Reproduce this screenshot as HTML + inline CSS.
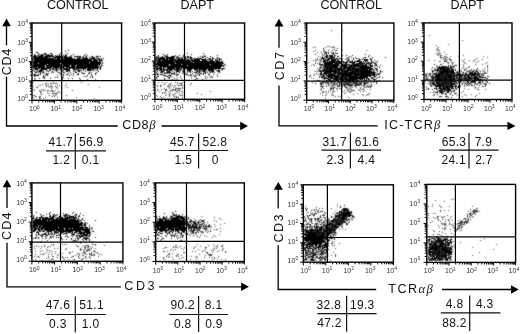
<!DOCTYPE html>
<html><head><meta charset="utf-8"><style>
html,body{margin:0;padding:0;background:#fff;width:520px;height:334px;overflow:hidden}
svg{display:block;will-change:transform}
</style></head><body>
<svg width="520" height="334" viewBox="0 0 520 334">
<defs><filter id="bl" x="0" y="0" width="520" height="334" filterUnits="userSpaceOnUse"><feConvolveMatrix order="3" kernelMatrix="0.04 0.1 0.04 0.1 0.44 0.1 0.04 0.1 0.04" divisor="1" edgeMode="none"/></filter></defs>
<rect width="520" height="334" fill="#fff"/>
<g filter="url(#bl)" stroke-width="1" fill="none">
<path stroke="#000" d="M56 64.5h1M35 60.5h1M36 60.5h1M62 62.5h1M61 60.5h1M44 56.5h1M67 67.5h1M37 58.5h1M43 62.5h1M88 66.5h1M74 65.5h1M38 61.5h1M77 63.5h1M70 63.5h1M85 60.5h1M67 61.5h1M80 70.5h1M37 63.5h1M42 61.5h1M78 58.5h1M90 67.5h1M70 60.5h1M91 62.5h1M80 64.5h1M80 62.5h1M49 64.5h1M33 61.5h1M44 62.5h1M41 63.5h1M93 64.5h1M72 58.5h1M90 66.5h1M60 56.5h1M45 61.5h1M52 61.5h1M53 58.5h1M76 62.5h1M82 64.5h1M87 59.5h1M58 62.5h1M47 63.5h1M37 60.5h1M39 61.5h1M90 62.5h1M48 63.5h1M44 53.5h1M63 62.5h1M38 62.5h1M88 63.5h1M95 63.5h1M71 62.5h1M100 60.5h1M49 62.5h1M81 61.5h1M55 66.5h1M101 59.5h1M87 60.5h1M67 62.5h1M34 62.5h1M100 62.5h1M57 63.5h1M46 65.5h1M94 60.5h1M77 61.5h1M80 59.5h1M82 63.5h1M84 67.5h1M96 65.5h1M96 61.5h1M44 66.5h1M89 67.5h1M97 61.5h1M69 62.5h1M96 60.5h1M91 65.5h1M88 65.5h1M52 65.5h1M92 65.5h1M73 60.5h1M92 63.5h1M70 62.5h1M48 61.5h1M41 61.5h1M69 65.5h1M70 64.5h1M82 62.5h1M85 61.5h1M67 60.5h1M93 62.5h1M74 60.5h1M43 63.5h1M37 61.5h1M78 56.5h1M42 56.5h1M46 55.5h1M49 60.5h1M69 61.5h1M41 62.5h1M83 63.5h1M64 62.5h1M74 62.5h1M100 56.5h1M85 64.5h1M64 59.5h1M52 66.5h1M70 61.5h1M36 57.5h1M40 59.5h1M90 65.5h1M38 58.5h1M51 59.5h1M52 63.5h1M36 63.5h1M53 59.5h1M67 64.5h1M34 61.5h1M65 61.5h1M87 65.5h1M59 62.5h1M44 63.5h1M50 62.5h1M91 59.5h1M51 63.5h1M64 64.5h1M55 59.5h1M69 69.5h1M53 61.5h1M56 62.5h1M46 61.5h1M52 62.5h1M46 59.5h1M81 59.5h1M90 64.5h1M100 67.5h1M79 64.5h1M90 59.5h1M68 57.5h1M84 59.5h1M78 60.5h1M36 62.5h1M41 57.5h1M72 59.5h1M51 62.5h1M82 67.5h1M96 63.5h1M63 57.5h1M73 61.5h1M42 65.5h1M36 65.5h1M65 62.5h1M41 59.5h1M98 63.5h1M65 55.5h1M62 63.5h1M96 67.5h1M37 59.5h1M42 57.5h1M92 61.5h1M54 63.5h1M54 61.5h1M83 61.5h1M94 57.5h1M98 62.5h1M61 62.5h1M40 58.5h1M95 65.5h1M99 59.5h1M79 58.5h1M78 64.5h1M76 63.5h1M98 67.5h1M51 60.5h1M42 62.5h1M57 62.5h1M46 58.5h1M81 64.5h1M66 64.5h1M36 68.5h1M38 60.5h1M99 58.5h1M90 63.5h1M91 56.5h1M66 55.5h1M63 61.5h1M85 69.5h1M75 63.5h1M47 57.5h1M66 60.5h1M52 60.5h1M55 61.5h1M78 61.5h1M34 63.5h1M79 67.5h1M81 62.5h1M96 68.5h1M49 66.5h1M54 60.5h1M45 64.5h1M78 62.5h1M60 69.5h1M43 61.5h1M62 58.5h1M86 62.5h1M56 67.5h1M85 63.5h1M57 61.5h1M98 66.5h1M88 60.5h1M87 62.5h1M39 63.5h1M50 55.5h1M55 68.5h1M74 67.5h1M86 60.5h1M97 63.5h1M69 60.5h1M58 64.5h1M86 57.5h1M39 65.5h1M50 61.5h1M67 69.5h1M93 63.5h1M40 62.5h1M79 63.5h1M58 58.5h1M42 58.5h1M68 65.5h1M46 63.5h1M45 58.5h1M49 67.5h1M77 62.5h1M66 56.5h1M42 68.5h1M89 63.5h1M71 60.5h1M58 63.5h1M47 58.5h1M43 58.5h1M50 68.5h1M65 54.5h1M58 66.5h1M62 59.5h1M56 61.5h1M47 60.5h1M36 61.5h1M98 64.5h1M38 59.5h1M44 59.5h1M62 57.5h1M66 63.5h1M48 55.5h1M32 58.5h1M36 59.5h1M60 59.5h1M66 66.5h1M84 63.5h1M63 63.5h1M69 63.5h1M38 55.5h1M59 61.5h1M89 70.5h1M45 54.5h1M35 64.5h1M89 65.5h1M66 62.5h1M47 66.5h1M79 61.5h1M73 67.5h1M66 59.5h1M42 60.5h1M59 59.5h1M97 62.5h1M86 64.5h1M46 54.5h1M34 60.5h1M72 63.5h1M45 59.5h1M43 60.5h1M45 63.5h1M91 60.5h1M65 60.5h1M50 60.5h1M67 63.5h1M76 60.5h1M53 62.5h1M93 58.5h1M35 56.5h1M64 58.5h1M33 64.5h1M81 58.5h1M48 60.5h1M84 62.5h1M48 54.5h1M81 68.5h1M55 67.5h1M74 58.5h1M94 64.5h1M81 60.5h1M46 60.5h1M94 63.5h1M77 59.5h1M84 64.5h1M58 56.5h1M95 62.5h1M47 61.5h1M87 61.5h1M42 63.5h1M93 66.5h1M88 70.5h1M68 64.5h1M39 56.5h1M84 61.5h1M56 65.5h1M39 60.5h1M46 67.5h1M63 66.5h1M46 62.5h1M83 58.5h1M55 63.5h1M73 64.5h1M52 56.5h1M57 68.5h1M85 67.5h1M35 66.5h1M86 59.5h1M45 60.5h1M60 57.5h1M65 59.5h1M71 59.5h1M47 55.5h1M83 57.5h1M77 60.5h1M53 60.5h1M61 57.5h1M75 65.5h1M66 61.5h1M71 66.5h1M68 61.5h1M64 57.5h1M63 65.5h1M88 68.5h1M51 66.5h1M42 55.5h1M77 57.5h1M48 62.5h1M48 64.5h1M59 58.5h1M87 67.5h1M75 62.5h1M95 61.5h1M93 61.5h1M89 60.5h1M68 59.5h1M50 63.5h1M35 61.5h1M99 65.5h1M78 63.5h1M80 61.5h1M96 64.5h1M72 67.5h1M55 62.5h1M85 65.5h1M57 60.5h1M66 65.5h1M96 59.5h1M69 58.5h1M34 54.5h1M71 58.5h1M79 66.5h1M63 60.5h1M88 59.5h1M38 64.5h1M62 64.5h1M32 59.5h1M101 66.5h1M44 61.5h1M49 59.5h1M36 56.5h1M90 61.5h1M74 59.5h1M95 70.5h1M76 61.5h1M55 60.5h1M80 66.5h1M55 58.5h1M58 65.5h1M57 64.5h1M80 60.5h1M72 65.5h1M76 59.5h1M58 59.5h1M53 57.5h1M35 59.5h1M83 59.5h1M40 56.5h1M44 58.5h1M72 64.5h1M49 63.5h1M60 64.5h1M87 66.5h1M64 61.5h1M86 56.5h1M51 61.5h1M97 67.5h1M99 63.5h1M35 63.5h1M42 54.5h1M77 66.5h1M51 58.5h1M93 65.5h1M73 63.5h1M79 62.5h1M91 66.5h1M42 66.5h1M102 65.5h1M78 65.5h1M34 57.5h1M45 56.5h1M72 62.5h1M37 57.5h1M57 56.5h1M88 61.5h1M78 66.5h1M40 55.5h1M74 63.5h1M39 59.5h1M53 63.5h1M38 57.5h1M39 58.5h1M55 64.5h1M64 66.5h1M50 64.5h1M90 60.5h1M92 64.5h1M98 56.5h1M76 56.5h1M95 64.5h1M50 59.5h1M59 63.5h1M68 60.5h1M65 64.5h1M41 68.5h1M83 64.5h1M82 57.5h1M65 57.5h1M33 56.5h1M61 56.5h1M63 59.5h1M55 56.5h1M54 64.5h1M56 56.5h1M97 66.5h1M59 60.5h1M94 62.5h1M57 55.5h1M91 58.5h1M100 61.5h1M42 64.5h1M99 62.5h1M49 58.5h1M43 65.5h1M87 63.5h1M83 67.5h1M41 58.5h1M54 62.5h1M86 66.5h1M46 64.5h1M46 66.5h1M60 62.5h1M87 64.5h1M34 58.5h1M43 59.5h1M41 64.5h1M65 65.5h1M52 59.5h1M57 65.5h1M82 65.5h1M40 65.5h1M69 64.5h1M48 65.5h1M34 64.5h1M46 57.5h1M80 65.5h1M87 69.5h1M59 56.5h1M55 65.5h1M41 60.5h1M72 61.5h1M63 64.5h1M40 60.5h1M64 56.5h1M40 63.5h1M37 52.5h1M36 58.5h1M35 55.5h1M53 65.5h1M87 58.5h1M56 66.5h1M52 64.5h1M33 59.5h1M85 62.5h1M50 58.5h1M79 57.5h1M43 64.5h1M101 60.5h1M73 66.5h1M50 66.5h1M56 60.5h1M84 66.5h1M61 68.5h1M86 63.5h1M92 67.5h1M56 57.5h1M94 61.5h1M69 66.5h1M61 66.5h1M67 57.5h1M61 58.5h1M37 62.5h1M92 62.5h1M37 64.5h1M48 59.5h1M71 56.5h1M82 59.5h1M53 56.5h1M52 69.5h1M64 63.5h1M45 62.5h1M93 68.5h1M73 62.5h1M81 65.5h1M75 59.5h1M45 53.5h1M76 64.5h1M91 64.5h1M54 57.5h1M73 65.5h1M101 64.5h1M81 63.5h1M75 61.5h1M84 60.5h1M99 68.5h1M40 61.5h1M44 65.5h1M85 71.5h1M96 66.5h1M75 64.5h1M90 68.5h1M92 68.5h1M99 64.5h1M95 67.5h1M36 66.5h1M85 57.5h1M35 65.5h1M60 61.5h1M74 61.5h1M83 62.5h1M102 63.5h1M94 67.5h1M73 68.5h1M65 63.5h1M89 61.5h1M57 58.5h1M99 60.5h1M66 57.5h1M54 67.5h1M60 65.5h1M86 65.5h1M97 60.5h1M69 59.5h1M62 61.5h1M101 58.5h1M92 57.5h1M64 60.5h1M88 69.5h1M71 63.5h1M54 66.5h1M51 56.5h1M61 61.5h1M47 59.5h1M77 64.5h1M91 68.5h1M76 68.5h1M76 66.5h1M91 67.5h1M102 62.5h1M50 65.5h1M67 59.5h1M41 66.5h1M33 62.5h1M72 66.5h1M33 57.5h1M44 54.5h1M93 57.5h1M89 57.5h1M100 68.5h1M85 68.5h1M78 59.5h1M86 58.5h1M52 58.5h1M36 64.5h1M38 65.5h1M89 59.5h1M89 66.5h1M88 62.5h1M95 66.5h1M58 61.5h1M63 55.5h1M58 67.5h1M94 66.5h1M82 61.5h1M83 66.5h1M43 67.5h1M83 65.5h1M75 67.5h1M58 60.5h1M82 60.5h1M88 64.5h1M79 59.5h1M95 60.5h1M65 56.5h1M70 67.5h1M86 61.5h1M85 58.5h1M47 62.5h1M40 64.5h1M52 54.5h1M39 62.5h1M45 57.5h1M99 61.5h1M35 57.5h1M39 54.5h1M43 57.5h1M102 60.5h1M92 56.5h1M70 58.5h1M37 69.5h1M94 65.5h1M34 59.5h1M41 54.5h1M77 65.5h1M59 64.5h1M38 56.5h1M39 57.5h1M71 57.5h1M83 56.5h1M79 60.5h1M93 69.5h1M51 64.5h1M34 66.5h1M93 67.5h1M71 65.5h1M92 66.5h1M33 65.5h1M100 66.5h1M77 58.5h1M62 60.5h1M35 58.5h1M47 65.5h1M34 56.5h1M44 64.5h1M74 56.5h1M68 63.5h1M61 67.5h1M96 57.5h1M44 57.5h1M91 74.5h1M64 69.5h1M59 65.5h1M80 56.5h1M70 57.5h1M90 58.5h1M78 69.5h1M85 66.5h1M44 60.5h1M100 63.5h1M81 67.5h1M87 55.5h1M65 66.5h1M67 58.5h1M37 55.5h1M56 63.5h1M89 64.5h1M62 56.5h1M57 57.5h1M98 58.5h1M67 66.5h1M94 68.5h1M61 54.5h1M50 56.5h1M91 61.5h1M53 67.5h1M80 63.5h1M69 57.5h1M57 66.5h1M87 68.5h1M97 64.5h1M51 65.5h1M80 68.5h1M59 54.5h1M74 64.5h1M59 57.5h1M93 60.5h1M53 64.5h1M85 59.5h1M50 69.5h1M34 55.5h1M94 58.5h1M54 59.5h1M76 67.5h1M65 68.5h1M49 57.5h1M97 65.5h1M86 67.5h1M67 65.5h1M96 62.5h1M42 59.5h1M98 59.5h1M70 59.5h1M98 71.5h1M72 60.5h1M83 68.5h1M46 56.5h1M36 52.5h1M97 69.5h1M49 61.5h1M60 60.5h1M68 67.5h1M83 60.5h1M42 67.5h1M53 66.5h1M97 68.5h1M35 62.5h1M75 56.5h1M60 66.5h1M40 57.5h1M92 69.5h1M51 55.5h1M48 58.5h1M49 68.5h1M55 57.5h1M84 68.5h1M84 58.5h1M59 55.5h1M82 66.5h1M41 55.5h1M58 57.5h1M61 59.5h1M32 61.5h1M77 67.5h1M66 69.5h1M39 64.5h1M91 63.5h1M61 65.5h1M103 58.5h1M75 72.5h1M48 56.5h1M97 58.5h1M48 68.5h1M95 59.5h1M77 56.5h1M76 69.5h1M97 56.5h1M56 59.5h1M71 55.5h1M49 56.5h1M68 58.5h1M47 56.5h1M63 67.5h1M68 62.5h1M73 54.5h1M32 66.5h1M65 58.5h1M37 66.5h1M55 55.5h1M70 72.5h1M78 70.5h1M78 67.5h1M100 69.5h1M50 67.5h1M43 55.5h1M79 68.5h1M73 59.5h1M33 63.5h1M79 56.5h1M66 58.5h1M41 67.5h1M80 57.5h1M79 65.5h1M71 64.5h1M38 53.5h1M50 53.5h1M69 56.5h1M61 71.5h1M78 71.5h1M95 68.5h1M49 55.5h1M60 53.5h1M89 68.5h1M84 55.5h1M73 69.5h1M41 56.5h1M36 69.5h1M94 59.5h1M67 53.5h1M56 69.5h1M85 54.5h1M93 59.5h1M63 72.5h1M92 58.5h1M54 65.5h1M69 71.5h1M96 56.5h1M75 60.5h1M52 55.5h1M57 59.5h1M56 70.5h1M68 50.5h1M91 70.5h1M65 51.5h1M71 61.5h1M74 69.5h1M51 53.5h1M41 65.5h1M35 69.5h1M55 77.5h1M36 71.5h1M77 68.5h1M66 67.5h1M39 68.5h1M61 76.5h1M67 71.5h1M42 70.5h1M69 75.5h1M40 67.5h1M46 68.5h1M33 67.5h1M33 68.5h1M68 66.5h1M67 68.5h1M43 72.5h1M33 66.5h1M47 75.5h1M45 69.5h1M60 67.5h1M90 77.5h1M75 71.5h1M37 65.5h1M83 70.5h1M43 77.5h1M48 67.5h1M89 73.5h1M81 72.5h1M84 73.5h1M59 66.5h1M78 73.5h1M79 78.5h1M47 67.5h1M52 71.5h1M73 75.5h1M46 74.5h1M34 71.5h1M75 69.5h1M40 71.5h1M83 69.5h1M41 69.5h1M37 75.5h1M68 78.5h1M39 66.5h1M45 68.5h1M57 77.5h1M63 70.5h1M64 72.5h1M49 65.5h1M96 72.5h1M41 70.5h1M43 66.5h1M33 74.5h1M40 73.5h1M58 69.5h1M66 70.5h1M86 76.5h1M35 72.5h1M39 67.5h1M40 74.5h1M82 73.5h1M50 78.5h1M43 69.5h1M68 70.5h1M60 74.5h1M35 67.5h1M64 68.5h1M63 69.5h1M42 69.5h1M53 68.5h1M78 68.5h1M74 70.5h1M42 72.5h1M41 71.5h1M57 67.5h1M73 71.5h1M81 66.5h1M70 68.5h1M56 68.5h1M44 67.5h1M46 71.5h1M58 72.5h1M51 67.5h1M68 69.5h1M50 70.5h1M44 77.5h1M44 68.5h1M40 72.5h1M34 67.5h1M79 71.5h1M88 67.5h1M82 68.5h1M38 75.5h1M63 74.5h1M38 68.5h1M74 68.5h1M66 74.5h1M34 75.5h1M38 66.5h1M37 68.5h1M46 73.5h1M92 77.5h1M43 71.5h1M59 72.5h1M34 65.5h1M59 68.5h1M95 74.5h1M36 72.5h1M67 74.5h1M43 75.5h1M89 69.5h1M56 71.5h1M46 69.5h1M43 68.5h1M84 76.5h1M34 69.5h1M71 67.5h1M54 70.5h1M38 67.5h1M64 65.5h1M33 70.5h1M63 77.5h1M62 77.5h1M40 69.5h1M91 72.5h1M69 68.5h1M38 71.5h1M91 75.5h1M68 73.5h1M35 68.5h1M69 70.5h1M89 72.5h1M61 78.5h1M47 70.5h1M74 66.5h1M57 75.5h1M57 70.5h1M63 68.5h1M90 70.5h1M38 74.5h1M44 73.5h1M77 74.5h1M87 70.5h1M49 70.5h1M60 68.5h1M92 76.5h1M44 78.5h1M34 74.5h1M93 70.5h1M66 68.5h1M79 70.5h1M34 76.5h1M62 71.5h1M38 72.5h1M95 73.5h1M80 79.5h1M83 73.5h1M67 70.5h1M47 74.5h1M35 79.5h1M80 67.5h1M34 78.5h1M53 72.5h1M52 68.5h1M55 69.5h1M37 70.5h1M81 70.5h1M53 69.5h1M69 67.5h1M78 74.5h1M72 68.5h1M87 79.5h1M84 65.5h1M36 75.5h1M63 75.5h1M40 70.5h1M62 66.5h1M60 73.5h1M40 66.5h1M62 67.5h1M48 66.5h1M39 78.5h1M65 69.5h1M97 70.5h1M39 70.5h1M66 71.5h1M88 73.5h1M43 76.5h1M95 79.5h1M48 73.5h1M71 74.5h1M51 72.5h1M35 74.5h1M35 75.5h1M77 70.5h1M62 79.5h1M72 78.5h1M87 75.5h1M39 71.5h1M47 68.5h1M45 75.5h1M90 69.5h1M73 73.5h1M76 72.5h1M44 69.5h1M60 70.5h1M36 67.5h1M48 71.5h1"/>
<path stroke="#404040" d="M57 97.5h1M48 90.5h1M37 87.5h1M38 85.5h1M49 87.5h1M53 91.5h1M55 83.5h1M55 90.5h1M50 86.5h1M51 88.5h1M52 91.5h1M36 87.5h1M53 82.5h1M50 91.5h1M52 87.5h1M45 90.5h1M53 83.5h1M46 86.5h1M48 86.5h1M57 88.5h1M56 94.5h1M40 91.5h1M33 97.5h1M50 83.5h1M47 90.5h1M51 86.5h1M57 92.5h1M34 95.5h1M56 87.5h1M52 96.5h1M56 83.5h1M55 86.5h1M54 93.5h1M45 97.5h1M58 91.5h1M52 93.5h1M43 90.5h1M46 85.5h1M40 96.5h1M55 93.5h1M51 90.5h1M48 93.5h1M33 89.5h1M59 85.5h1M45 83.5h1M39 96.5h1M33 95.5h1M54 96.5h1M39 97.5h1M43 89.5h1M51 83.5h1M33 86.5h1M35 96.5h1M39 98.5h1M51 85.5h1M47 83.5h1M55 95.5h1M42 84.5h1M41 94.5h1M48 84.5h1M39 90.5h1M33 82.5h1M45 84.5h1M57 84.5h1M53 95.5h1M41 91.5h1M59 92.5h1M43 98.5h1M40 98.5h1M41 89.5h1M41 93.5h1M56 93.5h1M52 90.5h1M49 95.5h1M53 93.5h1M34 90.5h1M40 92.5h1M47 92.5h1M57 86.5h1M40 85.5h1M36 96.5h1M76 97.5h1M94 98.5h1M99 87.5h1M65 86.5h1M81 82.5h1M72 90.5h1M88 84.5h1M67 87.5h1M66 84.5h1M66 95.5h1"/>
<path stroke="#000" d="M216 66.5h1M209 62.5h1M209 65.5h1M218 71.5h1M205 64.5h1M199 67.5h1M171 59.5h1M200 63.5h1M214 61.5h1M191 64.5h1M190 67.5h1M172 62.5h1M212 62.5h1M186 61.5h1M182 63.5h1M209 64.5h1M201 65.5h1M174 65.5h1M178 63.5h1M178 57.5h1M162 57.5h1M182 59.5h1M179 67.5h1M181 66.5h1M206 60.5h1M206 67.5h1M157 64.5h1M166 62.5h1M197 65.5h1M200 64.5h1M210 58.5h1M174 67.5h1M168 61.5h1M193 64.5h1M184 63.5h1M205 60.5h1M167 63.5h1M192 64.5h1M170 60.5h1M175 62.5h1M162 66.5h1M163 58.5h1M207 65.5h1M162 59.5h1M206 66.5h1M165 61.5h1M186 68.5h1M202 62.5h1M156 58.5h1M158 56.5h1M176 62.5h1M214 62.5h1M190 65.5h1M181 65.5h1M206 62.5h1M212 67.5h1M204 61.5h1M169 61.5h1M189 67.5h1M199 60.5h1M209 71.5h1M192 62.5h1M161 57.5h1M203 59.5h1M161 62.5h1M195 63.5h1M181 58.5h1M157 62.5h1M167 58.5h1M178 64.5h1M167 65.5h1M183 63.5h1M209 66.5h1M189 63.5h1M160 62.5h1M222 65.5h1M156 60.5h1M208 66.5h1M182 62.5h1M195 67.5h1M188 66.5h1M156 66.5h1M208 61.5h1M203 68.5h1M157 63.5h1M178 62.5h1M217 68.5h1M213 66.5h1M158 58.5h1M206 65.5h1M187 61.5h1M174 56.5h1M186 64.5h1M176 68.5h1M181 60.5h1M216 62.5h1M185 67.5h1M196 66.5h1M197 62.5h1M184 61.5h1M188 63.5h1M203 65.5h1M213 61.5h1M193 66.5h1M162 69.5h1M182 65.5h1M158 61.5h1M167 57.5h1M187 63.5h1M177 62.5h1M218 70.5h1M209 61.5h1M189 62.5h1M172 63.5h1M189 61.5h1M181 63.5h1M203 64.5h1M214 65.5h1M173 60.5h1M217 65.5h1M210 65.5h1M171 64.5h1M202 63.5h1M178 65.5h1M199 65.5h1M219 67.5h1M166 59.5h1M190 60.5h1M174 57.5h1M158 62.5h1M201 66.5h1M198 63.5h1M181 67.5h1M164 59.5h1M201 62.5h1M203 63.5h1M161 59.5h1M162 61.5h1M175 60.5h1M205 61.5h1M183 64.5h1M207 62.5h1M202 64.5h1M200 61.5h1M220 62.5h1M206 63.5h1M213 65.5h1M177 64.5h1M201 61.5h1M212 65.5h1M170 62.5h1M162 60.5h1M159 59.5h1M192 60.5h1M215 59.5h1M164 60.5h1M217 57.5h1M203 66.5h1M192 61.5h1M195 61.5h1M173 65.5h1M201 70.5h1M188 60.5h1M155 64.5h1M164 61.5h1M187 64.5h1M177 61.5h1M187 67.5h1M197 63.5h1M199 66.5h1M187 56.5h1M179 61.5h1M201 64.5h1M182 64.5h1M180 67.5h1M198 64.5h1M216 67.5h1M190 69.5h1M220 66.5h1M165 63.5h1M159 63.5h1M162 63.5h1M208 62.5h1M198 60.5h1M167 68.5h1M201 63.5h1M199 64.5h1M207 64.5h1M206 64.5h1M178 67.5h1M218 66.5h1M175 55.5h1M185 56.5h1M204 59.5h1M218 64.5h1M185 63.5h1M180 59.5h1M210 61.5h1M193 60.5h1M202 68.5h1M179 60.5h1M217 63.5h1M179 65.5h1M197 64.5h1M220 67.5h1M196 63.5h1M202 61.5h1M166 57.5h1M203 67.5h1M187 66.5h1M220 64.5h1M204 67.5h1M197 68.5h1M183 56.5h1M187 59.5h1M209 70.5h1M180 57.5h1M174 66.5h1M163 62.5h1M191 62.5h1M188 65.5h1M210 62.5h1M201 68.5h1M204 65.5h1M208 63.5h1M196 62.5h1M159 61.5h1M186 60.5h1M165 60.5h1M173 63.5h1M166 65.5h1M168 63.5h1M161 63.5h1M215 62.5h1M195 62.5h1M196 64.5h1M209 67.5h1M186 67.5h1M207 66.5h1M170 65.5h1M205 66.5h1M164 64.5h1M160 63.5h1M210 67.5h1M158 59.5h1M207 59.5h1M173 66.5h1M202 69.5h1M211 68.5h1M186 62.5h1M157 59.5h1M167 59.5h1M203 60.5h1M158 63.5h1M188 64.5h1M163 63.5h1M183 66.5h1M166 56.5h1M159 58.5h1M188 62.5h1M206 61.5h1M210 66.5h1M215 67.5h1M218 62.5h1M161 64.5h1M212 68.5h1M161 58.5h1M214 68.5h1M200 62.5h1M164 63.5h1M165 64.5h1M213 63.5h1M155 58.5h1M199 59.5h1M217 64.5h1M216 68.5h1M190 62.5h1M219 61.5h1M200 67.5h1M175 66.5h1M161 65.5h1M168 58.5h1M172 57.5h1M188 57.5h1M202 65.5h1M200 65.5h1M198 68.5h1M169 68.5h1M186 63.5h1M189 60.5h1M213 64.5h1M160 65.5h1M165 62.5h1M191 63.5h1M187 62.5h1M173 56.5h1M156 59.5h1M193 68.5h1M205 63.5h1M212 71.5h1M194 61.5h1M166 64.5h1M159 67.5h1M163 61.5h1M202 60.5h1M173 62.5h1M192 65.5h1M213 62.5h1M168 65.5h1M190 64.5h1M191 65.5h1M179 59.5h1M177 63.5h1M193 63.5h1M176 57.5h1M196 68.5h1M175 65.5h1M201 58.5h1M186 65.5h1M172 59.5h1M200 66.5h1M160 61.5h1M185 65.5h1M172 65.5h1M187 60.5h1M202 66.5h1M181 61.5h1M219 68.5h1M201 67.5h1M175 61.5h1M216 64.5h1M194 62.5h1M207 63.5h1M187 71.5h1M197 69.5h1M170 61.5h1M158 65.5h1M176 64.5h1M173 57.5h1M184 60.5h1M176 63.5h1M207 67.5h1M166 61.5h1M213 69.5h1M184 62.5h1M212 70.5h1M170 63.5h1M160 58.5h1M217 61.5h1M208 64.5h1M194 63.5h1M214 66.5h1M218 58.5h1M218 65.5h1M207 72.5h1M168 68.5h1M199 62.5h1M219 63.5h1M204 66.5h1M193 61.5h1M218 68.5h1M196 67.5h1M180 63.5h1M162 65.5h1M160 59.5h1M184 54.5h1M219 64.5h1M194 66.5h1M216 70.5h1M172 60.5h1M172 61.5h1M163 59.5h1M214 63.5h1M200 68.5h1M193 67.5h1M204 62.5h1M220 63.5h1M168 66.5h1M165 67.5h1M155 60.5h1M202 67.5h1M178 69.5h1M185 59.5h1M210 63.5h1M168 60.5h1M160 60.5h1M161 68.5h1M177 59.5h1M217 67.5h1M169 66.5h1M168 57.5h1M185 66.5h1M177 65.5h1M192 66.5h1M204 63.5h1M194 67.5h1M192 67.5h1M184 66.5h1M191 59.5h1M215 63.5h1M180 62.5h1M174 63.5h1M169 59.5h1M161 61.5h1M171 62.5h1M163 60.5h1M157 61.5h1M173 59.5h1M176 67.5h1M209 63.5h1M217 66.5h1M182 61.5h1M215 66.5h1M216 61.5h1M175 64.5h1M177 68.5h1M194 64.5h1M191 69.5h1M221 59.5h1M183 61.5h1M168 64.5h1M220 65.5h1M181 62.5h1M173 58.5h1M197 59.5h1M197 67.5h1M178 61.5h1M191 68.5h1M180 64.5h1M221 66.5h1M182 58.5h1M169 62.5h1M176 60.5h1M193 58.5h1M195 66.5h1M155 63.5h1M180 61.5h1M205 65.5h1M158 68.5h1M214 64.5h1M205 59.5h1M216 58.5h1M179 63.5h1M222 63.5h1M172 64.5h1M188 59.5h1M198 66.5h1M213 58.5h1M171 58.5h1M208 59.5h1M223 66.5h1M185 58.5h1M174 59.5h1M199 63.5h1M173 67.5h1M212 63.5h1M186 66.5h1M195 60.5h1M193 65.5h1M170 67.5h1M185 62.5h1M184 64.5h1M161 66.5h1M211 70.5h1M213 67.5h1M176 66.5h1M194 68.5h1M178 68.5h1M188 67.5h1M211 67.5h1M167 61.5h1M221 62.5h1M178 59.5h1M155 65.5h1M212 64.5h1M159 62.5h1M160 66.5h1M198 67.5h1M168 62.5h1M184 67.5h1M209 58.5h1M183 62.5h1M159 65.5h1M203 69.5h1M208 69.5h1M166 63.5h1M223 65.5h1M182 60.5h1M222 69.5h1M164 58.5h1M208 67.5h1M212 57.5h1M192 68.5h1M179 64.5h1M202 59.5h1M217 59.5h1M164 67.5h1M178 66.5h1M180 60.5h1M203 62.5h1M169 60.5h1M185 68.5h1M159 70.5h1M212 59.5h1M158 64.5h1M212 69.5h1M165 69.5h1M174 62.5h1M171 60.5h1M167 60.5h1M219 70.5h1M167 56.5h1M206 71.5h1M170 64.5h1M165 59.5h1M211 60.5h1M166 66.5h1M179 62.5h1M171 65.5h1M170 58.5h1M190 63.5h1M194 69.5h1M199 58.5h1M189 65.5h1M162 56.5h1M217 55.5h1M182 57.5h1M208 65.5h1M157 65.5h1M200 58.5h1M216 63.5h1M162 62.5h1M199 61.5h1M212 61.5h1M188 56.5h1M211 66.5h1M163 57.5h1M183 67.5h1M156 61.5h1M174 64.5h1M165 65.5h1M211 63.5h1M171 61.5h1M195 59.5h1M166 72.5h1M179 66.5h1M164 62.5h1M194 58.5h1M183 59.5h1M215 64.5h1M164 65.5h1M191 66.5h1M192 63.5h1M158 60.5h1M181 59.5h1M190 61.5h1M167 62.5h1M184 65.5h1M191 58.5h1M198 65.5h1M168 72.5h1M204 64.5h1M187 68.5h1M164 55.5h1M211 71.5h1M192 71.5h1M196 65.5h1M165 66.5h1M162 64.5h1M184 57.5h1M185 61.5h1M156 56.5h1M223 63.5h1M194 59.5h1M204 68.5h1M197 61.5h1M219 71.5h1M199 69.5h1M223 68.5h1M156 57.5h1M183 60.5h1M218 69.5h1M188 61.5h1M195 64.5h1M219 60.5h1M190 66.5h1M204 56.5h1M197 66.5h1M163 68.5h1M189 64.5h1M177 60.5h1M183 65.5h1M211 65.5h1M171 73.5h1M189 66.5h1M219 62.5h1M213 70.5h1M178 58.5h1M173 64.5h1M173 68.5h1M206 69.5h1M167 54.5h1M164 57.5h1M176 65.5h1M217 62.5h1M205 58.5h1M218 61.5h1M163 69.5h1M182 66.5h1M217 74.5h1M222 62.5h1M204 69.5h1M163 67.5h1M184 68.5h1M171 57.5h1M198 62.5h1M169 63.5h1M191 60.5h1M207 57.5h1M177 67.5h1M222 61.5h1M185 57.5h1M180 65.5h1M197 60.5h1M176 61.5h1M221 69.5h1M196 60.5h1M218 63.5h1M195 65.5h1M216 65.5h1M166 70.5h1M219 65.5h1M159 64.5h1M183 69.5h1M211 62.5h1M211 69.5h1M160 57.5h1M204 60.5h1M168 67.5h1M222 68.5h1M221 63.5h1M194 60.5h1M157 67.5h1M219 66.5h1M173 61.5h1M199 70.5h1M172 58.5h1M156 64.5h1M212 66.5h1M177 56.5h1M217 60.5h1M157 57.5h1M198 61.5h1M159 66.5h1M155 66.5h1M170 59.5h1M169 67.5h1M171 56.5h1M195 69.5h1M219 58.5h1M178 60.5h1M212 60.5h1M190 57.5h1M163 64.5h1M184 69.5h1M217 76.5h1M215 69.5h1M206 68.5h1M196 71.5h1M209 59.5h1M174 60.5h1M157 66.5h1M175 59.5h1M190 72.5h1M158 55.5h1M179 55.5h1M188 68.5h1M160 67.5h1M220 68.5h1M205 56.5h1M201 59.5h1M172 56.5h1M180 66.5h1M171 63.5h1M210 69.5h1M176 71.5h1M195 68.5h1M215 65.5h1M219 59.5h1M189 70.5h1M163 65.5h1M166 60.5h1M155 62.5h1M179 58.5h1M165 56.5h1M167 64.5h1M203 61.5h1M219 72.5h1M171 68.5h1M224 68.5h1M194 65.5h1M158 57.5h1M161 67.5h1M208 68.5h1M176 58.5h1M177 66.5h1M185 64.5h1M189 58.5h1M163 54.5h1M221 64.5h1M166 58.5h1M218 67.5h1M162 58.5h1M160 64.5h1M196 61.5h1M171 66.5h1M200 56.5h1M175 67.5h1M205 62.5h1M170 66.5h1M210 68.5h1M211 64.5h1M188 69.5h1M202 56.5h1M171 67.5h1M210 70.5h1M185 60.5h1M190 58.5h1M210 72.5h1M215 60.5h1M209 68.5h1M166 69.5h1M196 58.5h1M156 63.5h1M159 60.5h1M177 71.5h1M196 59.5h1M202 71.5h1M221 65.5h1M197 58.5h1M207 61.5h1M170 57.5h1M198 59.5h1M217 71.5h1M212 58.5h1M202 57.5h1M221 61.5h1M169 57.5h1M204 70.5h1M172 68.5h1M203 57.5h1M172 66.5h1M203 53.5h1M187 53.5h1M186 74.5h1M176 72.5h1M204 55.5h1M181 69.5h1M215 68.5h1M186 58.5h1M210 59.5h1M177 57.5h1M192 59.5h1M225 65.5h1M191 57.5h1M205 69.5h1M197 71.5h1M205 73.5h1M216 60.5h1M180 70.5h1M169 58.5h1M163 71.5h1M213 68.5h1M191 54.5h1M210 60.5h1M196 69.5h1M205 67.5h1M198 57.5h1M177 70.5h1M187 57.5h1M191 67.5h1M190 68.5h1M187 69.5h1M184 73.5h1M166 55.5h1M183 55.5h1M210 56.5h1M224 64.5h1M190 56.5h1M198 74.5h1M211 61.5h1M164 66.5h1M220 59.5h1M199 68.5h1M160 69.5h1M176 79.5h1M160 70.5h1M162 74.5h1M181 78.5h1M178 70.5h1M196 75.5h1M214 67.5h1M164 69.5h1M209 69.5h1M163 70.5h1M200 69.5h1M180 69.5h1M156 78.5h1M213 71.5h1M170 68.5h1M169 75.5h1M197 73.5h1M194 72.5h1M184 71.5h1M177 69.5h1M178 71.5h1M183 68.5h1M161 72.5h1M156 77.5h1M168 69.5h1M195 74.5h1M183 72.5h1M171 69.5h1M209 73.5h1M174 78.5h1M209 75.5h1M174 72.5h1M191 77.5h1M170 69.5h1M165 75.5h1M199 71.5h1M189 68.5h1M167 73.5h1M197 78.5h1M182 67.5h1M189 71.5h1M202 79.5h1M204 72.5h1M195 76.5h1M187 70.5h1M175 69.5h1M185 73.5h1M168 75.5h1M163 75.5h1M159 68.5h1M179 69.5h1M207 68.5h1M164 78.5h1M199 72.5h1M188 75.5h1M195 72.5h1M157 69.5h1M167 70.5h1M190 71.5h1M156 68.5h1M167 69.5h1M167 67.5h1M207 77.5h1M196 78.5h1M162 71.5h1M167 71.5h1M203 74.5h1M156 67.5h1M156 70.5h1M195 70.5h1M213 74.5h1M201 73.5h1M172 79.5h1M188 70.5h1M156 69.5h1M172 69.5h1M170 75.5h1M172 67.5h1M181 68.5h1M205 72.5h1M169 71.5h1M189 69.5h1M174 70.5h1M174 74.5h1M161 69.5h1M164 79.5h1M212 72.5h1M165 73.5h1M212 77.5h1M183 71.5h1M187 74.5h1M172 71.5h1M168 71.5h1M174 68.5h1M203 73.5h1M167 66.5h1M203 70.5h1M199 75.5h1M176 75.5h1M157 71.5h1M179 71.5h1M169 78.5h1M198 70.5h1M172 76.5h1M176 69.5h1M208 74.5h1M190 70.5h1M174 69.5h1M171 70.5h1M214 72.5h1M160 72.5h1M162 72.5h1M182 73.5h1M158 74.5h1M156 72.5h1M176 70.5h1M192 73.5h1M169 73.5h1M171 74.5h1M179 68.5h1M157 74.5h1M160 74.5h1M169 72.5h1M187 72.5h1M184 74.5h1M177 74.5h1M177 77.5h1M161 70.5h1M178 74.5h1M183 70.5h1M164 70.5h1M197 70.5h1M211 76.5h1M158 76.5h1M196 72.5h1M158 69.5h1M160 68.5h1M169 77.5h1M167 72.5h1M195 79.5h1M163 66.5h1M210 77.5h1M204 71.5h1M205 78.5h1M164 72.5h1M193 75.5h1M180 76.5h1M168 77.5h1M190 74.5h1M173 73.5h1M199 74.5h1M166 76.5h1M170 72.5h1M157 73.5h1M174 73.5h1M169 69.5h1M208 70.5h1M161 71.5h1M194 76.5h1M205 70.5h1M205 68.5h1M201 69.5h1M164 75.5h1M203 71.5h1M191 75.5h1M156 74.5h1M157 76.5h1M205 76.5h1M176 74.5h1M161 74.5h1M200 73.5h1M190 75.5h1M179 72.5h1M170 70.5h1M182 71.5h1M172 73.5h1M169 70.5h1M200 71.5h1M198 72.5h1M164 73.5h1M170 76.5h1M167 76.5h1M157 68.5h1"/>
<path stroke="#404040" d="M166 89.5h1M169 94.5h1M177 88.5h1M176 91.5h1M156 95.5h1M179 92.5h1M169 96.5h1M182 91.5h1M157 90.5h1M161 89.5h1M172 85.5h1M157 89.5h1M174 90.5h1M182 87.5h1M168 91.5h1M161 97.5h1M176 97.5h1M166 90.5h1M170 83.5h1M162 92.5h1M181 83.5h1M165 90.5h1M167 86.5h1M160 86.5h1M157 86.5h1M157 96.5h1M173 89.5h1M164 92.5h1M165 95.5h1M178 85.5h1M169 87.5h1M182 85.5h1M157 85.5h1M181 91.5h1M175 89.5h1M175 88.5h1M170 92.5h1M177 97.5h1M173 95.5h1M160 85.5h1M180 83.5h1M168 85.5h1M170 86.5h1M178 97.5h1M166 94.5h1M170 84.5h1M164 83.5h1M160 96.5h1M169 95.5h1M168 86.5h1M182 82.5h1M161 85.5h1M169 88.5h1M159 91.5h1M179 90.5h1M165 89.5h1M162 82.5h1M164 88.5h1M176 88.5h1M179 83.5h1M164 84.5h1M177 84.5h1M171 90.5h1M175 90.5h1M163 97.5h1M169 84.5h1M170 90.5h1M158 82.5h1M169 93.5h1M165 92.5h1M162 93.5h1M177 90.5h1M180 88.5h1M166 82.5h1M172 90.5h1M181 84.5h1M172 89.5h1M178 88.5h1M176 96.5h1M182 97.5h1M173 87.5h1M174 96.5h1M178 90.5h1M172 94.5h1M175 82.5h1M181 85.5h1M179 89.5h1M174 97.5h1M175 93.5h1M179 88.5h1M182 88.5h1M174 85.5h1M182 93.5h1M175 86.5h1M180 95.5h1M174 94.5h1M177 92.5h1M179 94.5h1M177 82.5h1M179 85.5h1M181 95.5h1M182 95.5h1M197 93.5h1M201 94.5h1M210 91.5h1M190 84.5h1M191 83.5h1"/>
<path stroke="#000" d="M338 56.5h1M327 72.5h1M324 62.5h1M342 75.5h1M333 67.5h1M330 61.5h1M326 60.5h1M325 67.5h1M333 60.5h1M331 58.5h1M332 64.5h1M330 68.5h1M337 68.5h1M327 68.5h1M332 70.5h1M335 61.5h1M325 71.5h1M325 70.5h1M343 75.5h1M324 61.5h1M332 65.5h1M334 68.5h1M323 74.5h1M319 67.5h1M325 52.5h1M333 59.5h1M329 68.5h1M330 69.5h1M338 71.5h1M326 66.5h1M329 61.5h1M334 64.5h1M332 71.5h1M340 63.5h1M334 81.5h1M338 69.5h1M328 64.5h1M322 65.5h1M321 73.5h1M333 64.5h1M331 67.5h1M329 69.5h1M330 70.5h1M327 67.5h1M338 61.5h1M327 73.5h1M332 68.5h1M331 64.5h1M328 70.5h1M331 71.5h1M333 81.5h1M331 76.5h1M331 81.5h1M335 62.5h1M338 63.5h1M337 53.5h1M334 63.5h1M331 55.5h1M329 62.5h1M335 68.5h1M330 74.5h1M329 70.5h1M329 76.5h1M328 80.5h1M334 61.5h1M328 76.5h1M338 59.5h1M342 71.5h1M330 73.5h1M331 61.5h1M330 65.5h1M330 67.5h1M332 62.5h1M334 56.5h1M334 70.5h1M333 57.5h1M328 68.5h1M333 72.5h1M323 67.5h1M336 59.5h1M325 64.5h1M329 65.5h1M337 69.5h1M321 72.5h1M331 72.5h1M330 76.5h1M325 73.5h1M330 55.5h1M335 75.5h1M321 71.5h1M334 78.5h1M336 62.5h1M324 76.5h1M326 72.5h1M331 69.5h1M332 56.5h1M339 84.5h1M334 67.5h1M326 68.5h1M328 73.5h1M337 73.5h1M334 74.5h1M339 61.5h1M332 63.5h1M331 66.5h1M324 50.5h1M332 74.5h1M329 77.5h1M341 67.5h1M334 57.5h1M333 54.5h1M325 68.5h1M332 59.5h1M331 75.5h1M323 71.5h1M337 58.5h1M336 70.5h1M329 67.5h1M330 62.5h1M335 78.5h1M327 59.5h1M334 69.5h1M333 61.5h1M329 74.5h1M332 50.5h1M327 76.5h1M340 62.5h1M318 70.5h1M324 64.5h1M328 65.5h1M326 71.5h1M332 58.5h1M323 81.5h1M333 68.5h1M322 81.5h1M321 58.5h1M333 78.5h1M329 81.5h1M329 56.5h1M330 66.5h1M326 69.5h1M327 61.5h1M329 66.5h1M329 71.5h1M332 66.5h1M328 77.5h1M328 62.5h1M324 75.5h1M321 61.5h1M324 57.5h1M328 71.5h1M326 65.5h1M327 66.5h1M332 75.5h1M333 70.5h1M337 72.5h1M333 71.5h1M334 60.5h1M334 76.5h1M319 69.5h1M332 77.5h1M327 70.5h1M331 73.5h1M336 66.5h1M325 56.5h1M330 78.5h1M330 64.5h1M320 73.5h1M333 62.5h1M323 73.5h1M334 79.5h1M326 63.5h1M335 65.5h1M342 55.5h1M322 70.5h1M320 71.5h1M331 63.5h1M325 72.5h1M329 63.5h1M332 67.5h1M335 72.5h1M328 69.5h1M340 58.5h1M334 65.5h1M338 68.5h1M328 78.5h1M329 59.5h1M320 68.5h1M319 64.5h1M336 78.5h1M334 66.5h1M330 71.5h1M324 60.5h1M330 79.5h1M325 69.5h1M334 62.5h1M326 58.5h1M322 71.5h1M332 78.5h1M333 69.5h1M327 55.5h1M329 58.5h1M323 78.5h1M336 72.5h1M328 59.5h1M331 57.5h1M335 59.5h1M337 63.5h1M334 59.5h1M334 47.5h1M335 82.5h1M329 73.5h1M325 65.5h1M342 68.5h1M324 78.5h1M329 64.5h1M331 59.5h1M334 73.5h1M326 55.5h1M315 63.5h1M323 65.5h1M327 64.5h1M340 68.5h1M324 79.5h1M330 77.5h1M333 66.5h1M334 75.5h1M331 74.5h1M332 76.5h1M333 52.5h1M327 80.5h1M338 64.5h1M335 79.5h1M338 62.5h1M335 70.5h1M337 66.5h1M334 58.5h1M326 70.5h1M341 63.5h1M325 60.5h1M327 75.5h1M324 73.5h1M331 82.5h1M331 62.5h1M332 61.5h1M326 67.5h1M334 72.5h1M334 55.5h1M336 65.5h1M323 86.5h1M338 79.5h1M328 50.5h1M331 52.5h1M328 57.5h1M335 63.5h1M324 69.5h1M325 74.5h1M326 77.5h1M321 67.5h1M322 56.5h1M328 66.5h1M344 67.5h1M345 63.5h1M324 54.5h1M326 64.5h1M325 62.5h1M341 69.5h1M336 58.5h1M330 75.5h1M339 77.5h1M315 54.5h1M337 48.5h1M337 60.5h1M343 61.5h1M341 70.5h1M327 62.5h1M327 65.5h1M329 46.5h1M333 73.5h1M324 67.5h1M331 83.5h1M324 63.5h1M339 68.5h1M319 63.5h1M324 72.5h1M331 60.5h1M336 73.5h1M342 69.5h1M324 70.5h1M322 64.5h1M335 64.5h1M321 52.5h1M323 59.5h1M327 57.5h1M338 70.5h1M337 67.5h1M336 67.5h1M323 75.5h1M336 76.5h1M326 73.5h1M339 65.5h1M330 57.5h1M335 66.5h1M330 63.5h1M343 73.5h1M339 67.5h1M337 61.5h1M321 64.5h1M333 53.5h1M323 60.5h1M326 75.5h1M322 58.5h1M334 77.5h1M327 69.5h1M320 64.5h1M335 60.5h1M328 52.5h1M328 67.5h1M336 50.5h1M337 65.5h1M332 60.5h1M326 52.5h1M339 70.5h1M336 64.5h1M334 49.5h1M332 57.5h1M328 60.5h1M327 63.5h1M331 77.5h1M323 58.5h1M331 68.5h1M341 62.5h1M328 63.5h1M327 60.5h1M325 59.5h1M326 74.5h1M328 53.5h1M330 58.5h1M343 62.5h1M328 74.5h1M339 72.5h1M329 79.5h1M328 58.5h1M331 65.5h1M337 74.5h1M324 77.5h1M331 78.5h1M323 62.5h1M339 58.5h1M320 60.5h1M329 75.5h1M332 69.5h1M342 74.5h1M335 77.5h1M337 71.5h1M326 82.5h1M329 55.5h1M339 83.5h1M337 64.5h1M338 78.5h1M331 56.5h1M326 62.5h1M330 72.5h1M333 74.5h1M331 70.5h1M322 57.5h1M321 74.5h1M323 61.5h1M333 87.5h1M340 67.5h1M320 65.5h1M336 69.5h1M318 74.5h1M328 83.5h1M333 65.5h1M332 53.5h1M325 53.5h1M323 69.5h1M340 72.5h1M341 49.5h1M322 74.5h1M330 56.5h1M328 75.5h1M321 66.5h1M322 54.5h1M336 63.5h1M332 55.5h1M321 77.5h1M325 63.5h1M316 60.5h1M339 69.5h1M319 80.5h1M327 56.5h1M326 56.5h1M321 59.5h1M320 67.5h1M327 71.5h1M324 68.5h1M320 84.5h1M320 70.5h1M325 66.5h1M324 66.5h1M321 70.5h1M322 68.5h1M335 53.5h1M335 74.5h1M331 88.5h1M326 57.5h1M338 65.5h1M332 81.5h1M332 73.5h1M326 54.5h1M342 61.5h1M324 58.5h1M324 65.5h1M341 72.5h1M371 72.5h1M367 74.5h1M360 72.5h1M366 73.5h1M363 70.5h1M352 72.5h1M355 73.5h1M341 80.5h1M368 78.5h1M361 65.5h1M355 64.5h1M361 70.5h1M359 60.5h1M346 58.5h1M369 73.5h1M358 68.5h1M344 68.5h1M355 66.5h1M366 59.5h1M359 75.5h1M364 62.5h1M369 69.5h1M356 72.5h1M366 71.5h1M355 71.5h1M361 81.5h1M358 65.5h1M373 78.5h1M370 65.5h1M354 63.5h1M357 77.5h1M360 73.5h1M357 65.5h1M353 79.5h1M351 64.5h1M363 68.5h1M356 71.5h1M357 61.5h1M372 75.5h1M354 68.5h1M353 58.5h1M364 67.5h1M357 79.5h1M351 80.5h1M355 82.5h1M368 68.5h1M372 73.5h1M361 68.5h1M356 75.5h1M365 77.5h1M368 70.5h1M364 69.5h1M363 74.5h1M361 66.5h1M349 80.5h1M352 67.5h1M362 68.5h1M362 78.5h1M346 71.5h1M363 63.5h1M364 78.5h1M359 73.5h1M356 76.5h1M355 70.5h1M353 66.5h1M366 62.5h1M349 66.5h1M374 77.5h1M376 68.5h1M363 72.5h1M357 74.5h1M358 73.5h1M345 65.5h1M351 79.5h1M366 65.5h1M363 67.5h1M350 65.5h1M382 71.5h1M358 77.5h1M361 64.5h1M376 82.5h1M365 66.5h1M358 71.5h1M350 85.5h1M359 67.5h1M356 69.5h1M339 71.5h1M368 72.5h1M362 70.5h1M345 74.5h1M364 65.5h1M350 67.5h1M348 57.5h1M355 67.5h1M360 77.5h1M351 62.5h1M358 74.5h1M370 75.5h1M360 71.5h1M365 70.5h1M356 73.5h1M362 73.5h1M362 62.5h1M354 61.5h1M365 84.5h1M352 70.5h1M361 67.5h1M372 72.5h1M376 83.5h1M362 66.5h1M352 69.5h1M367 66.5h1M357 75.5h1M349 64.5h1M359 68.5h1M367 68.5h1M380 72.5h1M346 76.5h1M355 79.5h1M353 75.5h1M347 76.5h1M351 69.5h1M364 66.5h1M369 75.5h1M360 69.5h1M351 78.5h1M357 64.5h1M352 60.5h1M352 68.5h1M360 75.5h1M365 61.5h1M355 74.5h1M352 74.5h1M358 69.5h1M361 76.5h1M358 70.5h1M362 74.5h1M371 75.5h1M345 66.5h1M349 72.5h1M377 73.5h1M354 78.5h1M363 66.5h1M364 59.5h1M353 73.5h1M348 70.5h1M351 61.5h1M354 67.5h1M361 61.5h1M360 68.5h1M346 77.5h1M371 73.5h1M354 71.5h1M346 73.5h1M365 73.5h1M353 64.5h1M347 81.5h1M352 71.5h1M341 65.5h1M365 71.5h1M367 70.5h1M371 71.5h1M360 70.5h1M361 73.5h1M379 73.5h1M359 66.5h1M352 66.5h1M360 67.5h1M371 68.5h1M351 65.5h1M366 66.5h1M361 75.5h1M356 61.5h1M360 76.5h1M343 79.5h1M359 65.5h1M377 77.5h1M366 74.5h1M348 76.5h1M359 79.5h1M340 77.5h1M362 67.5h1M365 67.5h1M359 72.5h1M351 57.5h1M374 67.5h1M358 72.5h1M365 69.5h1M353 62.5h1M345 72.5h1M368 56.5h1M363 64.5h1M360 83.5h1M365 65.5h1M354 75.5h1M366 75.5h1M374 76.5h1M358 75.5h1M352 75.5h1M361 69.5h1M352 76.5h1M347 68.5h1M353 72.5h1M374 80.5h1M357 68.5h1M355 78.5h1M361 62.5h1M359 63.5h1M346 80.5h1M365 80.5h1M354 77.5h1M362 72.5h1M354 69.5h1M340 61.5h1M346 62.5h1M370 73.5h1M353 63.5h1M363 73.5h1M369 62.5h1M353 67.5h1M350 81.5h1M364 73.5h1M351 66.5h1M366 68.5h1M367 75.5h1M354 74.5h1M370 68.5h1M341 73.5h1M361 74.5h1M358 66.5h1M374 79.5h1M357 66.5h1M362 79.5h1M366 72.5h1M360 64.5h1M361 77.5h1M367 77.5h1M364 70.5h1M363 77.5h1M353 70.5h1M354 65.5h1M361 82.5h1M345 68.5h1M360 66.5h1M345 70.5h1M373 72.5h1M368 67.5h1M351 68.5h1M355 75.5h1M364 71.5h1M351 71.5h1M355 68.5h1M345 79.5h1M363 86.5h1M380 71.5h1M380 70.5h1M344 70.5h1M366 80.5h1M360 62.5h1M365 59.5h1M359 76.5h1M356 63.5h1M354 70.5h1M368 71.5h1M369 55.5h1M373 82.5h1M354 85.5h1M348 67.5h1M344 62.5h1M352 65.5h1M355 61.5h1M357 73.5h1M351 72.5h1M347 60.5h1M360 82.5h1M367 71.5h1M359 71.5h1M366 79.5h1M347 71.5h1M377 69.5h1M339 75.5h1M355 65.5h1M376 81.5h1M367 72.5h1M353 78.5h1M357 71.5h1M343 64.5h1M348 59.5h1M349 68.5h1M357 70.5h1M355 76.5h1M369 70.5h1M367 73.5h1M347 64.5h1M355 57.5h1M355 69.5h1M344 65.5h1M348 83.5h1M368 74.5h1M360 78.5h1M359 77.5h1M365 82.5h1M367 67.5h1M364 82.5h1M366 77.5h1M364 72.5h1M359 64.5h1M372 68.5h1M363 61.5h1M347 79.5h1M348 74.5h1M345 67.5h1M354 76.5h1M352 63.5h1M355 72.5h1M362 71.5h1M357 72.5h1M353 74.5h1M349 69.5h1M354 73.5h1M353 71.5h1M367 61.5h1M360 74.5h1M356 70.5h1M349 70.5h1M350 70.5h1M352 78.5h1M352 73.5h1M350 62.5h1M362 59.5h1M372 62.5h1M370 59.5h1M371 62.5h1M345 76.5h1M360 63.5h1M354 66.5h1M360 59.5h1M369 72.5h1M348 75.5h1M347 61.5h1M345 73.5h1M360 65.5h1M368 75.5h1M366 70.5h1M365 75.5h1M379 76.5h1M363 71.5h1M347 72.5h1M377 74.5h1M378 74.5h1M356 65.5h1M369 63.5h1M370 69.5h1M342 76.5h1M353 84.5h1M343 66.5h1M377 61.5h1M376 64.5h1M350 79.5h1M354 72.5h1M351 67.5h1M385 57.5h1M344 76.5h1M352 81.5h1M371 61.5h1M370 72.5h1M356 80.5h1M371 69.5h1M361 63.5h1M357 63.5h1M348 71.5h1M348 68.5h1M352 62.5h1M357 78.5h1M359 70.5h1M369 65.5h1M375 62.5h1M356 83.5h1M364 77.5h1M357 67.5h1M346 82.5h1M346 65.5h1M373 74.5h1M361 71.5h1M365 54.5h1M364 60.5h1M348 66.5h1M361 83.5h1M353 76.5h1M363 69.5h1M361 79.5h1M356 64.5h1M368 80.5h1M356 74.5h1M364 75.5h1M355 77.5h1M356 58.5h1M354 62.5h1M371 65.5h1M350 71.5h1M362 77.5h1M348 82.5h1M356 68.5h1M365 57.5h1M360 79.5h1M375 68.5h1M373 62.5h1M346 55.5h1M356 77.5h1M371 66.5h1M351 70.5h1M372 69.5h1M350 72.5h1M345 71.5h1M374 70.5h1M362 63.5h1M365 74.5h1M347 62.5h1M349 76.5h1M344 64.5h1M357 69.5h1M370 63.5h1M343 71.5h1M356 66.5h1M347 67.5h1M366 69.5h1M349 73.5h1M355 84.5h1M356 78.5h1M342 72.5h1M364 87.5h1M371 59.5h1M374 73.5h1M368 63.5h1M365 64.5h1M374 72.5h1M353 77.5h1M344 66.5h1M374 60.5h1M358 89.5h1M337 80.5h1M358 80.5h1M358 76.5h1M369 67.5h1M374 63.5h1M362 64.5h1M367 78.5h1M364 63.5h1M353 69.5h1M342 81.5h1M347 70.5h1M376 69.5h1M372 74.5h1M357 60.5h1M346 74.5h1M367 63.5h1M360 61.5h1M359 62.5h1M351 74.5h1M350 66.5h1M375 74.5h1M352 64.5h1M372 78.5h1M366 67.5h1M365 68.5h1M374 81.5h1M355 81.5h1M370 66.5h1M349 67.5h1M348 72.5h1M369 68.5h1M365 72.5h1M369 79.5h1M349 61.5h1M374 74.5h1M358 64.5h1M374 75.5h1M362 69.5h1M365 76.5h1M351 75.5h1M359 74.5h1M344 69.5h1M351 77.5h1M377 66.5h1M348 64.5h1M367 76.5h1M341 81.5h1M353 65.5h1M363 75.5h1M359 78.5h1M376 70.5h1M350 78.5h1M349 74.5h1M366 63.5h1M357 80.5h1M375 65.5h1M346 69.5h1M371 60.5h1M368 64.5h1M366 76.5h1M370 76.5h1M379 67.5h1M362 65.5h1M351 73.5h1M350 82.5h1M371 63.5h1M358 63.5h1M369 74.5h1M345 64.5h1M353 68.5h1M372 65.5h1M364 68.5h1M354 64.5h1M375 79.5h1M363 78.5h1M370 71.5h1M349 75.5h1M348 60.5h1M364 57.5h1M340 70.5h1M352 77.5h1M348 69.5h1M339 62.5h1M358 61.5h1M362 75.5h1M373 73.5h1M363 58.5h1M366 60.5h1M364 76.5h1M357 81.5h1M367 69.5h1M349 59.5h1M352 79.5h1M358 60.5h1M369 71.5h1M368 66.5h1M370 67.5h1M359 81.5h1M343 76.5h1M343 67.5h1M355 85.5h1M346 67.5h1M364 80.5h1M375 76.5h1M373 75.5h1M372 66.5h1M348 80.5h1M349 65.5h1M372 70.5h1M350 74.5h1M372 57.5h1M365 60.5h1M352 61.5h1M373 69.5h1M343 72.5h1M342 73.5h1M350 73.5h1M370 70.5h1M347 65.5h1M354 82.5h1M375 72.5h1M358 58.5h1M364 74.5h1M370 64.5h1M366 78.5h1M367 60.5h1M353 81.5h1M362 76.5h1M339 63.5h1M376 65.5h1M377 71.5h1M364 84.5h1M343 77.5h1M359 59.5h1M343 70.5h1M364 83.5h1M352 55.5h1M359 69.5h1M364 79.5h1M373 71.5h1M352 84.5h1M382 77.5h1M363 65.5h1M346 72.5h1M370 74.5h1M349 78.5h1M361 78.5h1M350 69.5h1M380 65.5h1M367 59.5h1M343 68.5h1M366 64.5h1M346 64.5h1M336 80.5h1M339 73.5h1M336 77.5h1M337 78.5h1M340 79.5h1M338 72.5h1M342 78.5h1M344 71.5h1M345 62.5h1M344 75.5h1M344 80.5h1M340 69.5h1M338 75.5h1M342 80.5h1M353 83.5h1M333 75.5h1M358 78.5h1M353 80.5h1M343 69.5h1M347 75.5h1M335 73.5h1M342 70.5h1M337 79.5h1M347 69.5h1M335 67.5h1M350 76.5h1M343 65.5h1M339 78.5h1M347 83.5h1M348 78.5h1M335 76.5h1M343 80.5h1M347 74.5h1M343 78.5h1M344 79.5h1M354 83.5h1M346 70.5h1M344 83.5h1M337 76.5h1M339 74.5h1M338 74.5h1M344 74.5h1M338 73.5h1M338 76.5h1M344 72.5h1M350 87.5h1M346 61.5h1M344 73.5h1M345 81.5h1M333 80.5h1M325 61.5h1M341 77.5h1M342 64.5h1M334 83.5h1M347 80.5h1M351 85.5h1M337 62.5h1M349 77.5h1M340 78.5h1M340 76.5h1M346 79.5h1M346 83.5h1M328 72.5h1M338 77.5h1M337 70.5h1M345 78.5h1M342 66.5h1M350 68.5h1M348 81.5h1M346 78.5h1M341 71.5h1M344 77.5h1M323 70.5h1M346 66.5h1M340 73.5h1M339 79.5h1M351 76.5h1M351 82.5h1M324 82.5h1M345 75.5h1M336 71.5h1M344 84.5h1M337 77.5h1M343 74.5h1M349 62.5h1M341 64.5h1M335 69.5h1M345 84.5h1M347 78.5h1M330 80.5h1M356 79.5h1M340 74.5h1M354 79.5h1M350 88.5h1M338 80.5h1M353 59.5h1M359 61.5h1M341 78.5h1M334 71.5h1M336 75.5h1M337 75.5h1M341 84.5h1M348 77.5h1M341 75.5h1M339 76.5h1M342 65.5h1M334 82.5h1M346 63.5h1M338 81.5h1M342 77.5h1M340 82.5h1M347 73.5h1M341 76.5h1M352 80.5h1M350 75.5h1M340 81.5h1M361 89.5h1M336 68.5h1M345 77.5h1M346 68.5h1M352 82.5h1M349 79.5h1M348 79.5h1M357 83.5h1M338 82.5h1M346 75.5h1M349 56.5h1M338 60.5h1M370 86.5h1M356 81.5h1M361 72.5h1M349 81.5h1M357 76.5h1M379 77.5h1M326 81.5h1M326 78.5h1M322 77.5h1M329 80.5h1M368 79.5h1M325 78.5h1M321 84.5h1M366 82.5h1M354 80.5h1M368 73.5h1M355 83.5h1M341 74.5h1M315 71.5h1M351 84.5h1M316 73.5h1M373 79.5h1M320 75.5h1M335 71.5h1M344 81.5h1M362 81.5h1M322 76.5h1M363 76.5h1M348 73.5h1M343 84.5h1M312 82.5h1M369 76.5h1M323 76.5h1M379 80.5h1M342 79.5h1M327 78.5h1M371 78.5h1M370 80.5h1M349 85.5h1M329 83.5h1M344 82.5h1M331 80.5h1M322 78.5h1M319 77.5h1M320 74.5h1M310 75.5h1M349 83.5h1M344 78.5h1M355 86.5h1M376 75.5h1M345 86.5h1M372 77.5h1M348 85.5h1M343 83.5h1M333 76.5h1M350 77.5h1M360 84.5h1M315 83.5h1M327 82.5h1M359 82.5h1M350 80.5h1M376 73.5h1M379 74.5h1M328 79.5h1M333 79.5h1M309 76.5h1M363 85.5h1M326 80.5h1M329 72.5h1M325 82.5h1M341 79.5h1M353 82.5h1M335 80.5h1M368 87.5h1M347 84.5h1M343 82.5h1M342 59.5h1M324 71.5h1M342 86.5h1M340 66.5h1M336 79.5h1M347 58.5h1M337 56.5h1M375 63.5h1M341 58.5h1M341 66.5h1M368 62.5h1M348 84.5h1M356 84.5h1M364 81.5h1M336 61.5h1M321 76.5h1M370 58.5h1"/>
<path stroke="#404040" d="M314 74.5h1M322 78.5h1M320 62.5h1M317 71.5h1M319 71.5h1M319 61.5h1M317 68.5h1M313 60.5h1M319 67.5h1M317 80.5h1M321 70.5h1M319 76.5h1M322 71.5h1M317 58.5h1M320 57.5h1M315 61.5h1M321 72.5h1M318 56.5h1M315 80.5h1M314 65.5h1M315 59.5h1M314 75.5h1M317 63.5h1M321 67.5h1M319 59.5h1M313 64.5h1M313 78.5h1M317 59.5h1M320 72.5h1M333 46.5h1M332 47.5h1M336 53.5h1M313 47.5h1M335 51.5h1M323 51.5h1M315 50.5h1M323 55.5h1M313 51.5h1M323 49.5h1M326 53.5h1M317 52.5h1M327 46.5h1M325 51.5h1M325 47.5h1M323 48.5h1M331 47.5h1M315 47.5h1M375 62.5h1M372 69.5h1M373 78.5h1M376 73.5h1M374 65.5h1M374 81.5h1M377 73.5h1M376 62.5h1M377 80.5h1M376 78.5h1M375 64.5h1M333 84.5h1M350 84.5h1M320 86.5h1M345 84.5h1M351 86.5h1M356 87.5h1M370 89.5h1M365 82.5h1M357 83.5h1M339 85.5h1M322 87.5h1M367 82.5h1M331 83.5h1M332 86.5h1M321 86.5h1M361 83.5h1M354 83.5h1M355 84.5h1M325 82.5h1M333 88.5h1M370 82.5h1M361 82.5h1M364 85.5h1M333 91.5h1M361 84.5h1M339 88.5h1M340 96.5h1M369 86.5h1M363 82.5h1M342 84.5h1M340 83.5h1M363 83.5h1M324 82.5h1M353 82.5h1M367 86.5h1M331 84.5h1M347 85.5h1M347 91.5h1M333 85.5h1M328 85.5h1M348 88.5h1M348 82.5h1M353 90.5h1M359 82.5h1M357 85.5h1M323 84.5h1M339 84.5h1M342 82.5h1M320 83.5h1M358 85.5h1M327 82.5h1M356 85.5h1M321 84.5h1M371 85.5h1M321 83.5h1M366 82.5h1M328 84.5h1M359 84.5h1M326 86.5h1M344 85.5h1M323 88.5h1M341 82.5h1M352 82.5h1M335 86.5h1M350 91.5h1M337 86.5h1M356 82.5h1M334 87.5h1M321 90.5h1M348 84.5h1M342 91.5h1M334 84.5h1M353 84.5h1M345 92.5h1M362 94.5h1M346 84.5h1M328 92.5h1M321 88.5h1M350 88.5h1M320 82.5h1M346 83.5h1M332 93.5h1M337 82.5h1M329 83.5h1M336 88.5h1M322 86.5h1M352 87.5h1M350 82.5h1M347 83.5h1M346 87.5h1M344 86.5h1M348 97.5h1M349 82.5h1M323 86.5h1M337 83.5h1M333 83.5h1M335 84.5h1M326 94.5h1M371 86.5h1M370 87.5h1M358 83.5h1M363 89.5h1M334 83.5h1M342 85.5h1M331 86.5h1M368 94.5h1M349 89.5h1M368 82.5h1M350 87.5h1M321 82.5h1M367 94.5h1M340 88.5h1M344 82.5h1M368 86.5h1M345 82.5h1M332 88.5h1M368 87.5h1M364 90.5h1M352 84.5h1M344 83.5h1M371 84.5h1M364 82.5h1M343 83.5h1M348 85.5h1M356 84.5h1M338 86.5h1M340 85.5h1M325 83.5h1M357 93.5h1M351 89.5h1M371 82.5h1M321 85.5h1M339 82.5h1M326 85.5h1M366 83.5h1M339 86.5h1M365 86.5h1M332 91.5h1M357 82.5h1M360 87.5h1M365 84.5h1M332 95.5h1M335 82.5h1M325 95.5h1M337 88.5h1M322 82.5h1M367 83.5h1M349 84.5h1M338 82.5h1M320 89.5h1M333 95.5h1M323 91.5h1M363 91.5h1M346 82.5h1M359 90.5h1M331 89.5h1M344 93.5h1M363 88.5h1M322 95.5h1M330 87.5h1M341 89.5h1M331 94.5h1M347 82.5h1M360 82.5h1M348 83.5h1M358 84.5h1M332 85.5h1M353 94.5h1M350 92.5h1M344 90.5h1M361 85.5h1M350 83.5h1M329 85.5h1M327 83.5h1M330 82.5h1M367 85.5h1M330 91.5h1M357 84.5h1M349 91.5h1M335 96.5h1M349 86.5h1M360 88.5h1M355 83.5h1M332 82.5h1M354 90.5h1M330 89.5h1M328 83.5h1M337 90.5h1M323 92.5h1M369 93.5h1M347 89.5h1M345 83.5h1M364 87.5h1M336 83.5h1M337 85.5h1M363 86.5h1M328 90.5h1M320 93.5h1M358 89.5h1M322 83.5h1M352 85.5h1M345 87.5h1M323 82.5h1M369 84.5h1M345 85.5h1M325 91.5h1M333 89.5h1M334 91.5h1M359 83.5h1M360 91.5h1M360 84.5h1M366 95.5h1M359 85.5h1M365 83.5h1M349 83.5h1M366 87.5h1M343 82.5h1M328 82.5h1M347 87.5h1M338 85.5h1M330 88.5h1M346 88.5h1M351 90.5h1M322 92.5h1M363 95.5h1M325 98.5h1M326 92.5h1M336 84.5h1M338 96.5h1M343 63.5h1M348 79.5h1M346 61.5h1M342 65.5h1M331 73.5h1M335 74.5h1M346 68.5h1M333 69.5h1M358 80.5h1M360 65.5h1M333 73.5h1M344 76.5h1M350 61.5h1M343 71.5h1M345 59.5h1M353 75.5h1M355 67.5h1M335 63.5h1M352 64.5h1M338 78.5h1M356 72.5h1M358 75.5h1M339 76.5h1M328 66.5h1M347 72.5h1M336 69.5h1M331 65.5h1M379 76.5h1M356 81.5h1M325 77.5h1M335 61.5h1M337 72.5h1M346 81.5h1M319 70.5h1M352 90.5h1M324 52.5h1M342 69.5h1M351 70.5h1M333 68.5h1M348 90.5h1M308 62.5h1M342 68.5h1M325 68.5h1M351 68.5h1M352 66.5h1M337 74.5h1M339 77.5h1M371 77.5h1M337 62.5h1M342 72.5h1M352 74.5h1M352 60.5h1M337 71.5h1M354 70.5h1M347 64.5h1M359 72.5h1M328 69.5h1M341 72.5h1M369 62.5h1M361 62.5h1M344 80.5h1M366 78.5h1M343 78.5h1M325 70.5h1M335 55.5h1M341 61.5h1M359 64.5h1M359 69.5h1M358 76.5h1M362 64.5h1M328 73.5h1M328 57.5h1M331 30.5h1M311 65.5h1M342 30.5h1M318 80.5h1M311 77.5h1M340 67.5h1M366 50.5h1"/>
<path stroke="#000" d="M443 75.5h1M438 79.5h1M439 83.5h1M446 73.5h1M446 81.5h1M438 83.5h1M442 77.5h1M447 68.5h1M441 82.5h1M446 86.5h1M447 79.5h1M450 78.5h1M448 66.5h1M437 84.5h1M449 81.5h1M449 70.5h1M446 72.5h1M441 75.5h1M449 75.5h1M449 83.5h1M450 80.5h1M448 81.5h1M436 88.5h1M447 74.5h1M443 73.5h1M443 84.5h1M438 74.5h1M447 76.5h1M457 74.5h1M450 79.5h1M446 84.5h1M454 86.5h1M447 78.5h1M448 83.5h1M444 75.5h1M440 72.5h1M439 81.5h1M458 87.5h1M444 86.5h1M444 79.5h1M445 72.5h1M452 77.5h1M445 80.5h1M447 75.5h1M441 78.5h1M439 75.5h1M448 77.5h1M446 76.5h1M452 76.5h1M446 88.5h1M441 80.5h1M445 85.5h1M442 82.5h1M443 76.5h1M451 86.5h1M447 81.5h1M442 88.5h1M440 85.5h1M445 77.5h1M443 80.5h1M442 75.5h1M451 75.5h1M445 73.5h1M438 76.5h1M455 80.5h1M439 74.5h1M444 84.5h1M444 71.5h1M440 70.5h1M440 76.5h1M444 77.5h1M438 78.5h1M447 71.5h1M435 83.5h1M437 77.5h1M449 76.5h1M445 90.5h1M438 85.5h1M449 77.5h1M448 82.5h1M452 84.5h1M445 83.5h1M443 74.5h1M448 76.5h1M437 82.5h1M445 86.5h1M452 79.5h1M438 68.5h1M444 72.5h1M451 81.5h1M438 69.5h1M451 84.5h1M449 87.5h1M445 79.5h1M430 73.5h1M443 67.5h1M445 76.5h1M456 86.5h1M449 78.5h1M434 73.5h1M442 84.5h1M434 78.5h1M450 82.5h1M439 78.5h1M442 78.5h1M441 83.5h1M442 76.5h1M440 75.5h1M448 80.5h1M446 80.5h1M444 82.5h1M441 77.5h1M448 79.5h1M446 82.5h1M444 78.5h1M446 85.5h1M440 79.5h1M439 85.5h1M431 83.5h1M447 82.5h1M440 77.5h1M442 79.5h1M441 74.5h1M453 76.5h1M445 81.5h1M450 85.5h1M434 70.5h1M440 88.5h1M444 83.5h1M443 72.5h1M438 75.5h1M450 81.5h1M439 90.5h1M439 87.5h1M440 74.5h1M442 67.5h1M451 92.5h1M441 85.5h1M440 78.5h1M441 70.5h1M453 75.5h1M438 84.5h1M442 80.5h1M440 83.5h1M454 75.5h1M451 76.5h1M448 78.5h1M448 87.5h1M436 73.5h1M447 73.5h1M441 81.5h1M435 77.5h1M439 82.5h1M442 85.5h1M454 80.5h1M441 66.5h1M441 91.5h1M447 85.5h1M443 77.5h1M437 68.5h1M443 78.5h1M451 82.5h1M437 80.5h1M439 84.5h1M457 72.5h1M448 65.5h1M439 88.5h1M443 83.5h1M439 86.5h1M437 66.5h1M451 72.5h1M440 80.5h1M446 83.5h1M455 86.5h1M443 71.5h1M439 79.5h1M449 82.5h1M451 80.5h1M440 87.5h1M454 79.5h1M442 72.5h1M443 93.5h1M436 74.5h1M440 91.5h1M433 78.5h1M434 77.5h1M442 73.5h1M448 73.5h1M437 79.5h1M444 76.5h1M436 79.5h1M449 74.5h1M447 72.5h1M437 74.5h1M439 80.5h1M441 79.5h1M449 86.5h1M439 73.5h1M443 82.5h1M446 78.5h1M456 74.5h1M437 78.5h1M448 72.5h1M437 85.5h1M448 69.5h1M444 89.5h1M453 83.5h1M449 80.5h1M432 83.5h1M453 77.5h1M445 69.5h1M451 91.5h1M451 74.5h1M452 80.5h1M446 90.5h1M450 75.5h1M443 81.5h1M436 70.5h1M441 86.5h1M443 87.5h1M448 85.5h1M447 80.5h1M452 83.5h1M441 84.5h1M442 71.5h1M442 86.5h1M431 77.5h1M447 77.5h1M444 90.5h1M456 81.5h1M443 79.5h1M444 85.5h1M436 81.5h1M449 71.5h1M448 84.5h1M438 88.5h1M453 69.5h1M445 78.5h1M443 86.5h1M438 72.5h1M450 76.5h1M437 81.5h1M444 80.5h1M450 77.5h1M448 71.5h1M449 88.5h1M444 81.5h1M444 70.5h1M436 78.5h1M449 90.5h1M453 81.5h1M438 73.5h1M448 88.5h1M436 77.5h1M445 82.5h1M442 91.5h1M456 83.5h1M433 83.5h1M440 73.5h1M432 71.5h1M452 78.5h1M435 70.5h1M449 79.5h1M436 89.5h1M441 76.5h1M439 77.5h1M442 81.5h1M452 70.5h1M450 86.5h1M439 70.5h1M439 66.5h1M444 73.5h1M456 72.5h1M445 71.5h1M450 74.5h1M446 79.5h1M452 81.5h1M458 81.5h1M443 85.5h1M448 86.5h1M442 74.5h1M446 66.5h1M447 84.5h1M460 77.5h1M446 77.5h1M445 75.5h1M448 75.5h1M438 77.5h1M445 68.5h1M445 74.5h1M439 67.5h1M446 75.5h1M449 72.5h1M437 71.5h1M444 87.5h1M444 67.5h1M446 74.5h1M448 89.5h1M453 78.5h1M434 76.5h1M443 88.5h1M450 73.5h1M448 74.5h1M452 73.5h1M456 88.5h1M447 90.5h1M449 89.5h1M431 86.5h1M452 75.5h1M453 91.5h1M439 72.5h1M435 86.5h1M441 88.5h1M436 75.5h1M451 77.5h1M432 70.5h1M452 86.5h1M440 82.5h1M451 73.5h1M438 80.5h1M437 83.5h1M433 82.5h1M447 87.5h1M441 71.5h1M440 81.5h1M456 78.5h1M445 88.5h1M435 88.5h1M455 73.5h1M450 71.5h1M441 73.5h1M450 84.5h1M442 90.5h1M451 87.5h1M433 79.5h1M436 80.5h1M442 83.5h1M443 89.5h1M443 70.5h1M437 86.5h1M445 89.5h1M451 79.5h1M443 91.5h1M451 85.5h1M437 92.5h1M436 76.5h1M445 84.5h1M435 75.5h1M437 75.5h1M440 84.5h1M440 89.5h1M453 86.5h1M440 86.5h1M438 81.5h1M452 85.5h1M442 87.5h1M444 91.5h1M434 74.5h1M444 74.5h1M435 78.5h1M441 68.5h1M435 84.5h1M451 78.5h1M457 78.5h1M447 88.5h1M442 68.5h1M447 91.5h1M450 87.5h1M451 83.5h1M453 71.5h1M432 77.5h1M450 83.5h1M450 89.5h1M448 68.5h1M452 66.5h1M435 85.5h1M449 73.5h1M444 66.5h1M454 84.5h1M439 91.5h1M446 89.5h1M457 87.5h1M441 89.5h1M456 75.5h1M441 72.5h1M454 78.5h1M449 84.5h1M446 69.5h1M447 83.5h1M447 86.5h1M439 76.5h1M445 67.5h1M438 82.5h1M434 84.5h1M454 82.5h1M437 89.5h1M451 70.5h1M458 86.5h1M450 65.5h1M446 67.5h1M455 84.5h1M439 68.5h1M452 82.5h1M442 69.5h1M436 87.5h1M436 86.5h1M436 72.5h1M457 77.5h1M448 67.5h1M448 91.5h1M441 69.5h1M436 82.5h1M435 73.5h1M455 87.5h1M438 86.5h1M434 88.5h1M456 82.5h1M434 83.5h1M453 70.5h1M448 70.5h1M451 88.5h1M456 85.5h1M450 66.5h1M442 70.5h1M444 68.5h1M445 87.5h1M435 79.5h1M453 84.5h1M454 83.5h1M444 88.5h1M432 80.5h1M445 94.5h1M452 90.5h1M458 79.5h1M439 92.5h1M447 92.5h1M453 88.5h1M453 80.5h1M440 69.5h1M439 71.5h1M456 80.5h1M435 80.5h1M443 69.5h1M450 90.5h1M444 69.5h1M455 88.5h1M447 89.5h1M450 67.5h1M449 69.5h1M451 69.5h1M437 91.5h1M437 76.5h1M435 81.5h1M437 70.5h1M445 70.5h1M447 70.5h1M439 96.5h1M438 67.5h1M450 72.5h1M455 93.5h1M432 76.5h1M443 68.5h1M433 81.5h1M446 70.5h1M430 76.5h1M446 71.5h1M452 71.5h1M455 82.5h1M446 68.5h1M454 72.5h1M438 90.5h1M440 90.5h1M448 90.5h1M459 78.5h1M453 73.5h1M440 71.5h1M443 66.5h1M432 72.5h1M457 80.5h1M432 84.5h1M459 81.5h1M454 90.5h1M441 92.5h1M440 68.5h1M449 85.5h1M430 84.5h1M454 76.5h1M453 66.5h1M429 74.5h1M452 88.5h1M432 78.5h1M452 87.5h1M454 73.5h1M436 85.5h1M437 94.5h1M440 64.5h1M455 65.5h1M428 81.5h1M458 85.5h1M426 87.5h1M428 89.5h1M441 96.5h1M432 82.5h1M447 69.5h1M454 93.5h1M442 66.5h1M429 73.5h1M438 70.5h1M434 64.5h1M433 76.5h1M448 92.5h1M435 74.5h1M433 95.5h1M456 76.5h1M433 73.5h1M428 75.5h1M435 69.5h1M451 97.5h1M459 87.5h1M455 70.5h1M436 92.5h1M433 92.5h1M454 81.5h1M450 93.5h1M442 92.5h1M436 65.5h1M436 83.5h1M446 87.5h1M433 71.5h1M428 88.5h1M459 86.5h1M432 67.5h1M452 64.5h1M449 91.5h1M446 94.5h1M454 74.5h1M454 89.5h1M440 67.5h1M456 77.5h1M457 83.5h1M432 79.5h1M456 89.5h1M437 69.5h1M445 61.5h1M442 89.5h1M441 93.5h1M435 76.5h1M452 74.5h1M442 93.5h1M453 79.5h1M452 95.5h1M441 64.5h1M448 97.5h1M445 93.5h1M447 96.5h1M426 89.5h1M451 62.5h1M432 89.5h1M434 68.5h1M434 94.5h1M455 78.5h1M440 92.5h1M435 92.5h1M459 70.5h1M453 72.5h1M451 68.5h1M441 67.5h1M453 74.5h1M456 65.5h1M455 69.5h1M450 70.5h1M451 71.5h1M450 68.5h1M451 67.5h1M452 72.5h1M452 69.5h1M451 66.5h1M449 68.5h1M447 67.5h1M454 65.5h1M459 71.5h1M484 77.5h1M473 78.5h1M464 78.5h1M463 81.5h1M482 74.5h1M471 75.5h1M481 75.5h1M468 79.5h1M479 75.5h1M469 73.5h1M468 84.5h1M477 72.5h1M474 72.5h1M483 77.5h1M468 81.5h1M467 76.5h1M473 81.5h1M475 81.5h1M460 75.5h1M471 73.5h1M474 70.5h1M468 74.5h1M466 78.5h1M472 85.5h1M474 75.5h1M470 77.5h1M470 73.5h1M464 82.5h1M461 74.5h1M479 76.5h1M461 79.5h1M478 73.5h1M463 74.5h1M480 71.5h1M460 78.5h1M473 73.5h1M478 75.5h1M480 80.5h1M483 75.5h1M478 77.5h1M482 80.5h1M461 78.5h1M477 73.5h1M478 72.5h1M464 76.5h1M466 70.5h1M470 79.5h1M470 78.5h1M470 81.5h1M479 79.5h1M474 84.5h1M465 75.5h1M475 76.5h1M474 76.5h1M476 80.5h1M475 75.5h1M476 79.5h1M479 74.5h1M475 79.5h1M474 81.5h1M478 78.5h1M487 78.5h1M476 73.5h1M469 79.5h1M466 75.5h1M465 79.5h1M465 78.5h1M477 77.5h1M462 68.5h1M471 77.5h1M479 73.5h1M465 74.5h1M475 83.5h1M466 79.5h1M462 72.5h1M481 74.5h1M482 73.5h1M469 76.5h1M475 74.5h1M482 70.5h1M460 76.5h1M462 76.5h1M474 73.5h1M474 77.5h1M470 74.5h1M483 80.5h1M466 72.5h1M467 78.5h1M473 82.5h1M470 82.5h1M467 77.5h1M488 76.5h1M469 75.5h1M472 80.5h1M479 80.5h1M472 73.5h1M464 86.5h1M461 80.5h1M465 76.5h1M475 78.5h1M477 78.5h1M466 74.5h1M467 82.5h1M473 77.5h1M464 77.5h1M460 86.5h1M468 76.5h1M460 70.5h1M474 79.5h1M472 77.5h1M458 77.5h1M470 75.5h1M469 83.5h1M465 77.5h1M476 84.5h1M476 78.5h1M484 79.5h1M458 82.5h1M477 79.5h1M477 75.5h1M462 83.5h1M467 79.5h1M464 84.5h1M477 74.5h1M458 74.5h1M466 80.5h1M476 77.5h1M460 80.5h1M479 82.5h1M467 85.5h1M471 81.5h1M469 78.5h1M476 74.5h1M468 75.5h1M457 75.5h1M468 83.5h1M474 80.5h1M459 74.5h1M484 73.5h1M459 72.5h1M465 83.5h1M483 83.5h1M489 83.5h1M476 70.5h1M480 76.5h1M471 71.5h1M482 82.5h1M470 72.5h1M467 80.5h1M475 77.5h1M471 69.5h1M460 79.5h1M473 80.5h1M469 72.5h1M468 82.5h1M461 77.5h1M467 71.5h1M484 68.5h1M480 82.5h1M460 74.5h1M472 81.5h1M487 69.5h1M482 78.5h1M482 81.5h1M476 76.5h1M468 80.5h1M478 79.5h1M460 81.5h1M467 74.5h1M469 74.5h1M462 75.5h1M471 79.5h1M472 76.5h1M455 75.5h1M473 70.5h1M472 78.5h1M458 73.5h1M472 71.5h1M473 74.5h1M465 73.5h1M457 71.5h1M476 71.5h1M472 75.5h1M471 84.5h1M467 81.5h1M467 75.5h1M474 74.5h1M470 83.5h1M461 76.5h1M475 87.5h1M462 74.5h1M463 80.5h1M480 79.5h1M474 78.5h1M463 72.5h1M468 77.5h1M459 77.5h1M471 76.5h1M469 77.5h1M475 73.5h1M471 74.5h1M464 73.5h1M481 77.5h1M464 79.5h1M479 85.5h1M466 77.5h1M461 75.5h1M478 80.5h1M469 85.5h1M472 74.5h1M482 77.5h1M459 79.5h1M473 75.5h1M469 80.5h1M471 82.5h1M471 78.5h1M457 73.5h1M474 82.5h1M464 80.5h1M463 75.5h1M475 80.5h1M477 68.5h1M459 75.5h1M459 64.5h1M458 80.5h1M480 77.5h1M485 77.5h1M475 82.5h1M464 70.5h1M462 78.5h1M468 78.5h1M463 78.5h1M458 75.5h1M466 82.5h1M486 78.5h1M472 72.5h1M477 76.5h1M464 75.5h1M477 71.5h1M479 77.5h1M475 72.5h1M460 73.5h1M468 67.5h1M465 81.5h1M463 66.5h1M460 82.5h1M466 73.5h1M481 79.5h1M478 82.5h1M469 70.5h1M477 84.5h1M454 77.5h1M457 76.5h1"/>
<path stroke="#404040" d="M428 77.5h1M431 80.5h1M426 79.5h1M430 83.5h1M430 74.5h1M433 73.5h1M435 74.5h1M426 78.5h1M433 84.5h1M431 83.5h1M425 76.5h1M433 81.5h1M425 73.5h1M426 75.5h1M434 74.5h1M433 85.5h1M426 77.5h1M433 77.5h1M433 74.5h1M427 78.5h1M432 74.5h1M434 76.5h1M427 73.5h1M429 73.5h1M425 81.5h1M430 76.5h1M427 79.5h1M428 81.5h1M434 77.5h1M434 81.5h1M425 80.5h1M430 75.5h1M433 79.5h1M435 79.5h1M425 75.5h1M429 83.5h1M434 83.5h1M430 81.5h1M425 74.5h1M432 75.5h1M429 79.5h1M426 76.5h1M434 78.5h1M430 85.5h1M429 81.5h1M427 83.5h1M430 82.5h1M432 81.5h1M431 78.5h1M434 85.5h1M431 85.5h1M425 78.5h1M431 76.5h1M435 84.5h1M431 81.5h1M426 74.5h1M434 82.5h1M433 82.5h1M431 77.5h1M483 74.5h1M466 73.5h1M462 82.5h1M463 80.5h1M475 80.5h1M475 71.5h1M461 79.5h1M462 75.5h1M470 83.5h1M487 71.5h1M477 83.5h1M464 77.5h1M482 74.5h1M481 84.5h1M487 81.5h1M472 78.5h1M469 74.5h1M485 83.5h1M484 79.5h1M464 73.5h1M460 82.5h1M485 73.5h1M478 74.5h1M477 84.5h1M470 75.5h1M466 80.5h1M467 78.5h1M471 76.5h1M463 81.5h1M487 76.5h1M460 74.5h1M461 77.5h1M487 73.5h1M460 84.5h1M483 71.5h1M474 82.5h1M463 73.5h1M470 81.5h1M478 73.5h1M476 79.5h1M463 75.5h1M467 75.5h1M462 79.5h1M468 82.5h1M461 81.5h1M470 79.5h1M480 73.5h1M460 78.5h1M481 74.5h1M479 81.5h1M486 80.5h1M471 71.5h1M485 84.5h1M463 72.5h1M466 84.5h1M465 79.5h1M480 81.5h1M479 73.5h1M478 77.5h1M468 71.5h1M476 84.5h1M466 79.5h1M482 78.5h1M486 82.5h1M468 83.5h1M471 72.5h1M477 76.5h1M482 76.5h1M484 73.5h1M472 77.5h1M483 80.5h1M485 81.5h1M472 82.5h1M463 77.5h1M467 79.5h1M485 72.5h1M467 82.5h1M468 79.5h1M467 77.5h1M484 84.5h1M476 73.5h1M478 72.5h1M484 72.5h1M461 71.5h1M487 82.5h1M464 82.5h1M472 76.5h1M465 73.5h1M475 81.5h1M457 76.5h1M441 70.5h1M445 84.5h1M442 88.5h1M432 80.5h1M439 83.5h1M455 80.5h1M449 87.5h1M448 85.5h1M438 90.5h1M444 74.5h1M445 87.5h1M453 80.5h1M436 87.5h1M446 97.5h1M442 79.5h1M428 60.5h1M443 82.5h1M455 76.5h1M448 80.5h1M435 78.5h1M443 78.5h1M445 85.5h1M448 73.5h1M454 73.5h1M446 80.5h1M442 75.5h1M444 80.5h1M450 60.5h1M446 82.5h1M440 82.5h1M456 93.5h1M437 89.5h1M453 75.5h1M447 84.5h1M445 66.5h1M445 73.5h1M445 89.5h1M452 77.5h1M441 64.5h1M450 86.5h1M447 76.5h1M451 92.5h1M430 92.5h1M459 74.5h1M435 83.5h1M452 78.5h1M455 81.5h1M451 74.5h1M436 67.5h1M450 72.5h1M452 82.5h1M440 77.5h1M440 61.5h1M447 78.5h1M449 69.5h1M439 72.5h1M438 81.5h1M446 68.5h1M440 96.5h1M455 85.5h1M444 76.5h1M441 75.5h1M431 69.5h1M439 92.5h1M436 65.5h1M448 79.5h1M434 91.5h1M456 76.5h1M440 53.5h1M453 67.5h1M446 54.5h1M446 61.5h1M444 56.5h1M455 65.5h1M452 64.5h1M441 55.5h1M448 62.5h1M448 63.5h1M440 55.5h1M446 57.5h1M437 48.5h1M436 45.5h1M446 60.5h1M437 49.5h1M452 63.5h1M454 67.5h1M451 66.5h1M439 53.5h1M452 68.5h1M439 50.5h1M443 63.5h1M450 59.5h1M438 50.5h1M444 60.5h1M439 61.5h1M443 57.5h1M441 57.5h1M451 60.5h1M438 55.5h1M438 54.5h1M450 66.5h1M447 57.5h1M438 47.5h1M445 56.5h1M445 59.5h1M437 54.5h1M447 62.5h1M436 53.5h1M440 57.5h1M449 59.5h1M438 52.5h1M453 62.5h1M452 74.5h1M443 59.5h1M444 52.5h1M444 61.5h1M441 58.5h1M445 58.5h1M449 58.5h1M444 58.5h1M447 59.5h1M436 50.5h1M450 56.5h1M440 56.5h1M475 59.5h1M469 71.5h1M477 58.5h1M487 67.5h1M464 62.5h1M463 61.5h1M487 65.5h1M476 69.5h1M465 63.5h1M474 60.5h1M485 63.5h1M487 62.5h1M465 68.5h1M466 68.5h1M473 61.5h1M478 70.5h1M484 68.5h1M476 71.5h1M476 62.5h1M464 59.5h1M483 56.5h1M482 59.5h1M482 70.5h1M475 64.5h1M469 60.5h1M484 70.5h1M487 57.5h1M464 69.5h1M487 66.5h1M473 71.5h1M469 66.5h1M462 60.5h1M463 64.5h1M478 61.5h1M482 64.5h1M470 70.5h1M465 85.5h1M471 85.5h1M466 82.5h1M442 86.5h1M483 86.5h1M441 90.5h1M482 86.5h1M459 84.5h1M444 85.5h1M464 94.5h1M485 89.5h1M449 82.5h1M476 95.5h1M456 82.5h1M466 95.5h1M479 93.5h1M461 92.5h1M474 86.5h1M475 96.5h1M445 96.5h1M467 83.5h1M475 88.5h1M478 89.5h1M479 83.5h1M455 88.5h1M456 86.5h1M446 89.5h1M463 91.5h1M441 82.5h1M441 84.5h1M450 94.5h1M478 87.5h1M445 94.5h1M459 95.5h1M464 86.5h1M449 91.5h1M462 84.5h1M485 85.5h1M459 94.5h1M456 88.5h1M457 95.5h1M468 89.5h1M486 84.5h1M454 89.5h1M446 96.5h1M480 83.5h1M482 82.5h1M454 91.5h1M462 96.5h1M449 83.5h1M446 92.5h1M451 91.5h1M485 86.5h1M477 89.5h1M471 94.5h1M464 88.5h1M429 35.5h1M458 56.5h1M434 60.5h1M448 44.5h1M462 40.5h1M463 55.5h1"/>
<path stroke="#000" d="M74 224.5h1M44 225.5h1M65 229.5h1M64 223.5h1M62 220.5h1M33 227.5h1M39 226.5h1M59 227.5h1M34 226.5h1M73 223.5h1M40 221.5h1M76 229.5h1M38 223.5h1M62 221.5h1M52 218.5h1M69 227.5h1M33 224.5h1M72 227.5h1M49 225.5h1M40 224.5h1M66 220.5h1M50 221.5h1M46 219.5h1M65 227.5h1M37 224.5h1M51 225.5h1M72 233.5h1M65 220.5h1M64 230.5h1M45 227.5h1M47 228.5h1M79 224.5h1M69 221.5h1M39 218.5h1M57 221.5h1M41 224.5h1M64 222.5h1M77 223.5h1M79 228.5h1M51 218.5h1M62 223.5h1M69 222.5h1M50 218.5h1M52 223.5h1M43 224.5h1M47 225.5h1M45 226.5h1M74 228.5h1M70 231.5h1M80 222.5h1M41 220.5h1M55 222.5h1M75 221.5h1M77 221.5h1M44 219.5h1M53 223.5h1M46 222.5h1M76 225.5h1M58 221.5h1M81 222.5h1M52 222.5h1M45 229.5h1M53 219.5h1M64 221.5h1M61 220.5h1M61 227.5h1M41 217.5h1M79 223.5h1M49 221.5h1M73 221.5h1M68 221.5h1M65 221.5h1M76 223.5h1M66 225.5h1M49 226.5h1M53 225.5h1M70 217.5h1M44 224.5h1M45 225.5h1M45 224.5h1M75 226.5h1M57 227.5h1M54 223.5h1M60 222.5h1M72 225.5h1M52 226.5h1M75 223.5h1M50 226.5h1M33 217.5h1M49 227.5h1M53 228.5h1M65 230.5h1M39 229.5h1M55 224.5h1M78 224.5h1M40 229.5h1M38 221.5h1M70 226.5h1M74 225.5h1M51 224.5h1M41 222.5h1M77 224.5h1M50 225.5h1M44 227.5h1M33 221.5h1M78 226.5h1M71 228.5h1M59 219.5h1M39 221.5h1M71 227.5h1M40 219.5h1M46 225.5h1M44 222.5h1M77 226.5h1M59 226.5h1M78 223.5h1M71 220.5h1M56 229.5h1M34 223.5h1M46 228.5h1M56 218.5h1M54 228.5h1M46 221.5h1M40 226.5h1M51 219.5h1M51 222.5h1M44 220.5h1M64 226.5h1M42 228.5h1M63 219.5h1M35 222.5h1M54 222.5h1M81 228.5h1M68 228.5h1M68 220.5h1M53 220.5h1M50 224.5h1M76 228.5h1M65 228.5h1M64 224.5h1M77 222.5h1M61 221.5h1M47 224.5h1M62 222.5h1M35 224.5h1M38 226.5h1M63 225.5h1M38 224.5h1M76 221.5h1M49 231.5h1M68 223.5h1M65 223.5h1M38 222.5h1M43 225.5h1M73 226.5h1M66 221.5h1M43 223.5h1M80 223.5h1M37 223.5h1M42 225.5h1M54 216.5h1M57 225.5h1M41 227.5h1M62 226.5h1M58 224.5h1M39 222.5h1M63 228.5h1M67 231.5h1M46 230.5h1M53 227.5h1M71 222.5h1M37 225.5h1M67 224.5h1M58 226.5h1M60 223.5h1M36 225.5h1M53 224.5h1M66 218.5h1M77 227.5h1M42 221.5h1M40 223.5h1M50 228.5h1M55 221.5h1M61 230.5h1M45 223.5h1M56 225.5h1M63 222.5h1M70 225.5h1M72 223.5h1M69 231.5h1M71 221.5h1M44 218.5h1M78 229.5h1M40 220.5h1M56 230.5h1M67 219.5h1M42 226.5h1M74 223.5h1M53 222.5h1M51 230.5h1M54 224.5h1M32 228.5h1M74 227.5h1M51 227.5h1M43 218.5h1M66 223.5h1M51 226.5h1M68 227.5h1M46 214.5h1M61 219.5h1M69 224.5h1M59 221.5h1M44 226.5h1M71 225.5h1M70 230.5h1M72 216.5h1M73 230.5h1M77 233.5h1M74 220.5h1M62 225.5h1M81 223.5h1M51 223.5h1M74 232.5h1M54 221.5h1M47 229.5h1M82 218.5h1M58 231.5h1M63 224.5h1M42 223.5h1M33 231.5h1M67 223.5h1M57 222.5h1M35 221.5h1M62 224.5h1M47 231.5h1M68 226.5h1M61 226.5h1M69 225.5h1M59 225.5h1M76 220.5h1M55 228.5h1M46 227.5h1M33 218.5h1M69 232.5h1M65 226.5h1M80 229.5h1M74 230.5h1M46 223.5h1M48 227.5h1M73 228.5h1M71 224.5h1M59 223.5h1M49 222.5h1M65 225.5h1M42 220.5h1M59 230.5h1M79 226.5h1M68 222.5h1M48 226.5h1M60 228.5h1M78 221.5h1M39 224.5h1M60 224.5h1M52 220.5h1M67 228.5h1M42 222.5h1M40 218.5h1M65 224.5h1M61 225.5h1M57 224.5h1M78 230.5h1M38 220.5h1M36 220.5h1M61 228.5h1M42 229.5h1M48 221.5h1M66 230.5h1M60 221.5h1M72 222.5h1M78 218.5h1M36 223.5h1M60 230.5h1M57 228.5h1M82 230.5h1M33 222.5h1M56 222.5h1M65 214.5h1M39 223.5h1M60 226.5h1M38 230.5h1M75 225.5h1M82 226.5h1M39 230.5h1M66 217.5h1M46 232.5h1M66 224.5h1M74 226.5h1M39 220.5h1M52 228.5h1M75 224.5h1M50 212.5h1M39 217.5h1M70 219.5h1M63 223.5h1M54 219.5h1M70 221.5h1M55 220.5h1M75 228.5h1M61 217.5h1M82 229.5h1M38 219.5h1M52 225.5h1M65 231.5h1M43 221.5h1M84 227.5h1M68 224.5h1M53 229.5h1M39 225.5h1M55 226.5h1M62 228.5h1M47 223.5h1M43 220.5h1M43 230.5h1M36 219.5h1M48 230.5h1M37 219.5h1M72 220.5h1M67 229.5h1M52 224.5h1M54 226.5h1M47 222.5h1M36 222.5h1M76 226.5h1M70 228.5h1M66 227.5h1M56 228.5h1M76 227.5h1M69 229.5h1M76 230.5h1M57 223.5h1M61 224.5h1M80 224.5h1M41 225.5h1M78 227.5h1M55 231.5h1M67 220.5h1M56 227.5h1M67 216.5h1M56 223.5h1M46 224.5h1M37 227.5h1M55 232.5h1M54 227.5h1M42 224.5h1M77 228.5h1M48 220.5h1M47 226.5h1M60 219.5h1M69 223.5h1M61 222.5h1M62 219.5h1M57 230.5h1M43 219.5h1M33 225.5h1M33 226.5h1M37 220.5h1M53 221.5h1M55 229.5h1M35 226.5h1M40 222.5h1M45 220.5h1M50 219.5h1M37 217.5h1M60 227.5h1M35 225.5h1M41 228.5h1M41 229.5h1M68 231.5h1M72 229.5h1M50 229.5h1M49 228.5h1M48 225.5h1M58 228.5h1M47 219.5h1M69 220.5h1M45 222.5h1M79 215.5h1M64 227.5h1M57 229.5h1M62 229.5h1M32 222.5h1M34 225.5h1M45 219.5h1M64 219.5h1M69 218.5h1M70 227.5h1M69 230.5h1M60 225.5h1M66 228.5h1M76 224.5h1M57 220.5h1M46 229.5h1M37 226.5h1M59 228.5h1M63 227.5h1M73 222.5h1M34 220.5h1M32 227.5h1M74 221.5h1M81 224.5h1M41 223.5h1M60 220.5h1M42 227.5h1M51 228.5h1M74 229.5h1M71 231.5h1M54 225.5h1M70 224.5h1M85 229.5h1M83 225.5h1M75 227.5h1M74 217.5h1M34 222.5h1M44 221.5h1M37 222.5h1M79 229.5h1M43 226.5h1M64 225.5h1M50 223.5h1M70 220.5h1M57 226.5h1M74 222.5h1M52 227.5h1M49 224.5h1M71 223.5h1M33 215.5h1M43 222.5h1M55 215.5h1M52 233.5h1M70 216.5h1M78 222.5h1M48 222.5h1M52 221.5h1M71 229.5h1M34 227.5h1M53 216.5h1M71 226.5h1M75 220.5h1M59 229.5h1M40 217.5h1M81 229.5h1M78 225.5h1M75 219.5h1M67 221.5h1M54 220.5h1M55 223.5h1M34 218.5h1M51 221.5h1M75 222.5h1M73 227.5h1M33 216.5h1M35 220.5h1M37 221.5h1M81 225.5h1M62 232.5h1M63 226.5h1M36 226.5h1M70 222.5h1M72 226.5h1M48 219.5h1M77 220.5h1M67 226.5h1M48 224.5h1M50 222.5h1M76 231.5h1M56 224.5h1M76 218.5h1M36 221.5h1M73 229.5h1M77 225.5h1M42 219.5h1M65 218.5h1M40 214.5h1M47 218.5h1M58 225.5h1M59 231.5h1M51 220.5h1M44 228.5h1M47 217.5h1M46 226.5h1M59 224.5h1M68 232.5h1M73 224.5h1M38 229.5h1M62 227.5h1M49 219.5h1M59 220.5h1M46 220.5h1M38 228.5h1M59 218.5h1M83 227.5h1M80 227.5h1M45 218.5h1M66 222.5h1M32 225.5h1M65 222.5h1M72 224.5h1M32 231.5h1M60 218.5h1M43 215.5h1M68 225.5h1M70 223.5h1M33 223.5h1M63 231.5h1M81 227.5h1M35 219.5h1M52 216.5h1M49 229.5h1M84 223.5h1M85 224.5h1M50 217.5h1M48 223.5h1M67 222.5h1M41 215.5h1M79 227.5h1M60 231.5h1M82 222.5h1M49 220.5h1M79 225.5h1M39 219.5h1M56 221.5h1M53 217.5h1M73 220.5h1M77 229.5h1M34 224.5h1M55 219.5h1M73 219.5h1M78 220.5h1M72 231.5h1M43 227.5h1M32 218.5h1M59 217.5h1M39 228.5h1M67 225.5h1M72 234.5h1M51 231.5h1M53 215.5h1M37 231.5h1M63 218.5h1M36 224.5h1M55 225.5h1M61 229.5h1M72 221.5h1M36 228.5h1M44 223.5h1M66 214.5h1M61 223.5h1M45 217.5h1M50 230.5h1M73 225.5h1M84 225.5h1M53 226.5h1M45 221.5h1M55 227.5h1M35 228.5h1M82 224.5h1M72 230.5h1M54 230.5h1M51 217.5h1M42 218.5h1M68 218.5h1M65 219.5h1M78 228.5h1M63 220.5h1M62 217.5h1M66 219.5h1M78 235.5h1M46 218.5h1M75 230.5h1M66 226.5h1M79 219.5h1M36 218.5h1M57 218.5h1M51 229.5h1M37 228.5h1M69 226.5h1M80 228.5h1M39 227.5h1M48 229.5h1M41 221.5h1M50 227.5h1M34 228.5h1M45 228.5h1M71 219.5h1M40 227.5h1M53 218.5h1M67 230.5h1M63 213.5h1M80 225.5h1M60 214.5h1M47 227.5h1M72 219.5h1M47 221.5h1M52 229.5h1M77 230.5h1M48 228.5h1M81 226.5h1M72 217.5h1M58 229.5h1M58 223.5h1M80 220.5h1M56 220.5h1M75 231.5h1M84 224.5h1M53 230.5h1M32 219.5h1M36 212.5h1M33 220.5h1M61 232.5h1M58 219.5h1M43 228.5h1M49 216.5h1M44 229.5h1M59 216.5h1M48 231.5h1M59 222.5h1M75 229.5h1M49 223.5h1M35 229.5h1M56 226.5h1M74 215.5h1M50 233.5h1M48 218.5h1M69 217.5h1M71 217.5h1M65 217.5h1M50 215.5h1M73 218.5h1M78 216.5h1M69 216.5h1M65 215.5h1M95 220.5h1M69 219.5h1M52 217.5h1M49 213.5h1M64 216.5h1M82 219.5h1M58 222.5h1M46 217.5h1M57 214.5h1M76 215.5h1M65 216.5h1M64 220.5h1M57 217.5h1M74 218.5h1M75 217.5h1M79 221.5h1M83 215.5h1M64 215.5h1M66 215.5h1M60 216.5h1M58 217.5h1M80 213.5h1M52 219.5h1M67 217.5h1M69 215.5h1M85 222.5h1M73 217.5h1M50 216.5h1M53 214.5h1M68 217.5h1M42 217.5h1M57 219.5h1M71 218.5h1M63 215.5h1M55 217.5h1M76 214.5h1M73 216.5h1M41 216.5h1M75 214.5h1M77 219.5h1M68 215.5h1M62 218.5h1M67 218.5h1M67 214.5h1M84 220.5h1M54 214.5h1M75 216.5h1M63 221.5h1M73 212.5h1M71 216.5h1M72 213.5h1M56 219.5h1M64 218.5h1M61 218.5h1M56 215.5h1M85 235.5h1M84 230.5h1M88 232.5h1M86 234.5h1M81 236.5h1M89 232.5h1M83 233.5h1M85 232.5h1M90 232.5h1M88 236.5h1M83 230.5h1M93 231.5h1M89 227.5h1M82 232.5h1M89 228.5h1M83 238.5h1M90 234.5h1M84 233.5h1M89 236.5h1M83 232.5h1M92 231.5h1M85 228.5h1M86 233.5h1M81 234.5h1M84 232.5h1M82 236.5h1M92 228.5h1M80 233.5h1M83 234.5h1M85 239.5h1M88 231.5h1M87 229.5h1M79 230.5h1M86 235.5h1M83 235.5h1M89 240.5h1M82 228.5h1M86 228.5h1M89 233.5h1M86 232.5h1M87 237.5h1M84 237.5h1M88 233.5h1M86 230.5h1M87 223.5h1M79 235.5h1M86 229.5h1M81 233.5h1M88 230.5h1M85 237.5h1M84 231.5h1M87 231.5h1M87 233.5h1M91 227.5h1M85 230.5h1M83 228.5h1M86 236.5h1M84 235.5h1M85 227.5h1M76 232.5h1M80 234.5h1M81 235.5h1M86 231.5h1M86 227.5h1M85 226.5h1M86 238.5h1M95 237.5h1M87 230.5h1M80 230.5h1M91 229.5h1M89 231.5h1M87 227.5h1M85 225.5h1M87 228.5h1M83 229.5h1M85 238.5h1M83 236.5h1M87 232.5h1M89 225.5h1M34 221.5h1M65 233.5h1M58 220.5h1M49 214.5h1M81 220.5h1M35 227.5h1M74 219.5h1M71 230.5h1M49 218.5h1M36 217.5h1M67 227.5h1M35 223.5h1M43 231.5h1M41 234.5h1M79 216.5h1M47 230.5h1M82 227.5h1M40 225.5h1M82 223.5h1M62 230.5h1M38 233.5h1M76 217.5h1M45 230.5h1M68 229.5h1M85 223.5h1M80 231.5h1M60 215.5h1M76 222.5h1M43 217.5h1M60 233.5h1M71 239.5h1M45 234.5h1M80 232.5h1M66 231.5h1M45 233.5h1M87 234.5h1M52 234.5h1M46 234.5h1M64 231.5h1M36 235.5h1M48 232.5h1M38 232.5h1M44 231.5h1M44 234.5h1M48 234.5h1M79 237.5h1M38 234.5h1M39 231.5h1M33 238.5h1M74 240.5h1M49 230.5h1M51 237.5h1M43 234.5h1M36 232.5h1M63 229.5h1M58 232.5h1M86 239.5h1M37 232.5h1M57 232.5h1M61 231.5h1M49 234.5h1M41 236.5h1M68 230.5h1M84 238.5h1M63 234.5h1M59 235.5h1M65 236.5h1M67 236.5h1M74 234.5h1M70 229.5h1M79 236.5h1M48 233.5h1M46 237.5h1M85 234.5h1M64 233.5h1M78 231.5h1M50 231.5h1M56 233.5h1M71 238.5h1M36 229.5h1M66 229.5h1M58 230.5h1M84 234.5h1M54 234.5h1M51 234.5h1M79 232.5h1M68 237.5h1M79 231.5h1M77 235.5h1M77 238.5h1M62 231.5h1M38 238.5h1M75 240.5h1M80 236.5h1M73 240.5h1M76 236.5h1M72 241.5h1M87 238.5h1M33 230.5h1M77 231.5h1M58 237.5h1M54 229.5h1M61 233.5h1M38 237.5h1M75 232.5h1M72 236.5h1M66 235.5h1M44 233.5h1M52 230.5h1M42 238.5h1M63 232.5h1M89 239.5h1M51 232.5h1M82 235.5h1M75 238.5h1M50 236.5h1M77 240.5h1M71 235.5h1M77 237.5h1M41 230.5h1M57 235.5h1M41 241.5h1M56 231.5h1M61 237.5h1M85 231.5h1M74 233.5h1M89 230.5h1M72 232.5h1M71 233.5h1M40 235.5h1M56 232.5h1M42 231.5h1M80 241.5h1M39 234.5h1M58 234.5h1M36 234.5h1M74 241.5h1M56 235.5h1M62 239.5h1M81 232.5h1M89 229.5h1M89 235.5h1M63 230.5h1M83 240.5h1M82 233.5h1M76 235.5h1M66 233.5h1M79 233.5h1M49 238.5h1M35 230.5h1M36 237.5h1M66 239.5h1M34 229.5h1M33 229.5h1M42 234.5h1M84 229.5h1M87 235.5h1M47 240.5h1M35 237.5h1M54 232.5h1M60 234.5h1M60 235.5h1M70 232.5h1M61 238.5h1M76 241.5h1M42 235.5h1M35 238.5h1M88 238.5h1M47 235.5h1M88 229.5h1M40 231.5h1M82 239.5h1M54 233.5h1M54 231.5h1M78 238.5h1M45 236.5h1M67 233.5h1M53 236.5h1M60 238.5h1M45 238.5h1M42 236.5h1M80 237.5h1M81 231.5h1M89 241.5h1M73 234.5h1M66 232.5h1M46 235.5h1M52 236.5h1M78 239.5h1M50 237.5h1M73 235.5h1M89 234.5h1M78 233.5h1M56 237.5h1M34 231.5h1M34 230.5h1"/>
<path stroke="#404040" d="M49 259.5h1M35 254.5h1M49 252.5h1M53 259.5h1M57 248.5h1M53 256.5h1M41 246.5h1M34 248.5h1M52 252.5h1M42 250.5h1M51 250.5h1M40 248.5h1M58 254.5h1M49 250.5h1M47 247.5h1M44 253.5h1M44 246.5h1M48 246.5h1M48 256.5h1M53 245.5h1M50 246.5h1M42 254.5h1M46 258.5h1M53 244.5h1M36 245.5h1M39 257.5h1M44 245.5h1M40 254.5h1M38 246.5h1M47 250.5h1M48 257.5h1M55 253.5h1M46 249.5h1M34 256.5h1M51 259.5h1M35 251.5h1M35 259.5h1M46 252.5h1M52 256.5h1M40 251.5h1M48 254.5h1M37 256.5h1M43 254.5h1M54 248.5h1M57 257.5h1M51 254.5h1M55 251.5h1M38 256.5h1M57 255.5h1M34 246.5h1M52 258.5h1M51 244.5h1M83 258.5h1M72 256.5h1M83 250.5h1M62 244.5h1M67 257.5h1M78 257.5h1M75 255.5h1M76 245.5h1M62 257.5h1M74 259.5h1M66 244.5h1M82 255.5h1M82 259.5h1M77 246.5h1M71 257.5h1M66 248.5h1M78 256.5h1M62 253.5h1M84 247.5h1M73 259.5h1M62 256.5h1M73 256.5h1M63 258.5h1M72 251.5h1M68 259.5h1M80 250.5h1M65 257.5h1M81 259.5h1M84 253.5h1M64 259.5h1M65 249.5h1M69 252.5h1M82 253.5h1M69 253.5h1M64 244.5h1M85 246.5h1M101 254.5h1M89 256.5h1M93 254.5h1M85 253.5h1M88 245.5h1M77 253.5h1M79 253.5h1M80 249.5h1M90 249.5h1M97 252.5h1M88 250.5h1M85 247.5h1M79 258.5h1M92 247.5h1M94 250.5h1M86 240.5h1M79 255.5h1M90 246.5h1M78 254.5h1M99 254.5h1M91 242.5h1M92 244.5h1M84 251.5h1M81 249.5h1M81 242.5h1M86 251.5h1M87 249.5h1M87 250.5h1M83 255.5h1M91 255.5h1M86 254.5h1M87 247.5h1M98 256.5h1M85 248.5h1M85 257.5h1M92 241.5h1M86 250.5h1M90 258.5h1M80 248.5h1M89 248.5h1M88 246.5h1M91 253.5h1M86 245.5h1M89 257.5h1M85 242.5h1M95 248.5h1M94 251.5h1M88 247.5h1M91 254.5h1M93 244.5h1M90 254.5h1M89 250.5h1M94 255.5h1M91 248.5h1M88 249.5h1M97 253.5h1M89 241.5h1M89 254.5h1M95 252.5h1M80 243.5h1M92 255.5h1M85 256.5h1M70 252.5h1M84 245.5h1M82 246.5h1M93 251.5h1M91 252.5h1M95 244.5h1M83 252.5h1M95 245.5h1M84 249.5h1M104 245.5h1M86 258.5h1M89 253.5h1M87 245.5h1M94 254.5h1M78 246.5h1M84 252.5h1"/>
<path stroke="#000" d="M178 224.5h1M156 222.5h1M172 222.5h1M163 224.5h1M172 226.5h1M171 225.5h1M170 222.5h1M160 227.5h1M164 226.5h1M168 227.5h1M183 226.5h1M160 223.5h1M164 224.5h1M174 222.5h1M170 223.5h1M171 222.5h1M167 222.5h1M173 221.5h1M175 224.5h1M172 228.5h1M184 226.5h1M160 224.5h1M177 221.5h1M174 221.5h1M175 229.5h1M176 219.5h1M180 230.5h1M164 223.5h1M176 226.5h1M183 223.5h1M159 225.5h1M168 228.5h1M180 223.5h1M157 225.5h1M178 226.5h1M162 229.5h1M183 230.5h1M171 221.5h1M181 227.5h1M181 226.5h1M166 217.5h1M171 219.5h1M160 218.5h1M165 220.5h1M167 224.5h1M157 224.5h1M165 226.5h1M164 225.5h1M175 222.5h1M164 213.5h1M177 226.5h1M165 227.5h1M157 218.5h1M178 223.5h1M173 225.5h1M175 221.5h1M169 222.5h1M163 220.5h1M171 229.5h1M179 228.5h1M160 225.5h1M177 224.5h1M176 230.5h1M183 221.5h1M183 219.5h1M158 223.5h1M180 226.5h1M180 227.5h1M168 225.5h1M179 221.5h1M172 225.5h1M175 228.5h1M171 227.5h1M158 222.5h1M179 224.5h1M163 227.5h1M166 221.5h1M161 219.5h1M181 224.5h1M173 220.5h1M179 227.5h1M166 230.5h1M158 227.5h1M180 224.5h1M166 223.5h1M162 227.5h1M171 224.5h1M171 226.5h1M174 223.5h1M180 225.5h1M165 228.5h1M180 221.5h1M162 226.5h1M184 218.5h1M159 228.5h1M166 224.5h1M174 220.5h1M175 226.5h1M169 224.5h1M170 228.5h1M169 220.5h1M175 218.5h1M167 220.5h1M173 229.5h1M176 229.5h1M161 223.5h1M166 226.5h1M164 229.5h1M157 228.5h1M165 223.5h1M169 225.5h1M166 219.5h1M170 227.5h1M185 228.5h1M174 227.5h1M186 220.5h1M176 221.5h1M182 223.5h1M179 217.5h1M177 230.5h1M184 224.5h1M168 224.5h1M162 223.5h1M184 227.5h1M172 223.5h1M182 228.5h1M162 224.5h1M176 227.5h1M164 227.5h1M181 225.5h1M161 225.5h1M184 222.5h1M166 228.5h1M159 223.5h1M166 225.5h1M175 233.5h1M176 225.5h1M175 227.5h1M158 225.5h1M180 228.5h1M173 223.5h1M165 221.5h1M178 220.5h1M172 227.5h1M178 228.5h1M160 230.5h1M174 224.5h1M159 224.5h1M172 220.5h1M173 224.5h1M176 223.5h1M162 228.5h1M169 223.5h1M167 221.5h1M167 229.5h1M161 222.5h1M163 225.5h1M160 222.5h1M160 219.5h1M158 228.5h1M179 223.5h1M173 226.5h1M158 224.5h1M168 220.5h1M159 221.5h1M157 227.5h1M158 234.5h1M166 220.5h1M179 222.5h1M157 226.5h1M178 222.5h1M184 228.5h1M185 222.5h1M165 218.5h1M170 231.5h1M157 220.5h1M169 221.5h1M158 219.5h1M156 224.5h1M170 220.5h1M184 220.5h1M174 225.5h1M168 221.5h1M182 224.5h1M176 228.5h1M182 220.5h1M182 230.5h1M167 225.5h1M170 224.5h1M171 223.5h1M160 221.5h1M185 229.5h1M161 227.5h1M165 222.5h1M175 225.5h1M168 222.5h1M169 226.5h1M159 226.5h1M158 226.5h1M183 225.5h1M161 220.5h1M167 218.5h1M181 228.5h1M167 230.5h1M182 225.5h1M184 221.5h1M163 223.5h1M182 226.5h1M181 230.5h1M172 219.5h1M183 228.5h1M183 224.5h1M174 226.5h1M166 222.5h1M172 218.5h1M157 222.5h1M183 229.5h1M182 227.5h1M168 223.5h1M181 223.5h1M173 217.5h1M161 229.5h1M180 222.5h1M177 228.5h1M175 220.5h1M177 225.5h1M159 222.5h1M172 224.5h1M158 221.5h1M167 223.5h1M160 229.5h1M169 229.5h1M169 233.5h1M170 225.5h1M166 216.5h1M165 225.5h1M162 220.5h1M169 228.5h1M163 226.5h1M175 223.5h1M185 221.5h1M162 221.5h1M184 225.5h1M161 230.5h1M162 219.5h1M165 224.5h1M184 230.5h1M156 220.5h1M157 221.5h1M178 225.5h1M177 227.5h1M178 221.5h1M168 226.5h1M160 228.5h1M168 229.5h1M184 223.5h1M173 222.5h1M164 230.5h1M163 228.5h1M171 228.5h1M173 230.5h1M177 222.5h1M156 217.5h1M164 217.5h1M179 226.5h1M179 220.5h1M181 222.5h1M173 228.5h1M178 219.5h1M164 222.5h1M163 217.5h1M161 226.5h1M179 229.5h1M176 224.5h1M161 221.5h1M185 223.5h1M179 225.5h1M170 221.5h1M159 218.5h1M160 220.5h1M166 227.5h1M163 221.5h1M172 221.5h1M184 219.5h1M176 220.5h1M182 221.5h1M173 219.5h1M156 223.5h1M173 227.5h1M177 223.5h1M170 226.5h1M172 229.5h1M186 226.5h1M180 218.5h1M183 227.5h1M157 223.5h1M180 219.5h1M174 219.5h1M181 220.5h1M171 230.5h1M162 218.5h1M182 216.5h1M163 222.5h1M156 225.5h1M156 226.5h1M164 221.5h1M160 226.5h1M178 232.5h1M164 228.5h1M161 228.5h1M185 224.5h1M171 231.5h1M167 226.5h1M167 227.5h1M164 219.5h1M168 219.5h1M162 225.5h1M182 218.5h1M181 229.5h1M182 229.5h1M183 222.5h1M172 230.5h1M182 219.5h1M168 230.5h1M181 217.5h1M158 229.5h1M161 224.5h1M169 227.5h1M179 216.5h1M185 227.5h1M170 218.5h1M156 231.5h1M174 236.5h1M159 219.5h1M170 229.5h1M162 230.5h1M181 221.5h1M178 215.5h1M177 219.5h1M171 218.5h1M164 218.5h1M163 218.5h1M159 230.5h1M165 219.5h1M187 223.5h1M178 218.5h1M162 222.5h1M182 235.5h1M169 218.5h1M159 220.5h1M171 220.5h1M180 220.5h1M178 227.5h1M165 231.5h1M186 221.5h1M163 216.5h1M156 227.5h1M159 216.5h1M156 216.5h1M173 215.5h1M173 218.5h1M188 227.5h1M193 227.5h1M196 226.5h1M196 227.5h1M206 228.5h1M200 222.5h1M191 231.5h1M193 222.5h1M197 222.5h1M189 222.5h1M199 228.5h1M206 230.5h1M201 226.5h1M193 233.5h1M190 228.5h1M199 225.5h1M192 232.5h1M189 221.5h1M187 221.5h1M204 228.5h1M195 226.5h1M189 225.5h1M196 225.5h1M205 228.5h1M197 228.5h1M200 224.5h1M193 232.5h1M199 224.5h1M198 228.5h1M199 230.5h1M205 225.5h1M193 231.5h1M190 230.5h1M198 223.5h1M198 226.5h1M193 226.5h1M192 225.5h1M200 226.5h1M194 224.5h1M190 225.5h1M197 227.5h1M196 234.5h1M193 225.5h1M198 227.5h1M199 227.5h1M203 225.5h1M198 230.5h1M191 220.5h1M195 230.5h1M192 226.5h1M198 221.5h1M200 235.5h1M189 230.5h1M202 228.5h1M188 226.5h1M206 224.5h1M188 225.5h1M178 230.5h1M189 226.5h1M195 227.5h1M201 231.5h1M195 225.5h1M203 223.5h1M188 224.5h1M196 223.5h1M198 222.5h1M190 222.5h1M208 226.5h1M196 228.5h1M194 230.5h1M200 228.5h1M196 232.5h1M197 229.5h1M196 229.5h1M196 224.5h1M194 222.5h1M194 228.5h1M191 227.5h1M188 223.5h1M202 220.5h1M194 229.5h1M190 226.5h1M191 230.5h1M191 221.5h1M189 227.5h1M195 228.5h1M197 236.5h1M199 229.5h1M195 221.5h1M194 227.5h1M189 228.5h1M199 226.5h1M205 229.5h1M207 229.5h1M206 227.5h1M194 223.5h1M191 228.5h1M209 225.5h1M203 221.5h1M197 224.5h1M186 227.5h1M201 232.5h1M193 223.5h1M195 233.5h1M193 230.5h1M190 227.5h1M191 226.5h1M204 222.5h1M195 222.5h1M203 227.5h1M199 220.5h1M192 227.5h1M188 228.5h1M197 231.5h1M202 231.5h1M201 224.5h1M191 233.5h1M190 221.5h1M193 235.5h1M187 233.5h1M189 224.5h1M187 234.5h1M187 224.5h1M207 222.5h1M198 232.5h1M202 221.5h1M191 229.5h1M193 224.5h1M195 224.5h1M186 224.5h1M190 224.5h1M192 230.5h1M202 223.5h1M204 226.5h1M195 223.5h1M204 229.5h1M208 225.5h1M191 223.5h1M205 226.5h1M192 224.5h1M187 226.5h1M194 226.5h1M174 217.5h1M182 214.5h1M170 216.5h1M177 217.5h1M183 217.5h1M178 216.5h1M176 218.5h1M186 217.5h1M182 217.5h1M177 218.5h1M179 219.5h1M176 214.5h1M180 217.5h1M171 216.5h1M172 212.5h1M184 216.5h1M174 215.5h1M176 215.5h1M175 217.5h1M187 219.5h1M173 213.5h1M186 215.5h1M187 222.5h1M177 220.5h1M185 219.5h1M183 218.5h1M179 215.5h1M186 218.5h1M185 217.5h1M180 216.5h1M174 218.5h1M183 220.5h1M175 219.5h1M188 217.5h1M188 218.5h1M175 211.5h1M172 216.5h1M176 216.5h1M175 215.5h1M181 216.5h1M178 217.5h1M176 217.5h1M177 216.5h1M190 219.5h1M174 214.5h1M186 216.5h1M176 222.5h1M181 218.5h1M171 217.5h1M182 222.5h1M172 214.5h1M160 240.5h1M180 229.5h1M162 233.5h1M172 233.5h1M180 233.5h1M175 231.5h1M167 234.5h1M159 232.5h1M177 235.5h1M181 240.5h1M156 229.5h1M168 232.5h1M157 234.5h1M161 239.5h1M184 231.5h1M169 232.5h1M185 233.5h1M177 229.5h1M159 229.5h1M184 229.5h1M174 229.5h1M172 232.5h1M165 229.5h1M177 238.5h1M156 230.5h1M172 235.5h1M180 240.5h1M182 237.5h1M174 235.5h1M161 231.5h1M173 235.5h1M177 231.5h1M157 235.5h1M161 233.5h1M171 238.5h1M171 235.5h1M158 232.5h1M162 238.5h1M183 235.5h1M157 230.5h1M160 233.5h1M180 237.5h1M178 231.5h1M166 232.5h1M181 234.5h1M181 232.5h1M175 230.5h1M163 229.5h1M165 232.5h1M166 236.5h1M160 231.5h1M167 233.5h1M183 232.5h1M170 234.5h1M182 236.5h1M163 238.5h1M180 235.5h1M166 231.5h1M157 229.5h1M165 230.5h1M156 233.5h1M181 233.5h1M165 235.5h1M159 235.5h1M178 229.5h1M183 231.5h1M156 232.5h1M169 231.5h1M171 236.5h1M177 233.5h1M175 234.5h1M163 230.5h1M182 231.5h1M179 232.5h1M176 236.5h1M162 231.5h1M185 230.5h1M173 231.5h1M161 236.5h1M157 238.5h1M158 238.5h1M178 237.5h1"/>
<path stroke="#404040" d="M215 226.5h1M220 231.5h1M189 234.5h1M219 234.5h1M214 217.5h1M214 224.5h1M220 228.5h1M195 228.5h1M194 219.5h1M196 225.5h1M200 219.5h1M203 226.5h1M210 228.5h1M188 229.5h1M217 229.5h1M204 220.5h1M209 224.5h1M192 231.5h1M220 224.5h1M200 231.5h1M189 221.5h1M206 226.5h1M202 233.5h1M213 235.5h1M204 235.5h1M208 227.5h1M206 230.5h1M214 229.5h1M210 231.5h1M206 236.5h1M195 230.5h1M207 232.5h1M219 218.5h1M197 228.5h1M207 226.5h1M197 229.5h1M209 226.5h1M193 221.5h1M190 232.5h1M189 224.5h1M207 222.5h1M188 226.5h1M196 228.5h1M214 220.5h1M199 220.5h1M197 225.5h1M212 237.5h1M194 221.5h1M216 229.5h1M207 229.5h1M201 225.5h1M190 226.5h1M203 232.5h1M221 219.5h1M211 226.5h1M215 236.5h1M196 224.5h1M188 227.5h1M216 221.5h1M201 220.5h1M186 226.5h1M201 216.5h1M196 223.5h1M199 228.5h1M198 227.5h1M191 227.5h1M190 224.5h1M204 229.5h1M193 229.5h1M202 224.5h1M197 230.5h1M193 223.5h1M199 222.5h1M206 224.5h1M192 230.5h1M224 223.5h1M200 227.5h1M201 231.5h1M208 231.5h1M190 230.5h1M195 221.5h1M203 220.5h1M190 235.5h1M192 221.5h1M196 220.5h1M204 224.5h1M198 226.5h1M195 232.5h1M184 232.5h1M196 234.5h1M199 225.5h1M201 221.5h1M187 225.5h1M182 226.5h1M205 231.5h1M210 230.5h1M193 228.5h1M190 220.5h1M177 227.5h1M196 229.5h1M194 224.5h1M188 231.5h1M186 223.5h1M199 237.5h1M193 224.5h1M210 226.5h1M168 254.5h1M169 256.5h1M176 247.5h1M183 257.5h1M167 251.5h1M184 247.5h1M173 247.5h1M167 255.5h1M164 251.5h1M176 256.5h1M166 247.5h1M179 258.5h1M171 249.5h1M175 247.5h1M163 251.5h1M183 252.5h1M166 256.5h1M168 257.5h1M172 257.5h1M178 254.5h1M163 248.5h1M176 255.5h1M180 246.5h1M177 254.5h1M169 253.5h1M181 248.5h1M164 259.5h1M163 258.5h1M181 258.5h1M175 249.5h1M173 259.5h1M183 249.5h1M169 254.5h1M178 247.5h1M173 250.5h1M178 256.5h1M170 250.5h1M163 257.5h1M176 245.5h1M173 246.5h1M172 253.5h1M184 252.5h1M175 245.5h1M181 255.5h1M165 247.5h1M195 246.5h1M222 249.5h1M195 257.5h1M204 257.5h1M213 244.5h1M190 259.5h1M225 252.5h1M222 250.5h1M221 259.5h1M213 249.5h1M193 248.5h1M196 256.5h1M209 254.5h1M200 246.5h1M217 245.5h1M211 254.5h1M216 246.5h1M199 254.5h1M208 245.5h1M196 259.5h1M195 251.5h1M203 250.5h1M202 251.5h1M217 247.5h1M197 244.5h1M222 245.5h1M225 259.5h1M205 247.5h1M197 257.5h1M211 250.5h1M198 249.5h1M194 247.5h1M214 246.5h1M191 256.5h1M223 248.5h1M214 257.5h1M192 251.5h1M219 250.5h1M225 251.5h1M206 252.5h1M221 246.5h1M210 254.5h1M214 248.5h1M217 251.5h1M218 256.5h1M212 252.5h1M210 255.5h1M213 250.5h1M211 255.5h1M207 252.5h1M212 257.5h1M214 258.5h1M222 246.5h1M216 248.5h1M209 255.5h1M207 253.5h1M205 250.5h1M209 257.5h1M217 258.5h1M205 248.5h1M206 247.5h1M205 255.5h1M208 254.5h1M212 259.5h1"/>
<path stroke="#000" d="M318 242.5h1M309 236.5h1M321 249.5h1M319 241.5h1M316 236.5h1M311 242.5h1M325 237.5h1M311 234.5h1M313 237.5h1M314 239.5h1M306 234.5h1M310 233.5h1M306 238.5h1M314 238.5h1M316 233.5h1M319 231.5h1M320 242.5h1M323 237.5h1M320 244.5h1M309 237.5h1M326 235.5h1M311 236.5h1M326 251.5h1M317 239.5h1M328 233.5h1M306 242.5h1M319 238.5h1M308 230.5h1M306 240.5h1M309 235.5h1M316 238.5h1M308 236.5h1M313 235.5h1M313 230.5h1M314 234.5h1M314 236.5h1M315 233.5h1M317 233.5h1M308 235.5h1M332 228.5h1M310 238.5h1M316 241.5h1M309 239.5h1M310 232.5h1M312 242.5h1M320 229.5h1M323 240.5h1M324 245.5h1M307 252.5h1M315 231.5h1M304 244.5h1M318 234.5h1M313 234.5h1M311 231.5h1M316 240.5h1M318 239.5h1M320 237.5h1M306 239.5h1M308 232.5h1M305 237.5h1M317 238.5h1M305 240.5h1M306 236.5h1M305 226.5h1M325 242.5h1M309 245.5h1M311 243.5h1M305 250.5h1M317 240.5h1M308 242.5h1M319 244.5h1M321 232.5h1M318 233.5h1M315 237.5h1M309 242.5h1M310 235.5h1M312 236.5h1M317 236.5h1M309 231.5h1M320 243.5h1M311 238.5h1M307 234.5h1M312 243.5h1M316 242.5h1M316 239.5h1M304 231.5h1M309 232.5h1M315 240.5h1M313 238.5h1M317 232.5h1M307 243.5h1M319 228.5h1M313 233.5h1M313 244.5h1M322 236.5h1M308 234.5h1M321 236.5h1M333 236.5h1M323 239.5h1M309 234.5h1M331 243.5h1M323 231.5h1M322 238.5h1M312 237.5h1M312 245.5h1M316 245.5h1M314 235.5h1M308 237.5h1M314 240.5h1M305 239.5h1M310 236.5h1M315 242.5h1M324 237.5h1M304 243.5h1M315 241.5h1M317 247.5h1M309 247.5h1M318 238.5h1M308 239.5h1M312 234.5h1M322 235.5h1M319 233.5h1M311 230.5h1M313 236.5h1M320 240.5h1M314 225.5h1M318 241.5h1M323 244.5h1M312 233.5h1M314 237.5h1M308 238.5h1M318 243.5h1M315 238.5h1M313 242.5h1M318 230.5h1M308 240.5h1M311 237.5h1M307 235.5h1M322 240.5h1M315 229.5h1M318 231.5h1M305 232.5h1M321 242.5h1M324 231.5h1M316 225.5h1M304 239.5h1M321 237.5h1M324 238.5h1M306 235.5h1M325 245.5h1M307 241.5h1M306 227.5h1M314 242.5h1M316 232.5h1M311 248.5h1M307 227.5h1M306 237.5h1M305 235.5h1M310 245.5h1M319 251.5h1M312 241.5h1M317 231.5h1M310 231.5h1M319 239.5h1M316 243.5h1M307 233.5h1M325 235.5h1M319 240.5h1M327 230.5h1M317 243.5h1M323 234.5h1M317 234.5h1M313 232.5h1M317 230.5h1M323 241.5h1M322 241.5h1M307 239.5h1M318 246.5h1M319 242.5h1M314 243.5h1M328 243.5h1M319 232.5h1M329 232.5h1M307 237.5h1M306 241.5h1M312 227.5h1M312 235.5h1M319 243.5h1M326 238.5h1M327 246.5h1M331 237.5h1M315 235.5h1M306 230.5h1M313 241.5h1M315 234.5h1M318 240.5h1M324 249.5h1M315 243.5h1M314 241.5h1M320 246.5h1M312 232.5h1M320 245.5h1M309 238.5h1M312 240.5h1M320 235.5h1M314 233.5h1M326 233.5h1M318 236.5h1M322 242.5h1M311 235.5h1M304 237.5h1M325 231.5h1M310 241.5h1M307 246.5h1M323 236.5h1M313 246.5h1M319 237.5h1M304 247.5h1M323 242.5h1M327 231.5h1M307 231.5h1M309 233.5h1M331 231.5h1M310 243.5h1M313 243.5h1M313 251.5h1M317 242.5h1M316 227.5h1M326 243.5h1M311 240.5h1M320 224.5h1M319 234.5h1M311 233.5h1M305 230.5h1M327 237.5h1M309 240.5h1M324 241.5h1M321 238.5h1M320 241.5h1M320 234.5h1M316 230.5h1M324 234.5h1M312 231.5h1M313 239.5h1M314 231.5h1M320 228.5h1M311 241.5h1M304 229.5h1M326 244.5h1M323 232.5h1M309 229.5h1M310 240.5h1M317 235.5h1M313 229.5h1M316 231.5h1M311 228.5h1M306 246.5h1M325 243.5h1M309 248.5h1M310 242.5h1M307 240.5h1M317 229.5h1M316 248.5h1M318 237.5h1M312 229.5h1M318 227.5h1M311 232.5h1M320 238.5h1M325 238.5h1M316 228.5h1M320 248.5h1M316 244.5h1M306 232.5h1M311 244.5h1M303 241.5h1M314 232.5h1M328 230.5h1M316 250.5h1M318 248.5h1M321 241.5h1M312 238.5h1M327 242.5h1M319 236.5h1M316 229.5h1M334 245.5h1M321 229.5h1M320 239.5h1M310 237.5h1M321 227.5h1M305 248.5h1M308 241.5h1M324 240.5h1M313 231.5h1M311 246.5h1M307 236.5h1M306 247.5h1M334 238.5h1M318 235.5h1M322 245.5h1M312 244.5h1M331 238.5h1M316 235.5h1M327 227.5h1M315 232.5h1M324 247.5h1M316 237.5h1M326 240.5h1M308 233.5h1M303 243.5h1M320 231.5h1M306 229.5h1M326 228.5h1M316 234.5h1M313 240.5h1M312 239.5h1M330 235.5h1M304 240.5h1M317 244.5h1M305 233.5h1M319 246.5h1M314 248.5h1M317 226.5h1M314 229.5h1M320 236.5h1M322 232.5h1M311 239.5h1M303 242.5h1M325 236.5h1M328 245.5h1M323 235.5h1M319 247.5h1M304 226.5h1M310 229.5h1M319 235.5h1M315 230.5h1M312 230.5h1M314 230.5h1M321 246.5h1M315 239.5h1M324 225.5h1M312 246.5h1M304 234.5h1M307 244.5h1M332 243.5h1M310 227.5h1M317 237.5h1M324 232.5h1M315 245.5h1M322 233.5h1M328 231.5h1M315 236.5h1M304 238.5h1M310 224.5h1M318 250.5h1M324 235.5h1M310 239.5h1M312 248.5h1M322 237.5h1M333 234.5h1M317 228.5h1M305 234.5h1M308 244.5h1M321 228.5h1M324 230.5h1M309 227.5h1M316 224.5h1M304 233.5h1M310 234.5h1M307 226.5h1M309 243.5h1M325 233.5h1M307 232.5h1M331 236.5h1M312 226.5h1M308 243.5h1M330 238.5h1M305 238.5h1M308 248.5h1M326 227.5h1M327 233.5h1M304 235.5h1M324 244.5h1M318 245.5h1M307 245.5h1M326 245.5h1M327 238.5h1M317 241.5h1M325 239.5h1M323 238.5h1M328 232.5h1M324 239.5h1M316 246.5h1M325 246.5h1M320 230.5h1M321 240.5h1M313 247.5h1M326 239.5h1M321 234.5h1M307 238.5h1M325 241.5h1M315 244.5h1M304 242.5h1M305 229.5h1M321 230.5h1M303 238.5h1M307 228.5h1M306 245.5h1M322 239.5h1M314 247.5h1M310 230.5h1M329 240.5h1M307 230.5h1M314 244.5h1M321 233.5h1M316 247.5h1M321 231.5h1M305 244.5h1M318 232.5h1M319 227.5h1M332 241.5h1M327 243.5h1M332 238.5h1M327 234.5h1M321 243.5h1M312 249.5h1M319 249.5h1M327 232.5h1M325 244.5h1M322 248.5h1M325 232.5h1M321 224.5h1M321 235.5h1M305 242.5h1M334 239.5h1M324 236.5h1M322 228.5h1M312 223.5h1M309 244.5h1M323 250.5h1M322 254.5h1M306 258.5h1M305 256.5h1M306 251.5h1M321 251.5h1M307 257.5h1M324 250.5h1M322 249.5h1M308 259.5h1M322 257.5h1M312 260.5h1M310 248.5h1M305 249.5h1M313 255.5h1M322 253.5h1M325 249.5h1M308 252.5h1M318 252.5h1M314 255.5h1M310 254.5h1M312 256.5h1M315 259.5h1M313 254.5h1M322 247.5h1M311 259.5h1M312 255.5h1M311 256.5h1M304 256.5h1M318 247.5h1M318 258.5h1M304 248.5h1M313 256.5h1M315 249.5h1M311 245.5h1M310 260.5h1M323 257.5h1M307 247.5h1M315 252.5h1M311 253.5h1M304 259.5h1M312 250.5h1M327 244.5h1M310 256.5h1M316 260.5h1M317 252.5h1M325 252.5h1M309 252.5h1M314 250.5h1M313 249.5h1M305 247.5h1M305 253.5h1M309 254.5h1M315 246.5h1M325 258.5h1M324 252.5h1M314 253.5h1M307 255.5h1M321 254.5h1M320 257.5h1M309 256.5h1M322 252.5h1M309 250.5h1M308 249.5h1M326 252.5h1M323 251.5h1M306 254.5h1M307 248.5h1M304 260.5h1M312 254.5h1M314 260.5h1M321 244.5h1M322 251.5h1M321 258.5h1M327 249.5h1M305 257.5h1M321 260.5h1M320 253.5h1M310 244.5h1M308 254.5h1M317 256.5h1M327 256.5h1M324 246.5h1M316 254.5h1M314 254.5h1M325 254.5h1M313 259.5h1M306 252.5h1M322 256.5h1M313 253.5h1M322 259.5h1M312 257.5h1M320 259.5h1M320 256.5h1M317 257.5h1M327 259.5h1M310 259.5h1M324 258.5h1M316 252.5h1M308 246.5h1M319 255.5h1M312 259.5h1M305 259.5h1M327 250.5h1M326 246.5h1M308 256.5h1M306 244.5h1M304 254.5h1M315 248.5h1M321 252.5h1M323 247.5h1M327 253.5h1M313 252.5h1M325 257.5h1M326 247.5h1M308 251.5h1M308 257.5h1M316 257.5h1M310 247.5h1M321 253.5h1M327 255.5h1M321 255.5h1M325 260.5h1M305 252.5h1M325 259.5h1M315 254.5h1M323 248.5h1M327 254.5h1M318 254.5h1M310 252.5h1M320 254.5h1M319 257.5h1M321 250.5h1M319 253.5h1M327 248.5h1M326 257.5h1M317 251.5h1M304 245.5h1M320 247.5h1M325 247.5h1M324 259.5h1M313 260.5h1M312 258.5h1M311 260.5h1M318 249.5h1M306 259.5h1M327 245.5h1M327 247.5h1M320 260.5h1M321 257.5h1M306 255.5h1M313 257.5h1M323 254.5h1M319 245.5h1M315 257.5h1M304 249.5h1M326 249.5h1M319 258.5h1M309 246.5h1M324 256.5h1M326 256.5h1M323 245.5h1M305 258.5h1M308 250.5h1M304 250.5h1M314 258.5h1M326 250.5h1M311 258.5h1M305 255.5h1M316 256.5h1M327 257.5h1M322 246.5h1M338 221.5h1M333 219.5h1M340 212.5h1M336 228.5h1M331 230.5h1M345 214.5h1M328 237.5h1M347 209.5h1M326 225.5h1M339 222.5h1M347 213.5h1M335 223.5h1M344 215.5h1M334 219.5h1M343 220.5h1M329 228.5h1M332 232.5h1M324 227.5h1M340 220.5h1M349 216.5h1M336 221.5h1M335 222.5h1M341 216.5h1M341 221.5h1M333 222.5h1M347 216.5h1M347 212.5h1M334 223.5h1M333 224.5h1M337 218.5h1M323 228.5h1M345 213.5h1M324 233.5h1M348 219.5h1M341 223.5h1M329 227.5h1M350 212.5h1M334 222.5h1M327 241.5h1M328 226.5h1M332 223.5h1M350 215.5h1M341 211.5h1M335 217.5h1M328 218.5h1M334 220.5h1M336 223.5h1M346 218.5h1M346 213.5h1M329 224.5h1M333 225.5h1M339 212.5h1M335 224.5h1M336 225.5h1M334 228.5h1M347 214.5h1M328 229.5h1M346 217.5h1M325 230.5h1M335 228.5h1M334 225.5h1M325 229.5h1M338 224.5h1M339 216.5h1M342 218.5h1M331 221.5h1M338 226.5h1M345 208.5h1M346 214.5h1M325 234.5h1M327 228.5h1M336 217.5h1M339 221.5h1M328 228.5h1M334 231.5h1M331 233.5h1M344 219.5h1M326 234.5h1M334 226.5h1M341 218.5h1M345 216.5h1M335 218.5h1M338 223.5h1M327 235.5h1M337 220.5h1M340 214.5h1M335 229.5h1M337 221.5h1M339 220.5h1M333 218.5h1M340 217.5h1M330 227.5h1M336 222.5h1M324 229.5h1M330 229.5h1M337 223.5h1M328 219.5h1M351 219.5h1M343 215.5h1M341 215.5h1M348 218.5h1M338 219.5h1M345 222.5h1M329 223.5h1M334 229.5h1M335 221.5h1M344 218.5h1M337 227.5h1M331 227.5h1M348 210.5h1M326 236.5h1M337 212.5h1M343 217.5h1M341 217.5h1M343 213.5h1M331 228.5h1M340 223.5h1M327 226.5h1M330 223.5h1M332 227.5h1M330 230.5h1M326 230.5h1M345 218.5h1M324 224.5h1M332 234.5h1M335 219.5h1M339 215.5h1M333 220.5h1M339 225.5h1M322 234.5h1M347 224.5h1M329 230.5h1M340 218.5h1M336 224.5h1M346 216.5h1M341 214.5h1M331 220.5h1M344 213.5h1M346 209.5h1M343 216.5h1M329 231.5h1M344 216.5h1M329 226.5h1M329 229.5h1M335 220.5h1M337 224.5h1M322 227.5h1M340 216.5h1M351 212.5h1M338 227.5h1M338 214.5h1M348 215.5h1M336 215.5h1M349 212.5h1M354 217.5h1M343 218.5h1M331 223.5h1M322 223.5h1M342 212.5h1M329 222.5h1M348 214.5h1M328 235.5h1M327 229.5h1M327 224.5h1M332 226.5h1M343 219.5h1M341 222.5h1M330 233.5h1M340 215.5h1M328 236.5h1M319 230.5h1M331 225.5h1M318 229.5h1M332 220.5h1M323 229.5h1M330 231.5h1M332 224.5h1M332 225.5h1M345 217.5h1M339 211.5h1M335 215.5h1M331 229.5h1M335 226.5h1M333 227.5h1M335 233.5h1M323 225.5h1M329 225.5h1M337 219.5h1M326 229.5h1M328 224.5h1M342 228.5h1M346 215.5h1M348 212.5h1M335 235.5h1M351 213.5h1M348 216.5h1M332 230.5h1M334 224.5h1M328 234.5h1M340 222.5h1M346 212.5h1M333 228.5h1M338 218.5h1M340 225.5h1M330 228.5h1M341 226.5h1M323 230.5h1M352 215.5h1M332 229.5h1M342 221.5h1M344 217.5h1M341 212.5h1M320 233.5h1M326 221.5h1M344 211.5h1M339 217.5h1M347 215.5h1M328 225.5h1M336 219.5h1M328 227.5h1M330 222.5h1M332 237.5h1M343 212.5h1M345 215.5h1M325 225.5h1M335 230.5h1M340 211.5h1M346 219.5h1M330 236.5h1M326 232.5h1M333 231.5h1M337 213.5h1M333 226.5h1M339 214.5h1M345 209.5h1M334 227.5h1M331 226.5h1M340 219.5h1M338 222.5h1M337 222.5h1M349 214.5h1M341 219.5h1M348 222.5h1M332 221.5h1M349 215.5h1M321 239.5h1M336 220.5h1M318 226.5h1M337 226.5h1M352 217.5h1M326 237.5h1M351 211.5h1M341 220.5h1M330 225.5h1M336 216.5h1M349 211.5h1M333 221.5h1M342 216.5h1M340 221.5h1M339 224.5h1M320 232.5h1M328 241.5h1M334 230.5h1M344 208.5h1M344 214.5h1M342 223.5h1M350 217.5h1M335 225.5h1M331 224.5h1M326 231.5h1M322 229.5h1M345 212.5h1M333 213.5h1M352 219.5h1M333 232.5h1M348 209.5h1M342 222.5h1M335 227.5h1M330 232.5h1M348 211.5h1M342 213.5h1M329 220.5h1M344 209.5h1M331 232.5h1M333 229.5h1M342 214.5h1M344 221.5h1M342 220.5h1M352 216.5h1M339 218.5h1M332 222.5h1M329 238.5h1M337 216.5h1M346 210.5h1M346 211.5h1M345 211.5h1M327 236.5h1M338 216.5h1M346 208.5h1M334 234.5h1M353 216.5h1M350 214.5h1M344 222.5h1M342 219.5h1M347 208.5h1M323 233.5h1M328 239.5h1M347 210.5h1M342 215.5h1M339 223.5h1M323 227.5h1M338 215.5h1M343 208.5h1M344 205.5h1M341 213.5h1M337 215.5h1M336 213.5h1M343 211.5h1M328 240.5h1M347 211.5h1M325 227.5h1M351 215.5h1M348 213.5h1M346 223.5h1M336 227.5h1M340 207.5h1M338 225.5h1M330 224.5h1M346 220.5h1M338 217.5h1M327 239.5h1M331 217.5h1M333 230.5h1M338 220.5h1M325 228.5h1M334 232.5h1M335 216.5h1M328 222.5h1M329 234.5h1M328 223.5h1M338 213.5h1M323 224.5h1M342 226.5h1M349 221.5h1M334 221.5h1M343 210.5h1M326 226.5h1M343 221.5h1M346 224.5h1M342 224.5h1M344 210.5h1M331 216.5h1M349 213.5h1M340 224.5h1M327 221.5h1M343 214.5h1M342 209.5h1M330 221.5h1M335 232.5h1M324 242.5h1M336 226.5h1M339 213.5h1M349 219.5h1M347 220.5h1M326 224.5h1M343 209.5h1M344 212.5h1M328 221.5h1M345 210.5h1M342 217.5h1M329 233.5h1M340 206.5h1M325 226.5h1M334 218.5h1M317 219.5h1M314 227.5h1M321 226.5h1M319 221.5h1M318 210.5h1M308 217.5h1M307 216.5h1M325 219.5h1M311 226.5h1M311 229.5h1M320 217.5h1M305 231.5h1M325 223.5h1M320 216.5h1M305 208.5h1M311 213.5h1M309 226.5h1M322 226.5h1M304 216.5h1M320 227.5h1M307 212.5h1M318 220.5h1M311 220.5h1M307 223.5h1M306 221.5h1M315 223.5h1M311 222.5h1M309 224.5h1M321 222.5h1M315 227.5h1M313 215.5h1M307 224.5h1M305 218.5h1M311 218.5h1M323 217.5h1M316 209.5h1M319 222.5h1M317 218.5h1M315 218.5h1M306 231.5h1M319 229.5h1M311 221.5h1M309 221.5h1M304 221.5h1M306 224.5h1M322 208.5h1M309 219.5h1M318 219.5h1M314 226.5h1M317 211.5h1M310 219.5h1M307 215.5h1M309 215.5h1M306 209.5h1M314 214.5h1M310 225.5h1M318 212.5h1M325 213.5h1M319 218.5h1M304 224.5h1M321 219.5h1M314 209.5h1M318 224.5h1M308 231.5h1M323 222.5h1M325 220.5h1M304 220.5h1M324 212.5h1M314 218.5h1M310 212.5h1M316 213.5h1M314 213.5h1M324 215.5h1M315 220.5h1M311 210.5h1M308 223.5h1M320 211.5h1M305 219.5h1M316 226.5h1M322 211.5h1M311 219.5h1M325 217.5h1M320 220.5h1M317 221.5h1M317 223.5h1M310 215.5h1M305 228.5h1M323 221.5h1M315 224.5h1M315 219.5h1M306 210.5h1M314 215.5h1M323 215.5h1M315 211.5h1M305 220.5h1M312 214.5h1M308 218.5h1"/>
<path stroke="#404040" d="M316 223.5h1M305 219.5h1M324 227.5h1M318 229.5h1M314 214.5h1M323 226.5h1M304 220.5h1M305 229.5h1M309 231.5h1M322 228.5h1M323 227.5h1M318 218.5h1M321 220.5h1M307 228.5h1M323 214.5h1M319 208.5h1M320 226.5h1M307 208.5h1M321 211.5h1M312 226.5h1M309 230.5h1M323 228.5h1M313 210.5h1M314 231.5h1M317 227.5h1M305 231.5h1M308 223.5h1M324 221.5h1M316 207.5h1M319 227.5h1M315 229.5h1M314 229.5h1M315 213.5h1M304 217.5h1M310 212.5h1M313 231.5h1M320 215.5h1M304 230.5h1M312 213.5h1M322 215.5h1M305 206.5h1M304 231.5h1M324 222.5h1M315 224.5h1M337 206.5h1M324 218.5h1M330 228.5h1M328 222.5h1M333 213.5h1M341 224.5h1M328 227.5h1M345 219.5h1M350 213.5h1M344 212.5h1M340 217.5h1M332 228.5h1M340 216.5h1M324 232.5h1M315 228.5h1M334 219.5h1M324 235.5h1M342 224.5h1M337 204.5h1M322 231.5h1M328 235.5h1M342 210.5h1M350 217.5h1M338 221.5h1M335 223.5h1M345 229.5h1M319 234.5h1M325 234.5h1M327 230.5h1M331 208.5h1M321 233.5h1M335 214.5h1M324 224.5h1M345 221.5h1M329 222.5h1M335 222.5h1M327 231.5h1M348 210.5h1M334 218.5h1M336 233.5h1M342 220.5h1M345 217.5h1M328 226.5h1M326 238.5h1M321 231.5h1M335 211.5h1M340 221.5h1M333 235.5h1M341 216.5h1M339 229.5h1M325 233.5h1M334 222.5h1M338 214.5h1M333 216.5h1M347 208.5h1M317 233.5h1M337 222.5h1M322 227.5h1M344 221.5h1M340 223.5h1M327 236.5h1M325 229.5h1M324 241.5h1M323 239.5h1M333 227.5h1M346 211.5h1M343 222.5h1M334 224.5h1M328 231.5h1M328 220.5h1M324 238.5h1M317 236.5h1M338 226.5h1M334 221.5h1M344 220.5h1M319 231.5h1M326 240.5h1M324 239.5h1M316 228.5h1M341 210.5h1M347 209.5h1M336 220.5h1M334 229.5h1M347 223.5h1M335 228.5h1M325 236.5h1M341 222.5h1M331 225.5h1M326 232.5h1M328 221.5h1M347 215.5h1M327 238.5h1M338 213.5h1M310 253.5h1M322 252.5h1M317 254.5h1M305 253.5h1M304 250.5h1M318 254.5h1M316 260.5h1M305 251.5h1M310 251.5h1M308 252.5h1M321 260.5h1M314 258.5h1M310 250.5h1M312 252.5h1M316 251.5h1M322 253.5h1M315 255.5h1M323 252.5h1M306 260.5h1M310 255.5h1M317 251.5h1M323 250.5h1M308 256.5h1M307 253.5h1M322 256.5h1M309 256.5h1M312 253.5h1M316 252.5h1M312 254.5h1M313 254.5h1M306 251.5h1M311 252.5h1M325 253.5h1M323 253.5h1M326 257.5h1M310 252.5h1M313 250.5h1M326 256.5h1M318 252.5h1M312 251.5h1M310 257.5h1M305 257.5h1M321 255.5h1M324 258.5h1M315 259.5h1M320 250.5h1M321 254.5h1M325 258.5h1M320 251.5h1M325 257.5h1M319 253.5h1M310 259.5h1M304 256.5h1M323 258.5h1M319 260.5h1M309 257.5h1M313 257.5h1M305 255.5h1M309 250.5h1M315 253.5h1M325 256.5h1M307 250.5h1M306 253.5h1M324 252.5h1M307 254.5h1M319 255.5h1M317 256.5h1M306 250.5h1M321 252.5h1M315 257.5h1M333 252.5h1M331 255.5h1M330 260.5h1M335 256.5h1M335 254.5h1M335 255.5h1M328 249.5h1M334 242.5h1M332 245.5h1M339 243.5h1M335 248.5h1"/>
<path stroke="#000" d="M448 247.5h1M446 247.5h1M428 257.5h1M439 255.5h1M451 242.5h1M449 247.5h1M440 242.5h1M439 242.5h1M443 251.5h1M429 253.5h1M434 245.5h1M446 245.5h1M436 260.5h1M444 244.5h1M446 257.5h1M430 248.5h1M432 254.5h1M446 250.5h1M442 255.5h1M449 253.5h1M428 240.5h1M450 241.5h1M429 255.5h1M438 246.5h1M431 260.5h1M445 245.5h1M430 252.5h1M443 244.5h1M433 244.5h1M437 250.5h1M438 254.5h1M439 256.5h1M443 257.5h1M435 241.5h1M444 248.5h1M451 260.5h1M431 240.5h1M435 257.5h1M429 251.5h1M449 249.5h1M441 256.5h1M430 258.5h1M436 255.5h1M434 259.5h1M450 254.5h1M440 244.5h1M443 259.5h1M442 244.5h1M449 260.5h1M428 259.5h1M439 248.5h1M434 255.5h1M440 259.5h1M429 239.5h1M446 238.5h1M437 246.5h1M450 251.5h1M443 254.5h1M433 258.5h1M450 259.5h1M438 240.5h1M440 260.5h1M438 239.5h1M445 239.5h1M445 252.5h1M439 260.5h1M446 249.5h1M433 246.5h1M443 239.5h1M441 259.5h1M435 242.5h1M436 247.5h1M431 251.5h1M443 256.5h1M430 244.5h1M439 240.5h1M444 243.5h1M443 241.5h1M440 248.5h1M445 249.5h1M440 252.5h1M441 247.5h1M428 242.5h1M434 256.5h1M431 244.5h1M430 249.5h1M431 252.5h1M430 239.5h1M441 246.5h1M436 249.5h1M445 254.5h1M437 252.5h1M436 241.5h1M445 238.5h1M445 259.5h1M447 247.5h1M429 260.5h1M439 239.5h1M451 248.5h1M448 251.5h1M430 254.5h1M446 253.5h1M433 251.5h1M450 256.5h1M439 254.5h1M448 246.5h1M448 240.5h1M432 253.5h1M445 242.5h1M446 251.5h1M434 241.5h1M436 242.5h1M430 253.5h1M447 255.5h1M436 258.5h1M442 245.5h1M441 253.5h1M435 260.5h1M431 241.5h1M431 256.5h1M451 239.5h1M449 244.5h1M450 253.5h1M449 242.5h1M440 245.5h1M441 245.5h1M451 252.5h1M436 252.5h1M438 247.5h1M447 240.5h1M439 253.5h1M444 258.5h1M429 241.5h1M444 255.5h1M435 249.5h1M449 257.5h1M435 253.5h1M447 248.5h1M434 244.5h1M447 260.5h1M439 246.5h1M451 246.5h1M451 253.5h1M433 247.5h1M439 259.5h1M441 239.5h1M441 251.5h1M440 250.5h1M450 239.5h1M429 246.5h1M434 258.5h1M433 255.5h1M439 257.5h1M428 251.5h1M432 252.5h1M435 240.5h1M437 239.5h1M433 243.5h1M433 256.5h1M437 248.5h1M437 260.5h1M434 260.5h1M434 242.5h1M439 249.5h1M433 238.5h1M434 253.5h1M447 252.5h1M445 253.5h1M439 258.5h1M442 251.5h1M430 250.5h1M439 243.5h1M442 260.5h1M437 256.5h1M433 245.5h1M430 251.5h1M451 254.5h1M428 250.5h1M450 257.5h1M431 242.5h1M447 250.5h1M446 256.5h1M441 240.5h1M430 243.5h1M441 257.5h1M447 258.5h1M438 250.5h1M435 250.5h1M429 245.5h1M443 242.5h1M443 249.5h1M448 257.5h1M441 243.5h1M450 242.5h1M431 248.5h1M438 256.5h1M449 250.5h1M443 253.5h1M450 240.5h1M451 256.5h1M429 240.5h1M451 245.5h1M442 258.5h1M430 255.5h1M442 248.5h1M429 244.5h1M444 247.5h1M445 250.5h1M446 255.5h1M430 256.5h1M432 246.5h1M440 257.5h1M440 238.5h1M431 258.5h1M439 247.5h1M448 253.5h1M448 244.5h1M443 247.5h1M434 251.5h1M429 243.5h1M450 252.5h1M443 240.5h1M446 241.5h1M444 240.5h1M449 243.5h1M428 239.5h1M438 258.5h1M437 241.5h1M431 246.5h1M446 239.5h1M436 250.5h1M442 252.5h1M444 254.5h1M432 260.5h1M430 245.5h1M444 250.5h1M446 260.5h1M434 257.5h1M451 251.5h1M451 241.5h1M449 255.5h1M444 249.5h1M435 254.5h1M447 238.5h1M428 249.5h1M437 238.5h1M437 255.5h1M442 240.5h1M444 252.5h1M440 243.5h1M441 255.5h1M448 255.5h1M439 251.5h1M435 259.5h1M437 251.5h1M445 257.5h1M428 258.5h1M434 254.5h1M445 241.5h1M428 252.5h1M430 260.5h1M432 244.5h1M437 245.5h1M444 239.5h1M428 254.5h1M446 242.5h1M438 257.5h1M435 246.5h1M442 259.5h1M432 245.5h1M432 258.5h1M450 247.5h1M431 247.5h1M435 258.5h1M444 238.5h1M432 247.5h1M435 244.5h1M438 242.5h1M449 252.5h1M432 241.5h1M447 245.5h1M442 243.5h1M443 243.5h1M438 248.5h1M428 256.5h1M431 249.5h1M446 258.5h1M451 238.5h1M432 248.5h1M448 245.5h1M436 248.5h1M442 238.5h1M436 256.5h1M436 257.5h1M428 247.5h1M437 242.5h1M434 243.5h1M440 255.5h1M441 249.5h1M432 257.5h1M438 241.5h1M438 255.5h1M446 252.5h1M433 254.5h1M442 250.5h1M448 254.5h1M444 256.5h1M449 245.5h1M449 248.5h1M446 244.5h1M448 243.5h1M446 259.5h1M436 253.5h1M443 248.5h1M438 238.5h1M440 239.5h1M435 239.5h1M429 238.5h1M437 240.5h1M438 253.5h1M429 252.5h1M440 249.5h1M440 254.5h1M443 246.5h1M443 255.5h1M448 250.5h1M438 249.5h1M432 250.5h1M445 247.5h1M442 246.5h1M433 250.5h1M442 257.5h1M447 243.5h1M432 256.5h1M434 249.5h1M440 253.5h1M431 254.5h1M429 247.5h1M440 251.5h1M440 241.5h1M431 259.5h1M435 252.5h1M438 251.5h1M445 255.5h1M445 246.5h1M433 249.5h1M448 258.5h1M437 247.5h1M443 250.5h1M451 249.5h1M438 243.5h1M441 235.5h1M430 259.5h1M442 247.5h1M434 246.5h1M442 256.5h1M449 240.5h1M433 253.5h1M436 251.5h1M434 248.5h1M435 247.5h1M437 253.5h1M448 252.5h1M447 259.5h1M447 244.5h1M441 254.5h1M435 251.5h1M429 249.5h1M446 246.5h1M445 251.5h1M443 252.5h1M447 241.5h1M449 258.5h1M444 253.5h1M444 246.5h1M439 252.5h1M438 237.5h1M445 244.5h1M431 243.5h1M441 244.5h1M437 234.5h1M445 256.5h1M446 254.5h1M447 239.5h1M444 245.5h1M441 252.5h1M447 249.5h1M437 254.5h1M433 248.5h1M436 237.5h1M443 245.5h1M440 247.5h1M435 243.5h1M450 250.5h1M452 251.5h1M440 258.5h1M434 252.5h1M441 241.5h1M442 253.5h1M432 238.5h1M437 244.5h1M448 242.5h1M432 255.5h1M438 245.5h1M449 251.5h1M442 249.5h1M432 249.5h1M433 252.5h1M446 248.5h1M441 242.5h1M434 250.5h1M441 248.5h1M447 253.5h1M437 249.5h1M451 247.5h1M433 234.5h1M430 247.5h1M439 234.5h1M439 245.5h1M439 241.5h1M442 254.5h1M439 250.5h1M436 245.5h1M433 242.5h1M431 245.5h1M442 242.5h1M438 252.5h1M448 256.5h1M443 237.5h1M442 241.5h1M436 240.5h1M431 255.5h1M435 245.5h1M440 246.5h1M453 241.5h1M436 244.5h1M439 238.5h1M431 238.5h1M450 248.5h1M433 259.5h1M439 244.5h1M435 255.5h1M446 236.5h1M433 240.5h1M441 250.5h1M435 248.5h1M437 259.5h1M448 248.5h1M434 247.5h1M445 240.5h1M429 254.5h1M434 239.5h1M436 254.5h1M436 243.5h1M428 253.5h1M447 251.5h1M437 237.5h1M447 242.5h1M454 245.5h1M434 238.5h1M445 248.5h1M436 246.5h1M452 246.5h1M445 258.5h1M437 257.5h1M427 241.5h1M432 259.5h1M429 248.5h1M450 249.5h1M444 251.5h1M440 240.5h1M454 247.5h1M432 251.5h1M445 243.5h1M429 259.5h1M450 258.5h1M451 243.5h1M440 256.5h1M438 259.5h1M444 257.5h1M432 242.5h1M437 258.5h1"/>
<path stroke="#404040" d="M440 254.5h1M446 254.5h1M449 258.5h1M436 254.5h1M429 257.5h1M431 244.5h1M444 238.5h1M440 257.5h1M441 253.5h1M443 242.5h1M438 249.5h1M437 245.5h1M449 255.5h1M437 252.5h1M446 245.5h1M445 257.5h1M437 257.5h1M438 241.5h1M451 245.5h1M435 255.5h1M452 249.5h1M446 248.5h1M444 252.5h1M436 251.5h1M447 241.5h1M429 253.5h1M444 244.5h1M443 257.5h1M449 254.5h1M433 251.5h1M435 239.5h1M431 255.5h1M435 240.5h1M441 251.5h1M448 249.5h1M429 250.5h1M434 254.5h1M444 246.5h1M433 255.5h1M451 247.5h1M437 259.5h1M430 239.5h1M440 250.5h1M449 240.5h1M446 244.5h1M441 258.5h1M449 248.5h1M443 254.5h1M435 238.5h1M440 239.5h1M435 260.5h1M445 241.5h1M443 245.5h1M434 260.5h1M439 256.5h1M448 247.5h1M428 243.5h1M440 248.5h1M431 260.5h1M430 259.5h1M442 251.5h1M430 255.5h1M428 258.5h1M435 242.5h1M449 245.5h1M433 250.5h1M439 243.5h1M433 245.5h1M447 253.5h1M445 260.5h1M440 247.5h1M440 206.5h1M444 223.5h1M437 216.5h1M444 224.5h1M439 227.5h1M454 228.5h1M428 218.5h1M435 218.5h1M446 225.5h1M447 236.5h1M457 223.5h1M442 224.5h1M433 213.5h1M448 210.5h1M447 215.5h1M439 205.5h1M449 206.5h1M450 218.5h1M428 213.5h1M438 219.5h1M442 217.5h1M451 233.5h1M445 227.5h1M451 216.5h1M433 217.5h1M452 225.5h1M437 218.5h1M440 221.5h1M444 210.5h1M438 216.5h1M438 220.5h1M449 221.5h1M449 223.5h1M450 229.5h1M459 225.5h1M441 223.5h1M453 234.5h1M441 216.5h1M445 228.5h1M447 238.5h1M442 238.5h1M433 230.5h1M442 219.5h1M440 210.5h1M452 220.5h1M445 219.5h1M449 224.5h1M444 228.5h1M458 228.5h1M428 215.5h1M439 231.5h1M437 217.5h1M448 220.5h1M440 211.5h1M442 228.5h1M455 231.5h1M453 225.5h1M445 224.5h1M438 225.5h1M444 225.5h1M442 223.5h1M432 221.5h1M454 223.5h1M448 219.5h1M451 224.5h1M445 223.5h1M435 213.5h1M435 200.5h1M454 227.5h1M428 206.5h1M432 206.5h1M451 199.5h1M442 232.5h1M444 229.5h1M453 199.5h1M432 204.5h1M428 225.5h1M445 233.5h1M443 217.5h1M441 207.5h1M444 201.5h1M434 231.5h1M430 222.5h1M444 216.5h1M445 221.5h1M465 221.5h1M462 222.5h1M463 219.5h1M475 214.5h1M454 230.5h1M457 228.5h1M461 226.5h1M474 209.5h1M453 227.5h1M460 222.5h1M467 222.5h1M465 219.5h1M455 224.5h1M457 227.5h1M473 210.5h1M475 211.5h1M464 224.5h1M461 228.5h1M469 213.5h1M467 217.5h1M473 212.5h1M459 222.5h1M460 224.5h1M459 228.5h1M462 224.5h1M477 208.5h1M457 229.5h1M476 210.5h1M466 221.5h1M465 218.5h1M475 210.5h1M461 227.5h1M470 215.5h1M461 230.5h1M468 218.5h1M458 220.5h1M477 210.5h1M465 222.5h1M470 213.5h1M470 214.5h1M467 216.5h1M462 221.5h1M468 219.5h1M458 225.5h1M468 220.5h1M462 226.5h1M474 211.5h1M473 217.5h1M473 213.5h1M461 222.5h1M477 211.5h1M459 230.5h1M460 225.5h1M470 209.5h1M472 211.5h1M458 226.5h1M476 208.5h1M457 224.5h1M460 223.5h1M467 221.5h1M476 211.5h1M459 227.5h1M458 223.5h1M467 214.5h1M461 220.5h1M463 224.5h1M467 215.5h1M468 222.5h1M461 224.5h1M466 223.5h1M467 220.5h1M464 221.5h1M471 213.5h1M472 214.5h1M470 219.5h1M470 211.5h1M459 223.5h1M471 215.5h1M460 221.5h1M479 211.5h1M461 221.5h1M464 222.5h1M469 216.5h1M470 217.5h1M476 212.5h1M456 229.5h1M468 211.5h1M474 213.5h1M464 218.5h1M474 212.5h1M461 223.5h1M455 230.5h1M466 222.5h1M464 223.5h1M466 219.5h1M463 222.5h1M472 206.5h1M473 211.5h1M474 210.5h1M469 214.5h1M472 216.5h1M456 230.5h1M459 226.5h1M485 257.5h1M480 240.5h1M460 242.5h1M496 244.5h1M472 255.5h1M493 249.5h1M479 252.5h1M484 238.5h1M472 247.5h1"/>
</g>
<g stroke="#000" fill="none" stroke-width="1.4">
<rect x="32" y="23" width="89.6" height="77.3"/>
<path stroke-width="1.2" d="M61.7 23V100.3M32 80.7H121.6"/>
<rect x="154.9" y="23" width="89.7" height="76.3"/>
<path stroke-width="1.2" d="M184.5 23V99.3M154.9 80.3H244.6"/>
<rect x="306.7" y="23" width="87.2" height="77.2"/>
<path stroke-width="1.2" d="M341.7 23V100.2M306.7 81.1H393.9"/>
<rect x="424" y="22.9" width="88" height="76.6"/>
<path stroke-width="1.2" d="M459.4 22.9V99.5M424 80.2H512"/>
<rect x="31.9" y="182.9" width="91" height="78.4"/>
<path stroke-width="1.2" d="M60.5 182.9V261.3M31.9 242.2H122.9"/>
<rect x="155.7" y="182.9" width="88.6" height="78.6"/>
<path stroke-width="1.2" d="M186.5 182.9V261.5M155.7 241.3H244.3"/>
<rect x="303.3" y="184.8" width="90.1" height="77.4"/>
<path stroke-width="1.2" d="M327.4 184.8V262.2M303.3 237.5H393.4"/>
<rect x="426.8" y="184.4" width="88.8" height="78"/>
<path stroke-width="1.2" d="M455.4 184.4V262.4M426.8 236.8H515.6"/>
</g>
<g stroke="#000" fill="none" stroke-width="1.0">
<path d="M32.0 100.3v3.2M32.0 100.3h-3.2M38.7 100.3v2.1M32.0 94.5h-2.1M42.7 100.3v2.1M32.0 91.1h-2.1M45.5 100.3v2.1M32.0 88.7h-2.1M47.7 100.3v2.1M32.0 86.8h-2.1M49.4 100.3v2.1M32.0 85.3h-2.1M50.9 100.3v2.1M32.0 84.0h-2.1M52.2 100.3v2.1M32.0 82.8h-2.1M53.4 100.3v2.1M32.0 81.9h-2.1M54.4 100.3v3.2M32.0 81.0h-3.2M61.1 100.3v2.1M32.0 75.2h-2.1M65.1 100.3v2.1M32.0 71.8h-2.1M67.9 100.3v2.1M32.0 69.3h-2.1M70.1 100.3v2.1M32.0 67.5h-2.1M71.8 100.3v2.1M32.0 65.9h-2.1M73.3 100.3v2.1M32.0 64.6h-2.1M74.6 100.3v2.1M32.0 63.5h-2.1M75.8 100.3v2.1M32.0 62.5h-2.1M76.8 100.3v3.2M32.0 61.6h-3.2M83.5 100.3v2.1M32.0 55.8h-2.1M87.5 100.3v2.1M32.0 52.4h-2.1M90.3 100.3v2.1M32.0 50.0h-2.1M92.5 100.3v2.1M32.0 48.1h-2.1M94.2 100.3v2.1M32.0 46.6h-2.1M95.7 100.3v2.1M32.0 45.3h-2.1M97.0 100.3v2.1M32.0 44.2h-2.1M98.2 100.3v2.1M32.0 43.2h-2.1M99.2 100.3v3.2M32.0 42.3h-3.2M105.9 100.3v2.1M32.0 36.5h-2.1M109.9 100.3v2.1M32.0 33.1h-2.1M112.7 100.3v2.1M32.0 30.7h-2.1M114.9 100.3v2.1M32.0 28.8h-2.1M116.6 100.3v2.1M32.0 27.3h-2.1M118.1 100.3v2.1M32.0 26.0h-2.1M119.4 100.3v2.1M32.0 24.9h-2.1M120.6 100.3v2.1M32.0 23.9h-2.1M121.6 100.3v3M32.0 23.0h-3"/>
<path d="M154.9 99.3v3.2M154.9 99.3h-3.2M161.7 99.3v2.1M154.9 93.6h-2.1M165.6 99.3v2.1M154.9 90.2h-2.1M168.4 99.3v2.1M154.9 87.8h-2.1M170.6 99.3v2.1M154.9 86.0h-2.1M172.4 99.3v2.1M154.9 84.5h-2.1M173.9 99.3v2.1M154.9 83.2h-2.1M175.2 99.3v2.1M154.9 82.1h-2.1M176.3 99.3v2.1M154.9 81.1h-2.1M177.3 99.3v3.2M154.9 80.2h-3.2M184.1 99.3v2.1M154.9 74.5h-2.1M188.0 99.3v2.1M154.9 71.1h-2.1M190.8 99.3v2.1M154.9 68.7h-2.1M193.0 99.3v2.1M154.9 66.9h-2.1M194.8 99.3v2.1M154.9 65.4h-2.1M196.3 99.3v2.1M154.9 64.1h-2.1M197.6 99.3v2.1M154.9 63.0h-2.1M198.7 99.3v2.1M154.9 62.0h-2.1M199.8 99.3v3.2M154.9 61.1h-3.2M206.5 99.3v2.1M154.9 55.4h-2.1M210.4 99.3v2.1M154.9 52.0h-2.1M213.3 99.3v2.1M154.9 49.7h-2.1M215.4 99.3v2.1M154.9 47.8h-2.1M217.2 99.3v2.1M154.9 46.3h-2.1M218.7 99.3v2.1M154.9 45.0h-2.1M220.0 99.3v2.1M154.9 43.9h-2.1M221.1 99.3v2.1M154.9 42.9h-2.1M222.2 99.3v3.2M154.9 42.1h-3.2M228.9 99.3v2.1M154.9 36.3h-2.1M232.9 99.3v2.1M154.9 33.0h-2.1M235.7 99.3v2.1M154.9 30.6h-2.1M237.8 99.3v2.1M154.9 28.7h-2.1M239.6 99.3v2.1M154.9 27.2h-2.1M241.1 99.3v2.1M154.9 26.0h-2.1M242.4 99.3v2.1M154.9 24.8h-2.1M243.6 99.3v2.1M154.9 23.9h-2.1M244.6 99.3v3M154.9 23.0h-3"/>
<path d="M306.7 100.2v3.2M306.7 100.2h-3.2M313.3 100.2v2.1M306.7 94.4h-2.1M317.1 100.2v2.1M306.7 91.0h-2.1M319.8 100.2v2.1M306.7 88.6h-2.1M321.9 100.2v2.1M306.7 86.7h-2.1M323.7 100.2v2.1M306.7 85.2h-2.1M325.1 100.2v2.1M306.7 83.9h-2.1M326.4 100.2v2.1M306.7 82.8h-2.1M327.5 100.2v2.1M306.7 81.8h-2.1M328.5 100.2v3.2M306.7 80.9h-3.2M335.1 100.2v2.1M306.7 75.1h-2.1M338.9 100.2v2.1M306.7 71.7h-2.1M341.6 100.2v2.1M306.7 69.3h-2.1M343.7 100.2v2.1M306.7 67.4h-2.1M345.5 100.2v2.1M306.7 65.9h-2.1M346.9 100.2v2.1M306.7 64.6h-2.1M348.2 100.2v2.1M306.7 63.5h-2.1M349.3 100.2v2.1M306.7 62.5h-2.1M350.3 100.2v3.2M306.7 61.6h-3.2M356.9 100.2v2.1M306.7 55.8h-2.1M360.7 100.2v2.1M306.7 52.4h-2.1M363.4 100.2v2.1M306.7 50.0h-2.1M365.5 100.2v2.1M306.7 48.1h-2.1M367.3 100.2v2.1M306.7 46.6h-2.1M368.7 100.2v2.1M306.7 45.3h-2.1M370.0 100.2v2.1M306.7 44.2h-2.1M371.1 100.2v2.1M306.7 43.2h-2.1M372.1 100.2v3.2M306.7 42.3h-3.2M378.7 100.2v2.1M306.7 36.5h-2.1M382.5 100.2v2.1M306.7 33.1h-2.1M385.2 100.2v2.1M306.7 30.7h-2.1M387.3 100.2v2.1M306.7 28.8h-2.1M389.1 100.2v2.1M306.7 27.3h-2.1M390.5 100.2v2.1M306.7 26.0h-2.1M391.8 100.2v2.1M306.7 24.9h-2.1M392.9 100.2v2.1M306.7 23.9h-2.1M393.9 100.2v3M306.7 23.0h-3"/>
<path d="M424.0 99.5v3.2M424.0 99.5h-3.2M430.6 99.5v2.1M424.0 93.7h-2.1M434.5 99.5v2.1M424.0 90.4h-2.1M437.2 99.5v2.1M424.0 88.0h-2.1M439.4 99.5v2.1M424.0 86.1h-2.1M441.1 99.5v2.1M424.0 84.6h-2.1M442.6 99.5v2.1M424.0 83.3h-2.1M443.9 99.5v2.1M424.0 82.2h-2.1M445.0 99.5v2.1M424.0 81.2h-2.1M446.0 99.5v3.2M424.0 80.3h-3.2M452.6 99.5v2.1M424.0 74.6h-2.1M456.5 99.5v2.1M424.0 71.2h-2.1M459.2 99.5v2.1M424.0 68.8h-2.1M461.4 99.5v2.1M424.0 67.0h-2.1M463.1 99.5v2.1M424.0 65.4h-2.1M464.6 99.5v2.1M424.0 64.2h-2.1M465.9 99.5v2.1M424.0 63.1h-2.1M467.0 99.5v2.1M424.0 62.1h-2.1M468.0 99.5v3.2M424.0 61.2h-3.2M474.6 99.5v2.1M424.0 55.4h-2.1M478.5 99.5v2.1M424.0 52.1h-2.1M481.2 99.5v2.1M424.0 49.7h-2.1M483.4 99.5v2.1M424.0 47.8h-2.1M485.1 99.5v2.1M424.0 46.3h-2.1M486.6 99.5v2.1M424.0 45.0h-2.1M487.9 99.5v2.1M424.0 43.9h-2.1M489.0 99.5v2.1M424.0 42.9h-2.1M490.0 99.5v3.2M424.0 42.1h-3.2M496.6 99.5v2.1M424.0 36.3h-2.1M500.5 99.5v2.1M424.0 32.9h-2.1M503.2 99.5v2.1M424.0 30.5h-2.1M505.4 99.5v2.1M424.0 28.7h-2.1M507.1 99.5v2.1M424.0 27.1h-2.1M508.6 99.5v2.1M424.0 25.9h-2.1M509.9 99.5v2.1M424.0 24.8h-2.1M511.0 99.5v2.1M424.0 23.8h-2.1M512.0 99.5v3M424.0 22.9h-3"/>
<path d="M31.9 261.3v3.2M31.9 261.3h-3.2M38.7 261.3v2.1M31.9 255.4h-2.1M42.8 261.3v2.1M31.9 251.9h-2.1M45.6 261.3v2.1M31.9 249.5h-2.1M47.8 261.3v2.1M31.9 247.6h-2.1M49.6 261.3v2.1M31.9 246.0h-2.1M51.1 261.3v2.1M31.9 244.7h-2.1M52.4 261.3v2.1M31.9 243.6h-2.1M53.6 261.3v2.1M31.9 242.6h-2.1M54.6 261.3v3.2M31.9 241.7h-3.2M61.5 261.3v2.1M31.9 235.8h-2.1M65.5 261.3v2.1M31.9 232.3h-2.1M68.3 261.3v2.1M31.9 229.9h-2.1M70.6 261.3v2.1M31.9 228.0h-2.1M72.4 261.3v2.1M31.9 226.4h-2.1M73.9 261.3v2.1M31.9 225.1h-2.1M75.2 261.3v2.1M31.9 224.0h-2.1M76.4 261.3v2.1M31.9 223.0h-2.1M77.4 261.3v3.2M31.9 222.1h-3.2M84.2 261.3v2.1M31.9 216.2h-2.1M88.3 261.3v2.1M31.9 212.7h-2.1M91.1 261.3v2.1M31.9 210.3h-2.1M93.3 261.3v2.1M31.9 208.4h-2.1M95.1 261.3v2.1M31.9 206.8h-2.1M96.6 261.3v2.1M31.9 205.5h-2.1M97.9 261.3v2.1M31.9 204.4h-2.1M99.1 261.3v2.1M31.9 203.4h-2.1M100.2 261.3v3.2M31.9 202.5h-3.2M107.0 261.3v2.1M31.9 196.6h-2.1M111.0 261.3v2.1M31.9 193.1h-2.1M113.8 261.3v2.1M31.9 190.7h-2.1M116.1 261.3v2.1M31.9 188.8h-2.1M117.9 261.3v2.1M31.9 187.2h-2.1M119.4 261.3v2.1M31.9 185.9h-2.1M120.7 261.3v2.1M31.9 184.8h-2.1M121.9 261.3v2.1M31.9 183.8h-2.1M122.9 261.3v3M31.9 182.9h-3"/>
<path d="M155.7 261.5v3.2M155.7 261.5h-3.2M162.4 261.5v2.1M155.7 255.6h-2.1M166.3 261.5v2.1M155.7 252.1h-2.1M169.0 261.5v2.1M155.7 249.7h-2.1M171.2 261.5v2.1M155.7 247.8h-2.1M172.9 261.5v2.1M155.7 246.2h-2.1M174.4 261.5v2.1M155.7 244.9h-2.1M175.7 261.5v2.1M155.7 243.8h-2.1M176.8 261.5v2.1M155.7 242.7h-2.1M177.8 261.5v3.2M155.7 241.8h-3.2M184.5 261.5v2.1M155.7 235.9h-2.1M188.4 261.5v2.1M155.7 232.5h-2.1M191.2 261.5v2.1M155.7 230.0h-2.1M193.3 261.5v2.1M155.7 228.1h-2.1M195.1 261.5v2.1M155.7 226.6h-2.1M196.6 261.5v2.1M155.7 225.2h-2.1M197.9 261.5v2.1M155.7 224.1h-2.1M199.0 261.5v2.1M155.7 223.1h-2.1M200.0 261.5v3.2M155.7 222.2h-3.2M206.7 261.5v2.1M155.7 216.3h-2.1M210.6 261.5v2.1M155.7 212.8h-2.1M213.3 261.5v2.1M155.7 210.4h-2.1M215.5 261.5v2.1M155.7 208.5h-2.1M217.2 261.5v2.1M155.7 206.9h-2.1M218.7 261.5v2.1M155.7 205.6h-2.1M220.0 261.5v2.1M155.7 204.5h-2.1M221.1 261.5v2.1M155.7 203.4h-2.1M222.2 261.5v3.2M155.7 202.6h-3.2M228.8 261.5v2.1M155.7 196.6h-2.1M232.7 261.5v2.1M155.7 193.2h-2.1M235.5 261.5v2.1M155.7 190.7h-2.1M237.6 261.5v2.1M155.7 188.8h-2.1M239.4 261.5v2.1M155.7 187.3h-2.1M240.9 261.5v2.1M155.7 185.9h-2.1M242.2 261.5v2.1M155.7 184.8h-2.1M243.3 261.5v2.1M155.7 183.8h-2.1M244.3 261.5v3M155.7 182.9h-3"/>
<path d="M303.3 262.2v3.2M303.3 262.2h-3.2M310.1 262.2v2.1M303.3 256.4h-2.1M314.0 262.2v2.1M303.3 253.0h-2.1M316.9 262.2v2.1M303.3 250.6h-2.1M319.0 262.2v2.1M303.3 248.7h-2.1M320.8 262.2v2.1M303.3 247.1h-2.1M322.3 262.2v2.1M303.3 245.8h-2.1M323.6 262.2v2.1M303.3 244.7h-2.1M324.8 262.2v2.1M303.3 243.7h-2.1M325.8 262.2v3.2M303.3 242.8h-3.2M332.6 262.2v2.1M303.3 237.0h-2.1M336.6 262.2v2.1M303.3 233.6h-2.1M339.4 262.2v2.1M303.3 231.2h-2.1M341.6 262.2v2.1M303.3 229.3h-2.1M343.4 262.2v2.1M303.3 227.8h-2.1M344.9 262.2v2.1M303.3 226.5h-2.1M346.2 262.2v2.1M303.3 225.4h-2.1M347.3 262.2v2.1M303.3 224.4h-2.1M348.4 262.2v3.2M303.3 223.5h-3.2M355.1 262.2v2.1M303.3 217.7h-2.1M359.1 262.2v2.1M303.3 214.3h-2.1M361.9 262.2v2.1M303.3 211.9h-2.1M364.1 262.2v2.1M303.3 210.0h-2.1M365.9 262.2v2.1M303.3 208.4h-2.1M367.4 262.2v2.1M303.3 207.1h-2.1M368.7 262.2v2.1M303.3 206.0h-2.1M369.8 262.2v2.1M303.3 205.0h-2.1M370.9 262.2v3.2M303.3 204.2h-3.2M377.7 262.2v2.1M303.3 198.3h-2.1M381.6 262.2v2.1M303.3 194.9h-2.1M384.4 262.2v2.1M303.3 192.5h-2.1M386.6 262.2v2.1M303.3 190.6h-2.1M388.4 262.2v2.1M303.3 189.1h-2.1M389.9 262.2v2.1M303.3 187.8h-2.1M391.2 262.2v2.1M303.3 186.7h-2.1M392.4 262.2v2.1M303.3 185.7h-2.1M393.4 262.2v3M303.3 184.8h-3"/>
<path d="M426.8 262.4v3.2M426.8 262.4h-3.2M433.5 262.4v2.1M426.8 256.5h-2.1M437.4 262.4v2.1M426.8 253.1h-2.1M440.2 262.4v2.1M426.8 250.7h-2.1M442.3 262.4v2.1M426.8 248.8h-2.1M444.1 262.4v2.1M426.8 247.2h-2.1M445.6 262.4v2.1M426.8 245.9h-2.1M446.8 262.4v2.1M426.8 244.8h-2.1M448.0 262.4v2.1M426.8 243.8h-2.1M449.0 262.4v3.2M426.8 242.9h-3.2M455.7 262.4v2.1M426.8 237.0h-2.1M459.6 262.4v2.1M426.8 233.6h-2.1M462.4 262.4v2.1M426.8 231.2h-2.1M464.5 262.4v2.1M426.8 229.3h-2.1M466.3 262.4v2.1M426.8 227.7h-2.1M467.8 262.4v2.1M426.8 226.4h-2.1M469.0 262.4v2.1M426.8 225.3h-2.1M470.2 262.4v2.1M426.8 224.3h-2.1M471.2 262.4v3.2M426.8 223.4h-3.2M477.9 262.4v2.1M426.8 217.5h-2.1M481.8 262.4v2.1M426.8 214.1h-2.1M484.6 262.4v2.1M426.8 211.7h-2.1M486.7 262.4v2.1M426.8 209.8h-2.1M488.5 262.4v2.1M426.8 208.2h-2.1M490.0 262.4v2.1M426.8 206.9h-2.1M491.2 262.4v2.1M426.8 205.8h-2.1M492.4 262.4v2.1M426.8 204.8h-2.1M493.4 262.4v3.2M426.8 203.9h-3.2M500.1 262.4v2.1M426.8 198.0h-2.1M504.0 262.4v2.1M426.8 194.6h-2.1M506.8 262.4v2.1M426.8 192.2h-2.1M508.9 262.4v2.1M426.8 190.3h-2.1M510.7 262.4v2.1M426.8 188.7h-2.1M512.2 262.4v2.1M426.8 187.4h-2.1M513.4 262.4v2.1M426.8 186.3h-2.1M514.6 262.4v2.1M426.8 185.3h-2.1M515.6 262.4v3M426.8 184.4h-3"/>
</g>
<g font-family='"Liberation Sans", sans-serif' fill="#333">
<text x="29.0" y="111.3" font-size="7">10<tspan font-size="5" dy="-2.8">0</tspan></text>
<text x="17.4" y="25.8" font-size="7">10<tspan font-size="5" dy="-2.8">4</tspan></text>
<text x="50.4" y="111.3" font-size="7">10<tspan font-size="5" dy="-2.8">1</tspan></text>
<text x="17.4" y="44.6" font-size="7">10<tspan font-size="5" dy="-2.8">3</tspan></text>
<text x="71.8" y="111.3" font-size="7">10<tspan font-size="5" dy="-2.8">2</tspan></text>
<text x="17.4" y="63.4" font-size="7">10<tspan font-size="5" dy="-2.8">2</tspan></text>
<text x="93.2" y="111.3" font-size="7">10<tspan font-size="5" dy="-2.8">3</tspan></text>
<text x="17.4" y="82.3" font-size="7">10<tspan font-size="5" dy="-2.8">1</tspan></text>
<text x="114.6" y="111.3" font-size="7">10<tspan font-size="5" dy="-2.8">4</tspan></text>
<text x="17.4" y="101.1" font-size="7">10<tspan font-size="5" dy="-2.8">0</tspan></text>
<text x="151.9" y="110.3" font-size="7">10<tspan font-size="5" dy="-2.8">0</tspan></text>
<text x="140.2" y="25.8" font-size="7">10<tspan font-size="5" dy="-2.8">4</tspan></text>
<text x="173.3" y="110.3" font-size="7">10<tspan font-size="5" dy="-2.8">1</tspan></text>
<text x="140.2" y="44.4" font-size="7">10<tspan font-size="5" dy="-2.8">3</tspan></text>
<text x="194.8" y="110.3" font-size="7">10<tspan font-size="5" dy="-2.8">2</tspan></text>
<text x="140.2" y="62.9" font-size="7">10<tspan font-size="5" dy="-2.8">2</tspan></text>
<text x="216.2" y="110.3" font-size="7">10<tspan font-size="5" dy="-2.8">3</tspan></text>
<text x="140.2" y="81.5" font-size="7">10<tspan font-size="5" dy="-2.8">1</tspan></text>
<text x="237.6" y="110.3" font-size="7">10<tspan font-size="5" dy="-2.8">4</tspan></text>
<text x="140.2" y="100.1" font-size="7">10<tspan font-size="5" dy="-2.8">0</tspan></text>
<text x="303.7" y="111.2" font-size="7">10<tspan font-size="5" dy="-2.8">0</tspan></text>
<text x="290.2" y="25.8" font-size="7">10<tspan font-size="5" dy="-2.8">4</tspan></text>
<text x="324.5" y="111.2" font-size="7">10<tspan font-size="5" dy="-2.8">1</tspan></text>
<text x="290.2" y="44.6" font-size="7">10<tspan font-size="5" dy="-2.8">3</tspan></text>
<text x="345.3" y="111.2" font-size="7">10<tspan font-size="5" dy="-2.8">2</tspan></text>
<text x="290.2" y="63.4" font-size="7">10<tspan font-size="5" dy="-2.8">2</tspan></text>
<text x="366.1" y="111.2" font-size="7">10<tspan font-size="5" dy="-2.8">3</tspan></text>
<text x="290.2" y="82.2" font-size="7">10<tspan font-size="5" dy="-2.8">1</tspan></text>
<text x="386.9" y="111.2" font-size="7">10<tspan font-size="5" dy="-2.8">4</tspan></text>
<text x="290.2" y="101.0" font-size="7">10<tspan font-size="5" dy="-2.8">0</tspan></text>
<text x="421.0" y="110.5" font-size="7">10<tspan font-size="5" dy="-2.8">0</tspan></text>
<text x="407.3" y="25.7" font-size="7">10<tspan font-size="5" dy="-2.8">4</tspan></text>
<text x="442.0" y="110.5" font-size="7">10<tspan font-size="5" dy="-2.8">1</tspan></text>
<text x="407.3" y="44.3" font-size="7">10<tspan font-size="5" dy="-2.8">3</tspan></text>
<text x="463.0" y="110.5" font-size="7">10<tspan font-size="5" dy="-2.8">2</tspan></text>
<text x="407.3" y="63.0" font-size="7">10<tspan font-size="5" dy="-2.8">2</tspan></text>
<text x="484.0" y="110.5" font-size="7">10<tspan font-size="5" dy="-2.8">3</tspan></text>
<text x="407.3" y="81.6" font-size="7">10<tspan font-size="5" dy="-2.8">1</tspan></text>
<text x="505.0" y="110.5" font-size="7">10<tspan font-size="5" dy="-2.8">4</tspan></text>
<text x="407.3" y="100.3" font-size="7">10<tspan font-size="5" dy="-2.8">0</tspan></text>
<text x="28.9" y="272.3" font-size="7">10<tspan font-size="5" dy="-2.8">0</tspan></text>
<text x="16.3" y="185.7" font-size="7">10<tspan font-size="5" dy="-2.8">4</tspan></text>
<text x="50.6" y="272.3" font-size="7">10<tspan font-size="5" dy="-2.8">1</tspan></text>
<text x="16.3" y="204.8" font-size="7">10<tspan font-size="5" dy="-2.8">3</tspan></text>
<text x="72.4" y="272.3" font-size="7">10<tspan font-size="5" dy="-2.8">2</tspan></text>
<text x="16.3" y="223.9" font-size="7">10<tspan font-size="5" dy="-2.8">2</tspan></text>
<text x="94.2" y="272.3" font-size="7">10<tspan font-size="5" dy="-2.8">3</tspan></text>
<text x="16.3" y="243.0" font-size="7">10<tspan font-size="5" dy="-2.8">1</tspan></text>
<text x="115.9" y="272.3" font-size="7">10<tspan font-size="5" dy="-2.8">4</tspan></text>
<text x="16.3" y="262.1" font-size="7">10<tspan font-size="5" dy="-2.8">0</tspan></text>
<text x="152.7" y="272.5" font-size="7">10<tspan font-size="5" dy="-2.8">0</tspan></text>
<text x="139.3" y="185.7" font-size="7">10<tspan font-size="5" dy="-2.8">4</tspan></text>
<text x="173.8" y="272.5" font-size="7">10<tspan font-size="5" dy="-2.8">1</tspan></text>
<text x="139.3" y="204.9" font-size="7">10<tspan font-size="5" dy="-2.8">3</tspan></text>
<text x="195.0" y="272.5" font-size="7">10<tspan font-size="5" dy="-2.8">2</tspan></text>
<text x="139.3" y="224.0" font-size="7">10<tspan font-size="5" dy="-2.8">2</tspan></text>
<text x="216.2" y="272.5" font-size="7">10<tspan font-size="5" dy="-2.8">3</tspan></text>
<text x="139.3" y="243.2" font-size="7">10<tspan font-size="5" dy="-2.8">1</tspan></text>
<text x="237.3" y="272.5" font-size="7">10<tspan font-size="5" dy="-2.8">4</tspan></text>
<text x="139.3" y="262.3" font-size="7">10<tspan font-size="5" dy="-2.8">0</tspan></text>
<text x="300.3" y="273.2" font-size="7">10<tspan font-size="5" dy="-2.8">0</tspan></text>
<text x="287.6" y="187.6" font-size="7">10<tspan font-size="5" dy="-2.8">4</tspan></text>
<text x="321.8" y="273.2" font-size="7">10<tspan font-size="5" dy="-2.8">1</tspan></text>
<text x="287.6" y="206.5" font-size="7">10<tspan font-size="5" dy="-2.8">3</tspan></text>
<text x="343.4" y="273.2" font-size="7">10<tspan font-size="5" dy="-2.8">2</tspan></text>
<text x="287.6" y="225.3" font-size="7">10<tspan font-size="5" dy="-2.8">2</tspan></text>
<text x="364.9" y="273.2" font-size="7">10<tspan font-size="5" dy="-2.8">3</tspan></text>
<text x="287.6" y="244.2" font-size="7">10<tspan font-size="5" dy="-2.8">1</tspan></text>
<text x="386.4" y="273.2" font-size="7">10<tspan font-size="5" dy="-2.8">4</tspan></text>
<text x="287.6" y="263.0" font-size="7">10<tspan font-size="5" dy="-2.8">0</tspan></text>
<text x="423.8" y="273.4" font-size="7">10<tspan font-size="5" dy="-2.8">0</tspan></text>
<text x="409.6" y="187.2" font-size="7">10<tspan font-size="5" dy="-2.8">4</tspan></text>
<text x="445.0" y="273.4" font-size="7">10<tspan font-size="5" dy="-2.8">1</tspan></text>
<text x="409.6" y="206.2" font-size="7">10<tspan font-size="5" dy="-2.8">3</tspan></text>
<text x="466.2" y="273.4" font-size="7">10<tspan font-size="5" dy="-2.8">2</tspan></text>
<text x="409.6" y="225.2" font-size="7">10<tspan font-size="5" dy="-2.8">2</tspan></text>
<text x="487.4" y="273.4" font-size="7">10<tspan font-size="5" dy="-2.8">3</tspan></text>
<text x="409.6" y="244.2" font-size="7">10<tspan font-size="5" dy="-2.8">1</tspan></text>
<text x="508.6" y="273.4" font-size="7">10<tspan font-size="5" dy="-2.8">4</tspan></text>
<text x="409.6" y="263.2" font-size="7">10<tspan font-size="5" dy="-2.8">0</tspan></text>
</g>
<g font-family='"Liberation Sans", sans-serif' font-size="12.6" fill="#111" text-anchor="middle">
<text x="77.7" y="9.2">CONTROL</text>
<text x="197.25" y="9.2">DAPT</text>
<text x="351.25" y="9.2">CONTROL</text>
<text x="467.25" y="9.2">DAPT</text>
</g>
<g stroke="#000" stroke-width="1.3" fill="none">
<path d="M6.5 26V45.2M6.5 76.7V126H117.7M161.5 126H240.5"/>
<path d="M279 26V47.8M279 85.5V125.9H377.7M447.7 125.9H507.8"/>
<path d="M7 187V208M7 242.7V286.8H120.8M159.2 286.8H241.5"/>
<path d="M278.2 189V208.6M278.2 245.2V289.5H376.2M442 289.5H511.4"/>
</g>
<path d="M6.5 18.6L2.2 26.2L10.8 26.2Z" fill="#000"/>
<path d="M279 18.8L274.5 26.4L283.5 26.4Z" fill="#000"/>
<path d="M7 179.5L2.7 187.2L11.3 187.2Z" fill="#000"/>
<path d="M278.3 182L273.8 189.8L282.8 189.8Z" fill="#000"/>
<path d="M248 126L240.2 121.75L240.2 130.25Z" fill="#000"/>
<path d="M515.5 125.9L507.4 121.7L507.4 130.1Z" fill="#000"/>
<path d="M248.9 286.7L241.1 282.4L241.1 291Z" fill="#000"/>
<path d="M518.7 289.5L511 285.3L511 293.7Z" fill="#000"/>
<g font-family='"Liberation Sans", sans-serif' font-size="12.6" fill="#111">
<text transform="translate(10.8 61.7) rotate(-90)" text-anchor="middle" letter-spacing="0.6">CD4</text>
<text transform="translate(283.6 65.45) rotate(-90)" text-anchor="middle" letter-spacing="1.5">CD7</text>
<text transform="translate(10.8 225.6) rotate(-90)" text-anchor="middle" letter-spacing="1.15">CD4</text>
<text transform="translate(282.5 227.75) rotate(-90)" text-anchor="middle" letter-spacing="1.35">CD3</text>
<text x="122.3" y="128.9" letter-spacing="0.55">CD8<tspan font-family="'Liberation Serif', serif" font-style="italic">&#946;</tspan></text>
<text x="384.3" y="129.2" letter-spacing="1.17">IC-TCR<tspan font-family="'Liberation Serif', serif" font-style="italic">&#946;</tspan></text>
<text x="124.2" y="290" letter-spacing="2.6">CD3</text>
<text x="388.3" y="292.8" letter-spacing="1.45">TCR<tspan font-family="'Liberation Serif', serif" font-style="italic">&#945;&#946;</tspan></text>
</g>
<g stroke="#111" stroke-width="1.2" fill="none">
<path d="M75.3 133.4V168.9M46 150.9H106"/>
<path d="M198.6 133.4V168.6M169.2 150.5H228"/>
<path d="M350.4 132.7V168.4M321.4 150.2H381.2"/>
<path d="M469 133.1V168.4M439.2 150.2H498.6"/>
<path d="M75.3 296.5V332.4M46 314.5H105.7"/>
<path d="M198.6 296V332M169.2 314.5H228"/>
<path d="M346.6 295.7V331.7M317.4 313.6H376.6"/>
<path d="M469.7 295.4V331M440.8 312.9H500.4"/>
</g>
<g font-family='"Liberation Sans", sans-serif' font-size="12" fill="#111" text-anchor="middle" letter-spacing="0.3">
<text x="60.8" y="146.2">41.7</text>
<text x="91.3" y="146.2">56.9</text>
<text x="61.4" y="164">1.2</text>
<text x="90.6" y="164">0.1</text>
<text x="182.35" y="146.2">45.7</text>
<text x="214.85" y="146.2">52.8</text>
<text x="183.35" y="164">1.5</text>
<text x="215.3" y="164">0</text>
<text x="334.7" y="145.5">31.7</text>
<text x="366.95" y="145.5">61.6</text>
<text x="335.35" y="163.7">2.3</text>
<text x="366.35" y="163.7">4.4</text>
<text x="454" y="145.5">65.3</text>
<text x="483.45" y="145.5">7.9</text>
<text x="453.7" y="163.7">24.1</text>
<text x="483.95" y="163.7">2.7</text>
<text x="57.95" y="308.8">47.6</text>
<text x="91.65" y="308.8">51.1</text>
<text x="57.85" y="327.7">0.3</text>
<text x="90.6" y="327.7">1.0</text>
<text x="182.7" y="308.8">90.2</text>
<text x="213.65" y="308.8">8.1</text>
<text x="182.8" y="327.7">0.8</text>
<text x="214" y="327.7">0.9</text>
<text x="328.85" y="308.8">32.8</text>
<text x="362.3" y="308.8">19.3</text>
<text x="329.45" y="327.4">47.2</text>
<text x="454.6" y="308.2">4.8</text>
<text x="484.7" y="308.2">4.3</text>
<text x="454.5" y="326.6">88.2</text>
</g>
</svg>
</body></html>
